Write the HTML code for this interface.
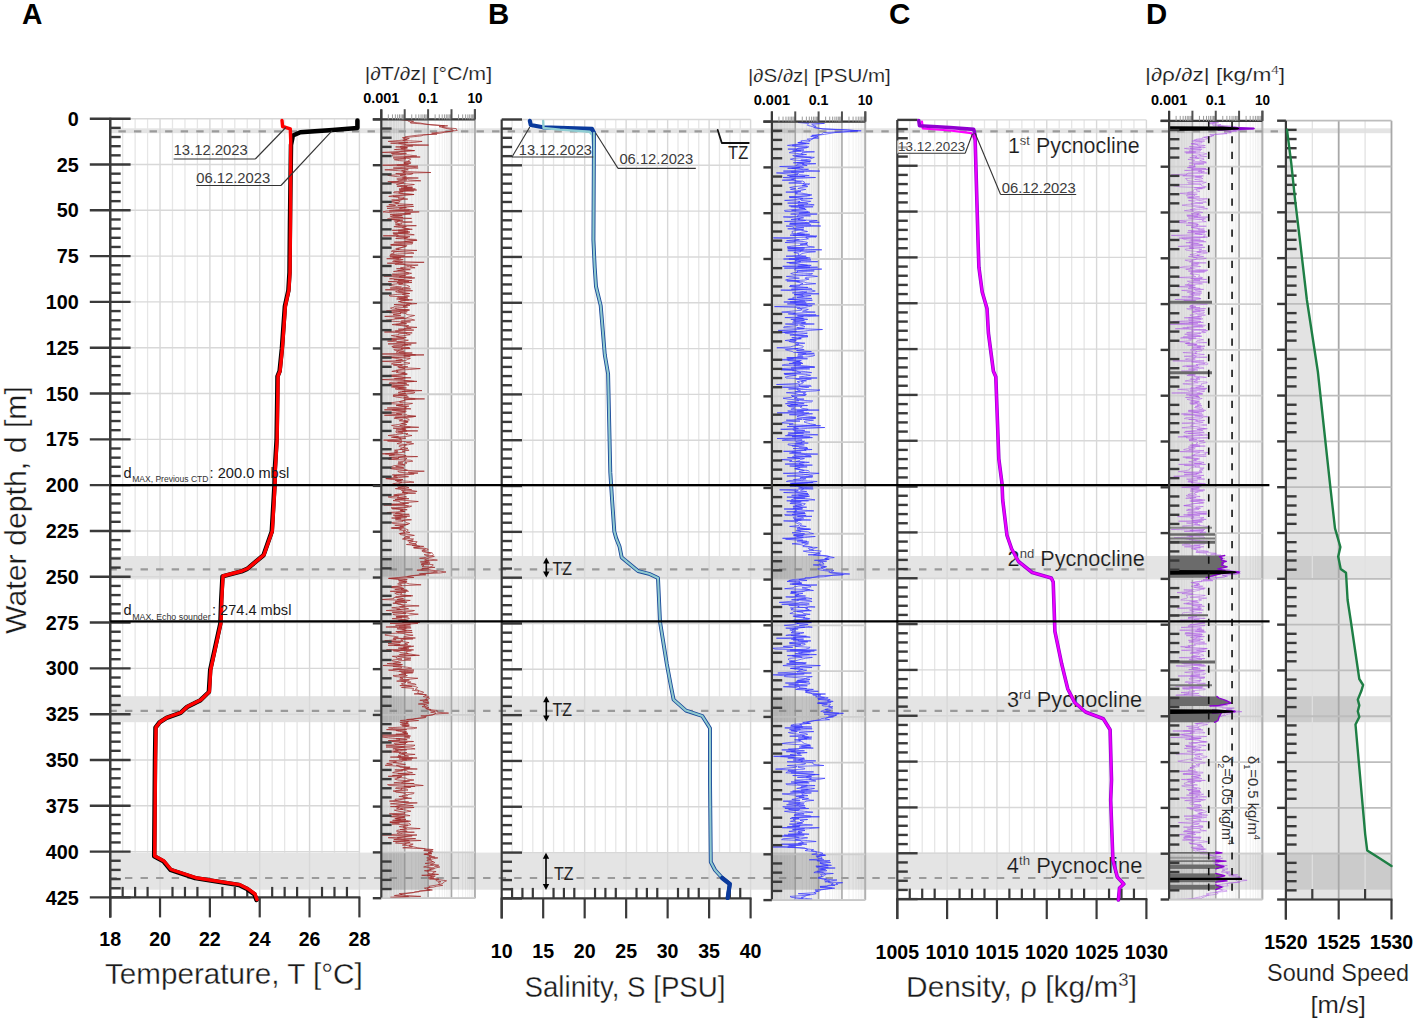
<!DOCTYPE html><html><head><meta charset="utf-8"><style>html,body{margin:0;padding:0;background:#fff;overflow:hidden;}svg{display:block;}</style></head><body><svg width="1417" height="1024" viewBox="0 0 1417 1024">
<style>.th{stroke:#fff;stroke-width:0.3px;}.th2{stroke:#fff;stroke-width:0.15px;}</style>
<rect x="0" y="0" width="1417" height="1024" fill="#ffffff" />
<rect x="381.3" y="119.4" width="23.4" height="778.8" fill="#d9d9d9" />
<rect x="404.7" y="119.4" width="23.4" height="778.8" fill="#efefef" />
<line x1="388.34" y1="119.4" x2="388.34" y2="898.2" stroke="#e4e4e4" stroke-width="1" />
<line x1="392.46" y1="119.4" x2="392.46" y2="898.2" stroke="#e4e4e4" stroke-width="1" />
<line x1="395.39" y1="119.4" x2="395.39" y2="898.2" stroke="#e4e4e4" stroke-width="1" />
<line x1="397.66" y1="119.4" x2="397.66" y2="898.2" stroke="#e4e4e4" stroke-width="1" />
<line x1="399.51" y1="119.4" x2="399.51" y2="898.2" stroke="#e4e4e4" stroke-width="1" />
<line x1="401.08" y1="119.4" x2="401.08" y2="898.2" stroke="#e4e4e4" stroke-width="1" />
<line x1="402.43" y1="119.4" x2="402.43" y2="898.2" stroke="#e4e4e4" stroke-width="1" />
<line x1="403.63" y1="119.4" x2="403.63" y2="898.2" stroke="#e4e4e4" stroke-width="1" />
<line x1="411.74" y1="119.4" x2="411.74" y2="898.2" stroke="#e4e4e4" stroke-width="1" />
<line x1="415.86" y1="119.4" x2="415.86" y2="898.2" stroke="#e4e4e4" stroke-width="1" />
<line x1="418.79" y1="119.4" x2="418.79" y2="898.2" stroke="#e4e4e4" stroke-width="1" />
<line x1="421.06" y1="119.4" x2="421.06" y2="898.2" stroke="#e4e4e4" stroke-width="1" />
<line x1="422.91" y1="119.4" x2="422.91" y2="898.2" stroke="#e4e4e4" stroke-width="1" />
<line x1="424.48" y1="119.4" x2="424.48" y2="898.2" stroke="#e4e4e4" stroke-width="1" />
<line x1="425.83" y1="119.4" x2="425.83" y2="898.2" stroke="#e4e4e4" stroke-width="1" />
<line x1="427.03" y1="119.4" x2="427.03" y2="898.2" stroke="#e4e4e4" stroke-width="1" />
<line x1="435.14" y1="119.4" x2="435.14" y2="898.2" stroke="#f0f0f0" stroke-width="1" />
<line x1="439.26" y1="119.4" x2="439.26" y2="898.2" stroke="#f0f0f0" stroke-width="1" />
<line x1="442.19" y1="119.4" x2="442.19" y2="898.2" stroke="#f0f0f0" stroke-width="1" />
<line x1="444.46" y1="119.4" x2="444.46" y2="898.2" stroke="#f0f0f0" stroke-width="1" />
<line x1="446.31" y1="119.4" x2="446.31" y2="898.2" stroke="#f0f0f0" stroke-width="1" />
<line x1="447.88" y1="119.4" x2="447.88" y2="898.2" stroke="#f0f0f0" stroke-width="1" />
<line x1="449.23" y1="119.4" x2="449.23" y2="898.2" stroke="#f0f0f0" stroke-width="1" />
<line x1="450.43" y1="119.4" x2="450.43" y2="898.2" stroke="#f0f0f0" stroke-width="1" />
<line x1="458.54" y1="119.4" x2="458.54" y2="898.2" stroke="#f0f0f0" stroke-width="1" />
<line x1="462.66" y1="119.4" x2="462.66" y2="898.2" stroke="#f0f0f0" stroke-width="1" />
<line x1="465.59" y1="119.4" x2="465.59" y2="898.2" stroke="#f0f0f0" stroke-width="1" />
<line x1="467.86" y1="119.4" x2="467.86" y2="898.2" stroke="#f0f0f0" stroke-width="1" />
<line x1="469.71" y1="119.4" x2="469.71" y2="898.2" stroke="#f0f0f0" stroke-width="1" />
<line x1="471.28" y1="119.4" x2="471.28" y2="898.2" stroke="#f0f0f0" stroke-width="1" />
<line x1="472.63" y1="119.4" x2="472.63" y2="898.2" stroke="#f0f0f0" stroke-width="1" />
<line x1="473.83" y1="119.4" x2="473.83" y2="898.2" stroke="#f0f0f0" stroke-width="1" />
<rect x="771.9" y="121.6" width="23.35" height="778.5" fill="#d9d9d9" />
<rect x="795.25" y="121.6" width="23.35" height="778.5" fill="#efefef" />
<line x1="778.93" y1="121.6" x2="778.93" y2="900.1" stroke="#e4e4e4" stroke-width="1" />
<line x1="783.04" y1="121.6" x2="783.04" y2="900.1" stroke="#e4e4e4" stroke-width="1" />
<line x1="785.96" y1="121.6" x2="785.96" y2="900.1" stroke="#e4e4e4" stroke-width="1" />
<line x1="788.22" y1="121.6" x2="788.22" y2="900.1" stroke="#e4e4e4" stroke-width="1" />
<line x1="790.07" y1="121.6" x2="790.07" y2="900.1" stroke="#e4e4e4" stroke-width="1" />
<line x1="791.63" y1="121.6" x2="791.63" y2="900.1" stroke="#e4e4e4" stroke-width="1" />
<line x1="792.99" y1="121.6" x2="792.99" y2="900.1" stroke="#e4e4e4" stroke-width="1" />
<line x1="794.18" y1="121.6" x2="794.18" y2="900.1" stroke="#e4e4e4" stroke-width="1" />
<line x1="802.28" y1="121.6" x2="802.28" y2="900.1" stroke="#e4e4e4" stroke-width="1" />
<line x1="806.39" y1="121.6" x2="806.39" y2="900.1" stroke="#e4e4e4" stroke-width="1" />
<line x1="809.31" y1="121.6" x2="809.31" y2="900.1" stroke="#e4e4e4" stroke-width="1" />
<line x1="811.57" y1="121.6" x2="811.57" y2="900.1" stroke="#e4e4e4" stroke-width="1" />
<line x1="813.42" y1="121.6" x2="813.42" y2="900.1" stroke="#e4e4e4" stroke-width="1" />
<line x1="814.98" y1="121.6" x2="814.98" y2="900.1" stroke="#e4e4e4" stroke-width="1" />
<line x1="816.34" y1="121.6" x2="816.34" y2="900.1" stroke="#e4e4e4" stroke-width="1" />
<line x1="817.53" y1="121.6" x2="817.53" y2="900.1" stroke="#e4e4e4" stroke-width="1" />
<line x1="825.63" y1="121.6" x2="825.63" y2="900.1" stroke="#f0f0f0" stroke-width="1" />
<line x1="829.74" y1="121.6" x2="829.74" y2="900.1" stroke="#f0f0f0" stroke-width="1" />
<line x1="832.66" y1="121.6" x2="832.66" y2="900.1" stroke="#f0f0f0" stroke-width="1" />
<line x1="834.92" y1="121.6" x2="834.92" y2="900.1" stroke="#f0f0f0" stroke-width="1" />
<line x1="836.77" y1="121.6" x2="836.77" y2="900.1" stroke="#f0f0f0" stroke-width="1" />
<line x1="838.33" y1="121.6" x2="838.33" y2="900.1" stroke="#f0f0f0" stroke-width="1" />
<line x1="839.69" y1="121.6" x2="839.69" y2="900.1" stroke="#f0f0f0" stroke-width="1" />
<line x1="840.88" y1="121.6" x2="840.88" y2="900.1" stroke="#f0f0f0" stroke-width="1" />
<line x1="848.98" y1="121.6" x2="848.98" y2="900.1" stroke="#f0f0f0" stroke-width="1" />
<line x1="853.09" y1="121.6" x2="853.09" y2="900.1" stroke="#f0f0f0" stroke-width="1" />
<line x1="856.01" y1="121.6" x2="856.01" y2="900.1" stroke="#f0f0f0" stroke-width="1" />
<line x1="858.27" y1="121.6" x2="858.27" y2="900.1" stroke="#f0f0f0" stroke-width="1" />
<line x1="860.12" y1="121.6" x2="860.12" y2="900.1" stroke="#f0f0f0" stroke-width="1" />
<line x1="861.68" y1="121.6" x2="861.68" y2="900.1" stroke="#f0f0f0" stroke-width="1" />
<line x1="863.04" y1="121.6" x2="863.04" y2="900.1" stroke="#f0f0f0" stroke-width="1" />
<line x1="864.23" y1="121.6" x2="864.23" y2="900.1" stroke="#f0f0f0" stroke-width="1" />
<rect x="1169.1" y="120.9" width="23.33" height="778.6" fill="#d9d9d9" />
<rect x="1192.42" y="120.9" width="23.33" height="778.6" fill="#efefef" />
<line x1="1176.12" y1="120.9" x2="1176.12" y2="899.5" stroke="#e4e4e4" stroke-width="1" />
<line x1="1180.23" y1="120.9" x2="1180.23" y2="899.5" stroke="#e4e4e4" stroke-width="1" />
<line x1="1183.14" y1="120.9" x2="1183.14" y2="899.5" stroke="#e4e4e4" stroke-width="1" />
<line x1="1185.4" y1="120.9" x2="1185.4" y2="899.5" stroke="#e4e4e4" stroke-width="1" />
<line x1="1187.25" y1="120.9" x2="1187.25" y2="899.5" stroke="#e4e4e4" stroke-width="1" />
<line x1="1188.81" y1="120.9" x2="1188.81" y2="899.5" stroke="#e4e4e4" stroke-width="1" />
<line x1="1190.16" y1="120.9" x2="1190.16" y2="899.5" stroke="#e4e4e4" stroke-width="1" />
<line x1="1191.36" y1="120.9" x2="1191.36" y2="899.5" stroke="#e4e4e4" stroke-width="1" />
<line x1="1199.45" y1="120.9" x2="1199.45" y2="899.5" stroke="#e4e4e4" stroke-width="1" />
<line x1="1203.55" y1="120.9" x2="1203.55" y2="899.5" stroke="#e4e4e4" stroke-width="1" />
<line x1="1206.47" y1="120.9" x2="1206.47" y2="899.5" stroke="#e4e4e4" stroke-width="1" />
<line x1="1208.73" y1="120.9" x2="1208.73" y2="899.5" stroke="#e4e4e4" stroke-width="1" />
<line x1="1210.58" y1="120.9" x2="1210.58" y2="899.5" stroke="#e4e4e4" stroke-width="1" />
<line x1="1212.14" y1="120.9" x2="1212.14" y2="899.5" stroke="#e4e4e4" stroke-width="1" />
<line x1="1213.49" y1="120.9" x2="1213.49" y2="899.5" stroke="#e4e4e4" stroke-width="1" />
<line x1="1214.68" y1="120.9" x2="1214.68" y2="899.5" stroke="#e4e4e4" stroke-width="1" />
<line x1="1222.77" y1="120.9" x2="1222.77" y2="899.5" stroke="#f0f0f0" stroke-width="1" />
<line x1="1226.88" y1="120.9" x2="1226.88" y2="899.5" stroke="#f0f0f0" stroke-width="1" />
<line x1="1229.79" y1="120.9" x2="1229.79" y2="899.5" stroke="#f0f0f0" stroke-width="1" />
<line x1="1232.05" y1="120.9" x2="1232.05" y2="899.5" stroke="#f0f0f0" stroke-width="1" />
<line x1="1233.9" y1="120.9" x2="1233.9" y2="899.5" stroke="#f0f0f0" stroke-width="1" />
<line x1="1235.46" y1="120.9" x2="1235.46" y2="899.5" stroke="#f0f0f0" stroke-width="1" />
<line x1="1236.81" y1="120.9" x2="1236.81" y2="899.5" stroke="#f0f0f0" stroke-width="1" />
<line x1="1238.01" y1="120.9" x2="1238.01" y2="899.5" stroke="#f0f0f0" stroke-width="1" />
<line x1="1246.1" y1="120.9" x2="1246.1" y2="899.5" stroke="#f0f0f0" stroke-width="1" />
<line x1="1250.2" y1="120.9" x2="1250.2" y2="899.5" stroke="#f0f0f0" stroke-width="1" />
<line x1="1253.12" y1="120.9" x2="1253.12" y2="899.5" stroke="#f0f0f0" stroke-width="1" />
<line x1="1255.38" y1="120.9" x2="1255.38" y2="899.5" stroke="#f0f0f0" stroke-width="1" />
<line x1="1257.23" y1="120.9" x2="1257.23" y2="899.5" stroke="#f0f0f0" stroke-width="1" />
<line x1="1258.79" y1="120.9" x2="1258.79" y2="899.5" stroke="#f0f0f0" stroke-width="1" />
<line x1="1260.14" y1="120.9" x2="1260.14" y2="899.5" stroke="#f0f0f0" stroke-width="1" />
<line x1="1261.33" y1="120.9" x2="1261.33" y2="899.5" stroke="#f0f0f0" stroke-width="1" />
<path d="M1285.9 129.8 L1287 129.8 L1291.2 162.7 L1295.1 200 L1299.9 240 L1306.9 300 L1317.9 372 L1330.4 487.7 L1335 528.3 L1340.4 547 L1338.2 556.5 L1340.7 569 L1346 572.8 L1347.6 600 L1350.7 620.3 L1359.3 679 L1363.1 685 L1361.4 690.8 L1357.8 699.6 L1359.3 705.4 L1357.8 711.3 L1359.3 717 L1355.5 724.5 L1365.2 834.3 L1367.2 850.4 L1374 854.8 L1380.7 859 L1391.5 866 L1391.5 899.5 L1285.9 899.5Z" fill="#e3e3e3"/>
<line x1="122.66" y1="118.7" x2="122.66" y2="897.4" stroke="#e6e6e6" stroke-width="1.3" />
<line x1="135.12" y1="118.7" x2="135.12" y2="897.4" stroke="#e6e6e6" stroke-width="1.3" />
<line x1="147.58" y1="118.7" x2="147.58" y2="897.4" stroke="#e6e6e6" stroke-width="1.3" />
<line x1="172.5" y1="118.7" x2="172.5" y2="897.4" stroke="#e6e6e6" stroke-width="1.3" />
<line x1="184.96" y1="118.7" x2="184.96" y2="897.4" stroke="#e6e6e6" stroke-width="1.3" />
<line x1="197.42" y1="118.7" x2="197.42" y2="897.4" stroke="#e6e6e6" stroke-width="1.3" />
<line x1="222.34" y1="118.7" x2="222.34" y2="897.4" stroke="#e6e6e6" stroke-width="1.3" />
<line x1="234.8" y1="118.7" x2="234.8" y2="897.4" stroke="#e6e6e6" stroke-width="1.3" />
<line x1="247.26" y1="118.7" x2="247.26" y2="897.4" stroke="#e6e6e6" stroke-width="1.3" />
<line x1="272.18" y1="118.7" x2="272.18" y2="897.4" stroke="#e6e6e6" stroke-width="1.3" />
<line x1="284.64" y1="118.7" x2="284.64" y2="897.4" stroke="#e6e6e6" stroke-width="1.3" />
<line x1="297.1" y1="118.7" x2="297.1" y2="897.4" stroke="#e6e6e6" stroke-width="1.3" />
<line x1="322.02" y1="118.7" x2="322.02" y2="897.4" stroke="#e6e6e6" stroke-width="1.3" />
<line x1="334.48" y1="118.7" x2="334.48" y2="897.4" stroke="#e6e6e6" stroke-width="1.3" />
<line x1="346.94" y1="118.7" x2="346.94" y2="897.4" stroke="#e6e6e6" stroke-width="1.3" />
<line x1="512.07" y1="119.5" x2="512.07" y2="898.4" stroke="#e6e6e6" stroke-width="1.3" />
<line x1="522.44" y1="119.5" x2="522.44" y2="898.4" stroke="#e6e6e6" stroke-width="1.3" />
<line x1="532.81" y1="119.5" x2="532.81" y2="898.4" stroke="#e6e6e6" stroke-width="1.3" />
<line x1="553.55" y1="119.5" x2="553.55" y2="898.4" stroke="#e6e6e6" stroke-width="1.3" />
<line x1="563.92" y1="119.5" x2="563.92" y2="898.4" stroke="#e6e6e6" stroke-width="1.3" />
<line x1="574.3" y1="119.5" x2="574.3" y2="898.4" stroke="#e6e6e6" stroke-width="1.3" />
<line x1="595.04" y1="119.5" x2="595.04" y2="898.4" stroke="#e6e6e6" stroke-width="1.3" />
<line x1="605.41" y1="119.5" x2="605.41" y2="898.4" stroke="#e6e6e6" stroke-width="1.3" />
<line x1="615.78" y1="119.5" x2="615.78" y2="898.4" stroke="#e6e6e6" stroke-width="1.3" />
<line x1="636.52" y1="119.5" x2="636.52" y2="898.4" stroke="#e6e6e6" stroke-width="1.3" />
<line x1="646.89" y1="119.5" x2="646.89" y2="898.4" stroke="#e6e6e6" stroke-width="1.3" />
<line x1="657.26" y1="119.5" x2="657.26" y2="898.4" stroke="#e6e6e6" stroke-width="1.3" />
<line x1="678" y1="119.5" x2="678" y2="898.4" stroke="#e6e6e6" stroke-width="1.3" />
<line x1="688.38" y1="119.5" x2="688.38" y2="898.4" stroke="#e6e6e6" stroke-width="1.3" />
<line x1="698.75" y1="119.5" x2="698.75" y2="898.4" stroke="#e6e6e6" stroke-width="1.3" />
<line x1="719.49" y1="119.5" x2="719.49" y2="898.4" stroke="#e6e6e6" stroke-width="1.3" />
<line x1="729.86" y1="119.5" x2="729.86" y2="898.4" stroke="#e6e6e6" stroke-width="1.3" />
<line x1="740.23" y1="119.5" x2="740.23" y2="898.4" stroke="#e6e6e6" stroke-width="1.3" />
<line x1="909.75" y1="119.9" x2="909.75" y2="899.1" stroke="#e6e6e6" stroke-width="1.3" />
<line x1="922.21" y1="119.9" x2="922.21" y2="899.1" stroke="#e6e6e6" stroke-width="1.3" />
<line x1="934.66" y1="119.9" x2="934.66" y2="899.1" stroke="#e6e6e6" stroke-width="1.3" />
<line x1="959.58" y1="119.9" x2="959.58" y2="899.1" stroke="#e6e6e6" stroke-width="1.3" />
<line x1="972.03" y1="119.9" x2="972.03" y2="899.1" stroke="#e6e6e6" stroke-width="1.3" />
<line x1="984.49" y1="119.9" x2="984.49" y2="899.1" stroke="#e6e6e6" stroke-width="1.3" />
<line x1="1009.39" y1="119.9" x2="1009.39" y2="899.1" stroke="#e6e6e6" stroke-width="1.3" />
<line x1="1021.85" y1="119.9" x2="1021.85" y2="899.1" stroke="#e6e6e6" stroke-width="1.3" />
<line x1="1034.31" y1="119.9" x2="1034.31" y2="899.1" stroke="#e6e6e6" stroke-width="1.3" />
<line x1="1059.22" y1="119.9" x2="1059.22" y2="899.1" stroke="#e6e6e6" stroke-width="1.3" />
<line x1="1071.67" y1="119.9" x2="1071.67" y2="899.1" stroke="#e6e6e6" stroke-width="1.3" />
<line x1="1084.12" y1="119.9" x2="1084.12" y2="899.1" stroke="#e6e6e6" stroke-width="1.3" />
<line x1="1109.04" y1="119.9" x2="1109.04" y2="899.1" stroke="#e6e6e6" stroke-width="1.3" />
<line x1="1121.49" y1="119.9" x2="1121.49" y2="899.1" stroke="#e6e6e6" stroke-width="1.3" />
<line x1="1133.95" y1="119.9" x2="1133.95" y2="899.1" stroke="#e6e6e6" stroke-width="1.3" />
<rect x="110.2" y="128.3" width="271.1" height="4.9" fill="#e4e4e4" />
<rect x="474.9" y="128.3" width="297" height="4.9" fill="#e4e4e4" />
<rect x="865.3" y="128.3" width="303.8" height="4.9" fill="#e4e4e4" />
<rect x="1262.4" y="128.3" width="23.5" height="4.9" fill="#e4e4e4" />
<rect x="381.3" y="128.3" width="93.6" height="4.9" fill="rgba(0,0,0,0.105)" />
<rect x="771.9" y="128.3" width="93.4" height="4.9" fill="rgba(0,0,0,0.105)" />
<rect x="1169.1" y="128.3" width="93.3" height="4.9" fill="rgba(0,0,0,0.105)" />
<rect x="1285.9" y="128.3" width="105.6" height="4.9" fill="rgba(0,0,0,0.105)" />
<rect x="110.2" y="556" width="271.1" height="23.4" fill="#e4e4e4" />
<rect x="474.9" y="556" width="297" height="23.4" fill="#e4e4e4" />
<rect x="865.3" y="556" width="303.8" height="23.4" fill="#e4e4e4" />
<rect x="1262.4" y="556" width="23.5" height="23.4" fill="#e4e4e4" />
<rect x="381.3" y="556" width="93.6" height="23.4" fill="rgba(0,0,0,0.105)" />
<rect x="771.9" y="556" width="93.4" height="23.4" fill="rgba(0,0,0,0.105)" />
<rect x="1169.1" y="556" width="93.3" height="23.4" fill="rgba(0,0,0,0.105)" />
<rect x="1285.9" y="556" width="105.6" height="23.4" fill="rgba(0,0,0,0.105)" />
<rect x="110.2" y="696.2" width="271.1" height="26" fill="#e4e4e4" />
<rect x="474.9" y="696.2" width="297" height="26" fill="#e4e4e4" />
<rect x="865.3" y="696.2" width="303.8" height="26" fill="#e4e4e4" />
<rect x="1262.4" y="696.2" width="23.5" height="26" fill="#e4e4e4" />
<rect x="381.3" y="696.2" width="93.6" height="26" fill="rgba(0,0,0,0.105)" />
<rect x="771.9" y="696.2" width="93.4" height="26" fill="rgba(0,0,0,0.105)" />
<rect x="1169.1" y="696.2" width="93.3" height="26" fill="rgba(0,0,0,0.105)" />
<rect x="1285.9" y="696.2" width="105.6" height="26" fill="rgba(0,0,0,0.105)" />
<rect x="110.2" y="852.6" width="271.1" height="37.1" fill="#e4e4e4" />
<rect x="474.9" y="852.6" width="297" height="37.1" fill="#e4e4e4" />
<rect x="865.3" y="852.6" width="303.8" height="37.1" fill="#e4e4e4" />
<rect x="1262.4" y="852.6" width="23.5" height="37.1" fill="#e4e4e4" />
<rect x="381.3" y="852.6" width="93.6" height="37.1" fill="rgba(0,0,0,0.105)" />
<rect x="771.9" y="852.6" width="93.4" height="37.1" fill="rgba(0,0,0,0.105)" />
<rect x="1169.1" y="852.6" width="93.3" height="37.1" fill="rgba(0,0,0,0.105)" />
<rect x="1285.9" y="852.6" width="105.6" height="37.1" fill="rgba(0,0,0,0.105)" />
<line x1="160.04" y1="118.7" x2="160.04" y2="897.4" stroke="#d8d8d8" stroke-width="1.4" />
<line x1="209.88" y1="118.7" x2="209.88" y2="897.4" stroke="#d8d8d8" stroke-width="1.4" />
<line x1="259.72" y1="118.7" x2="259.72" y2="897.4" stroke="#d8d8d8" stroke-width="1.4" />
<line x1="309.56" y1="118.7" x2="309.56" y2="897.4" stroke="#d8d8d8" stroke-width="1.4" />
<line x1="359.4" y1="118.7" x2="359.4" y2="897.4" stroke="#d8d8d8" stroke-width="1.4" />
<line x1="543.18" y1="119.5" x2="543.18" y2="898.4" stroke="#d8d8d8" stroke-width="1.4" />
<line x1="584.67" y1="119.5" x2="584.67" y2="898.4" stroke="#d8d8d8" stroke-width="1.4" />
<line x1="626.15" y1="119.5" x2="626.15" y2="898.4" stroke="#d8d8d8" stroke-width="1.4" />
<line x1="667.63" y1="119.5" x2="667.63" y2="898.4" stroke="#d8d8d8" stroke-width="1.4" />
<line x1="709.12" y1="119.5" x2="709.12" y2="898.4" stroke="#d8d8d8" stroke-width="1.4" />
<line x1="750.6" y1="119.5" x2="750.6" y2="898.4" stroke="#d8d8d8" stroke-width="1.4" />
<line x1="947.12" y1="119.9" x2="947.12" y2="899.1" stroke="#d8d8d8" stroke-width="1.4" />
<line x1="996.94" y1="119.9" x2="996.94" y2="899.1" stroke="#d8d8d8" stroke-width="1.4" />
<line x1="1046.76" y1="119.9" x2="1046.76" y2="899.1" stroke="#d8d8d8" stroke-width="1.4" />
<line x1="1096.58" y1="119.9" x2="1096.58" y2="899.1" stroke="#d8d8d8" stroke-width="1.4" />
<line x1="1146.4" y1="119.9" x2="1146.4" y2="899.1" stroke="#d8d8d8" stroke-width="1.4" />
<line x1="110.2" y1="118.7" x2="359.4" y2="118.7" stroke="#d8d8d8" stroke-width="1.4" />
<line x1="110.2" y1="164.51" x2="359.4" y2="164.51" stroke="#d8d8d8" stroke-width="1.4" />
<line x1="110.2" y1="210.31" x2="359.4" y2="210.31" stroke="#d8d8d8" stroke-width="1.4" />
<line x1="110.2" y1="256.12" x2="359.4" y2="256.12" stroke="#d8d8d8" stroke-width="1.4" />
<line x1="110.2" y1="301.92" x2="359.4" y2="301.92" stroke="#d8d8d8" stroke-width="1.4" />
<line x1="110.2" y1="347.73" x2="359.4" y2="347.73" stroke="#d8d8d8" stroke-width="1.4" />
<line x1="110.2" y1="393.54" x2="359.4" y2="393.54" stroke="#d8d8d8" stroke-width="1.4" />
<line x1="110.2" y1="439.34" x2="359.4" y2="439.34" stroke="#d8d8d8" stroke-width="1.4" />
<line x1="110.2" y1="485.15" x2="359.4" y2="485.15" stroke="#d8d8d8" stroke-width="1.4" />
<line x1="110.2" y1="530.95" x2="359.4" y2="530.95" stroke="#d8d8d8" stroke-width="1.4" />
<line x1="110.2" y1="576.76" x2="359.4" y2="576.76" stroke="#d8d8d8" stroke-width="1.4" />
<line x1="110.2" y1="622.56" x2="359.4" y2="622.56" stroke="#d8d8d8" stroke-width="1.4" />
<line x1="110.2" y1="668.37" x2="359.4" y2="668.37" stroke="#d8d8d8" stroke-width="1.4" />
<line x1="110.2" y1="714.18" x2="359.4" y2="714.18" stroke="#d8d8d8" stroke-width="1.4" />
<line x1="110.2" y1="759.98" x2="359.4" y2="759.98" stroke="#d8d8d8" stroke-width="1.4" />
<line x1="110.2" y1="805.79" x2="359.4" y2="805.79" stroke="#d8d8d8" stroke-width="1.4" />
<line x1="110.2" y1="851.59" x2="359.4" y2="851.59" stroke="#d8d8d8" stroke-width="1.4" />
<line x1="110.2" y1="897.4" x2="359.4" y2="897.4" stroke="#d8d8d8" stroke-width="1.4" />
<line x1="501.7" y1="119.5" x2="750.6" y2="119.5" stroke="#d8d8d8" stroke-width="1.4" />
<line x1="501.7" y1="165.32" x2="750.6" y2="165.32" stroke="#d8d8d8" stroke-width="1.4" />
<line x1="501.7" y1="211.14" x2="750.6" y2="211.14" stroke="#d8d8d8" stroke-width="1.4" />
<line x1="501.7" y1="256.95" x2="750.6" y2="256.95" stroke="#d8d8d8" stroke-width="1.4" />
<line x1="501.7" y1="302.77" x2="750.6" y2="302.77" stroke="#d8d8d8" stroke-width="1.4" />
<line x1="501.7" y1="348.59" x2="750.6" y2="348.59" stroke="#d8d8d8" stroke-width="1.4" />
<line x1="501.7" y1="394.41" x2="750.6" y2="394.41" stroke="#d8d8d8" stroke-width="1.4" />
<line x1="501.7" y1="440.22" x2="750.6" y2="440.22" stroke="#d8d8d8" stroke-width="1.4" />
<line x1="501.7" y1="486.04" x2="750.6" y2="486.04" stroke="#d8d8d8" stroke-width="1.4" />
<line x1="501.7" y1="531.86" x2="750.6" y2="531.86" stroke="#d8d8d8" stroke-width="1.4" />
<line x1="501.7" y1="577.68" x2="750.6" y2="577.68" stroke="#d8d8d8" stroke-width="1.4" />
<line x1="501.7" y1="623.49" x2="750.6" y2="623.49" stroke="#d8d8d8" stroke-width="1.4" />
<line x1="501.7" y1="669.31" x2="750.6" y2="669.31" stroke="#d8d8d8" stroke-width="1.4" />
<line x1="501.7" y1="715.13" x2="750.6" y2="715.13" stroke="#d8d8d8" stroke-width="1.4" />
<line x1="501.7" y1="760.95" x2="750.6" y2="760.95" stroke="#d8d8d8" stroke-width="1.4" />
<line x1="501.7" y1="806.76" x2="750.6" y2="806.76" stroke="#d8d8d8" stroke-width="1.4" />
<line x1="501.7" y1="852.58" x2="750.6" y2="852.58" stroke="#d8d8d8" stroke-width="1.4" />
<line x1="501.7" y1="898.4" x2="750.6" y2="898.4" stroke="#d8d8d8" stroke-width="1.4" />
<line x1="897.3" y1="119.9" x2="1146.4" y2="119.9" stroke="#d8d8d8" stroke-width="1.4" />
<line x1="897.3" y1="165.74" x2="1146.4" y2="165.74" stroke="#d8d8d8" stroke-width="1.4" />
<line x1="897.3" y1="211.57" x2="1146.4" y2="211.57" stroke="#d8d8d8" stroke-width="1.4" />
<line x1="897.3" y1="257.41" x2="1146.4" y2="257.41" stroke="#d8d8d8" stroke-width="1.4" />
<line x1="897.3" y1="303.24" x2="1146.4" y2="303.24" stroke="#d8d8d8" stroke-width="1.4" />
<line x1="897.3" y1="349.08" x2="1146.4" y2="349.08" stroke="#d8d8d8" stroke-width="1.4" />
<line x1="897.3" y1="394.91" x2="1146.4" y2="394.91" stroke="#d8d8d8" stroke-width="1.4" />
<line x1="897.3" y1="440.75" x2="1146.4" y2="440.75" stroke="#d8d8d8" stroke-width="1.4" />
<line x1="897.3" y1="486.58" x2="1146.4" y2="486.58" stroke="#d8d8d8" stroke-width="1.4" />
<line x1="897.3" y1="532.42" x2="1146.4" y2="532.42" stroke="#d8d8d8" stroke-width="1.4" />
<line x1="897.3" y1="578.25" x2="1146.4" y2="578.25" stroke="#d8d8d8" stroke-width="1.4" />
<line x1="897.3" y1="624.09" x2="1146.4" y2="624.09" stroke="#d8d8d8" stroke-width="1.4" />
<line x1="897.3" y1="669.92" x2="1146.4" y2="669.92" stroke="#d8d8d8" stroke-width="1.4" />
<line x1="897.3" y1="715.76" x2="1146.4" y2="715.76" stroke="#d8d8d8" stroke-width="1.4" />
<line x1="897.3" y1="761.59" x2="1146.4" y2="761.59" stroke="#d8d8d8" stroke-width="1.4" />
<line x1="897.3" y1="807.43" x2="1146.4" y2="807.43" stroke="#d8d8d8" stroke-width="1.4" />
<line x1="897.3" y1="853.26" x2="1146.4" y2="853.26" stroke="#d8d8d8" stroke-width="1.4" />
<line x1="897.3" y1="899.1" x2="1146.4" y2="899.1" stroke="#d8d8d8" stroke-width="1.4" />
<line x1="404.7" y1="119.4" x2="404.7" y2="898.2" stroke="#a8a8a8" stroke-width="1.6" />
<line x1="428.1" y1="119.4" x2="428.1" y2="898.2" stroke="#a8a8a8" stroke-width="1.6" />
<line x1="451.5" y1="119.4" x2="451.5" y2="898.2" stroke="#a8a8a8" stroke-width="1.6" />
<line x1="474.9" y1="119.4" x2="474.9" y2="898.2" stroke="#a8a8a8" stroke-width="1.6" />
<line x1="474.9" y1="119.4" x2="474.9" y2="898.2" stroke="#b0b0b0" stroke-width="1.6" />
<line x1="381.3" y1="119.4" x2="474.9" y2="119.4" stroke="#cfcfcf" stroke-width="1.8" />
<line x1="381.3" y1="165.21" x2="474.9" y2="165.21" stroke="#cfcfcf" stroke-width="1.8" />
<line x1="381.3" y1="211.02" x2="474.9" y2="211.02" stroke="#cfcfcf" stroke-width="1.8" />
<line x1="381.3" y1="256.84" x2="474.9" y2="256.84" stroke="#cfcfcf" stroke-width="1.8" />
<line x1="381.3" y1="302.65" x2="474.9" y2="302.65" stroke="#cfcfcf" stroke-width="1.8" />
<line x1="381.3" y1="348.46" x2="474.9" y2="348.46" stroke="#cfcfcf" stroke-width="1.8" />
<line x1="381.3" y1="394.27" x2="474.9" y2="394.27" stroke="#cfcfcf" stroke-width="1.8" />
<line x1="381.3" y1="440.08" x2="474.9" y2="440.08" stroke="#cfcfcf" stroke-width="1.8" />
<line x1="381.3" y1="485.89" x2="474.9" y2="485.89" stroke="#cfcfcf" stroke-width="1.8" />
<line x1="381.3" y1="531.71" x2="474.9" y2="531.71" stroke="#cfcfcf" stroke-width="1.8" />
<line x1="381.3" y1="577.52" x2="474.9" y2="577.52" stroke="#cfcfcf" stroke-width="1.8" />
<line x1="381.3" y1="623.33" x2="474.9" y2="623.33" stroke="#cfcfcf" stroke-width="1.8" />
<line x1="381.3" y1="669.14" x2="474.9" y2="669.14" stroke="#cfcfcf" stroke-width="1.8" />
<line x1="381.3" y1="714.95" x2="474.9" y2="714.95" stroke="#cfcfcf" stroke-width="1.8" />
<line x1="381.3" y1="760.76" x2="474.9" y2="760.76" stroke="#cfcfcf" stroke-width="1.8" />
<line x1="381.3" y1="806.58" x2="474.9" y2="806.58" stroke="#cfcfcf" stroke-width="1.8" />
<line x1="381.3" y1="852.39" x2="474.9" y2="852.39" stroke="#cfcfcf" stroke-width="1.8" />
<line x1="381.3" y1="898.2" x2="474.9" y2="898.2" stroke="#cfcfcf" stroke-width="1.8" />
<line x1="795.25" y1="121.6" x2="795.25" y2="900.1" stroke="#a8a8a8" stroke-width="1.6" />
<line x1="818.6" y1="121.6" x2="818.6" y2="900.1" stroke="#a8a8a8" stroke-width="1.6" />
<line x1="841.95" y1="121.6" x2="841.95" y2="900.1" stroke="#a8a8a8" stroke-width="1.6" />
<line x1="865.3" y1="121.6" x2="865.3" y2="900.1" stroke="#a8a8a8" stroke-width="1.6" />
<line x1="865.3" y1="121.6" x2="865.3" y2="900.1" stroke="#b0b0b0" stroke-width="1.6" />
<line x1="771.9" y1="121.6" x2="865.3" y2="121.6" stroke="#cfcfcf" stroke-width="1.8" />
<line x1="771.9" y1="167.39" x2="865.3" y2="167.39" stroke="#cfcfcf" stroke-width="1.8" />
<line x1="771.9" y1="213.19" x2="865.3" y2="213.19" stroke="#cfcfcf" stroke-width="1.8" />
<line x1="771.9" y1="258.98" x2="865.3" y2="258.98" stroke="#cfcfcf" stroke-width="1.8" />
<line x1="771.9" y1="304.78" x2="865.3" y2="304.78" stroke="#cfcfcf" stroke-width="1.8" />
<line x1="771.9" y1="350.57" x2="865.3" y2="350.57" stroke="#cfcfcf" stroke-width="1.8" />
<line x1="771.9" y1="396.36" x2="865.3" y2="396.36" stroke="#cfcfcf" stroke-width="1.8" />
<line x1="771.9" y1="442.16" x2="865.3" y2="442.16" stroke="#cfcfcf" stroke-width="1.8" />
<line x1="771.9" y1="487.95" x2="865.3" y2="487.95" stroke="#cfcfcf" stroke-width="1.8" />
<line x1="771.9" y1="533.75" x2="865.3" y2="533.75" stroke="#cfcfcf" stroke-width="1.8" />
<line x1="771.9" y1="579.54" x2="865.3" y2="579.54" stroke="#cfcfcf" stroke-width="1.8" />
<line x1="771.9" y1="625.34" x2="865.3" y2="625.34" stroke="#cfcfcf" stroke-width="1.8" />
<line x1="771.9" y1="671.13" x2="865.3" y2="671.13" stroke="#cfcfcf" stroke-width="1.8" />
<line x1="771.9" y1="716.92" x2="865.3" y2="716.92" stroke="#cfcfcf" stroke-width="1.8" />
<line x1="771.9" y1="762.72" x2="865.3" y2="762.72" stroke="#cfcfcf" stroke-width="1.8" />
<line x1="771.9" y1="808.51" x2="865.3" y2="808.51" stroke="#cfcfcf" stroke-width="1.8" />
<line x1="771.9" y1="854.31" x2="865.3" y2="854.31" stroke="#cfcfcf" stroke-width="1.8" />
<line x1="771.9" y1="900.1" x2="865.3" y2="900.1" stroke="#cfcfcf" stroke-width="1.8" />
<line x1="1192.42" y1="120.9" x2="1192.42" y2="899.5" stroke="#a8a8a8" stroke-width="1.6" />
<line x1="1215.75" y1="120.9" x2="1215.75" y2="899.5" stroke="#a8a8a8" stroke-width="1.6" />
<line x1="1239.08" y1="120.9" x2="1239.08" y2="899.5" stroke="#a8a8a8" stroke-width="1.6" />
<line x1="1262.4" y1="120.9" x2="1262.4" y2="899.5" stroke="#a8a8a8" stroke-width="1.6" />
<line x1="1262.4" y1="120.9" x2="1262.4" y2="899.5" stroke="#b0b0b0" stroke-width="1.6" />
<line x1="1169.1" y1="120.9" x2="1262.4" y2="120.9" stroke="#cfcfcf" stroke-width="1.8" />
<line x1="1169.1" y1="166.7" x2="1262.4" y2="166.7" stroke="#cfcfcf" stroke-width="1.8" />
<line x1="1169.1" y1="212.5" x2="1262.4" y2="212.5" stroke="#cfcfcf" stroke-width="1.8" />
<line x1="1169.1" y1="258.3" x2="1262.4" y2="258.3" stroke="#cfcfcf" stroke-width="1.8" />
<line x1="1169.1" y1="304.1" x2="1262.4" y2="304.1" stroke="#cfcfcf" stroke-width="1.8" />
<line x1="1169.1" y1="349.9" x2="1262.4" y2="349.9" stroke="#cfcfcf" stroke-width="1.8" />
<line x1="1169.1" y1="395.7" x2="1262.4" y2="395.7" stroke="#cfcfcf" stroke-width="1.8" />
<line x1="1169.1" y1="441.5" x2="1262.4" y2="441.5" stroke="#cfcfcf" stroke-width="1.8" />
<line x1="1169.1" y1="487.3" x2="1262.4" y2="487.3" stroke="#cfcfcf" stroke-width="1.8" />
<line x1="1169.1" y1="533.1" x2="1262.4" y2="533.1" stroke="#cfcfcf" stroke-width="1.8" />
<line x1="1169.1" y1="578.9" x2="1262.4" y2="578.9" stroke="#cfcfcf" stroke-width="1.8" />
<line x1="1169.1" y1="624.7" x2="1262.4" y2="624.7" stroke="#cfcfcf" stroke-width="1.8" />
<line x1="1169.1" y1="670.5" x2="1262.4" y2="670.5" stroke="#cfcfcf" stroke-width="1.8" />
<line x1="1169.1" y1="716.3" x2="1262.4" y2="716.3" stroke="#cfcfcf" stroke-width="1.8" />
<line x1="1169.1" y1="762.1" x2="1262.4" y2="762.1" stroke="#cfcfcf" stroke-width="1.8" />
<line x1="1169.1" y1="807.9" x2="1262.4" y2="807.9" stroke="#cfcfcf" stroke-width="1.8" />
<line x1="1169.1" y1="853.7" x2="1262.4" y2="853.7" stroke="#cfcfcf" stroke-width="1.8" />
<line x1="1169.1" y1="899.5" x2="1262.4" y2="899.5" stroke="#cfcfcf" stroke-width="1.8" />
<line x1="1312.3" y1="120.7" x2="1312.3" y2="899.5" stroke="#e0e0e0" stroke-width="1.2" />
<line x1="1338.7" y1="120.7" x2="1338.7" y2="899.5" stroke="#a8a8a8" stroke-width="1.8" />
<line x1="1365.1" y1="120.7" x2="1365.1" y2="899.5" stroke="#e0e0e0" stroke-width="1.2" />
<line x1="1391.5" y1="120.7" x2="1391.5" y2="899.5" stroke="#a8a8a8" stroke-width="1.8" />
<line x1="1285.9" y1="120.7" x2="1391.5" y2="120.7" stroke="#bdbdbd" stroke-width="1.8" />
<line x1="1285.9" y1="166.51" x2="1391.5" y2="166.51" stroke="#bdbdbd" stroke-width="1.8" />
<line x1="1285.9" y1="212.32" x2="1391.5" y2="212.32" stroke="#bdbdbd" stroke-width="1.8" />
<line x1="1285.9" y1="258.14" x2="1391.5" y2="258.14" stroke="#bdbdbd" stroke-width="1.8" />
<line x1="1285.9" y1="303.95" x2="1391.5" y2="303.95" stroke="#bdbdbd" stroke-width="1.8" />
<line x1="1285.9" y1="349.76" x2="1391.5" y2="349.76" stroke="#bdbdbd" stroke-width="1.8" />
<line x1="1285.9" y1="395.57" x2="1391.5" y2="395.57" stroke="#bdbdbd" stroke-width="1.8" />
<line x1="1285.9" y1="441.38" x2="1391.5" y2="441.38" stroke="#bdbdbd" stroke-width="1.8" />
<line x1="1285.9" y1="487.19" x2="1391.5" y2="487.19" stroke="#bdbdbd" stroke-width="1.8" />
<line x1="1285.9" y1="533.01" x2="1391.5" y2="533.01" stroke="#bdbdbd" stroke-width="1.8" />
<line x1="1285.9" y1="578.82" x2="1391.5" y2="578.82" stroke="#bdbdbd" stroke-width="1.8" />
<line x1="1285.9" y1="624.63" x2="1391.5" y2="624.63" stroke="#bdbdbd" stroke-width="1.8" />
<line x1="1285.9" y1="670.44" x2="1391.5" y2="670.44" stroke="#bdbdbd" stroke-width="1.8" />
<line x1="1285.9" y1="716.25" x2="1391.5" y2="716.25" stroke="#bdbdbd" stroke-width="1.8" />
<line x1="1285.9" y1="762.06" x2="1391.5" y2="762.06" stroke="#bdbdbd" stroke-width="1.8" />
<line x1="1285.9" y1="807.88" x2="1391.5" y2="807.88" stroke="#bdbdbd" stroke-width="1.8" />
<line x1="1285.9" y1="853.69" x2="1391.5" y2="853.69" stroke="#bdbdbd" stroke-width="1.8" />
<line x1="1285.9" y1="899.5" x2="1391.5" y2="899.5" stroke="#bdbdbd" stroke-width="1.8" />
<line x1="118.4" y1="131.4" x2="1285.9" y2="131.4" stroke="#9a9a9a" stroke-width="2.2" stroke-dasharray="7.4 8.17"/>
<line x1="109.4" y1="569.4" x2="1146.4" y2="569.4" stroke="#9a9a9a" stroke-width="2.2" stroke-dasharray="7.4 8.17"/>
<line x1="109.4" y1="710.9" x2="1146.4" y2="710.9" stroke="#9a9a9a" stroke-width="2.2" stroke-dasharray="7.4 8.17"/>
<line x1="109.4" y1="878" x2="1146.4" y2="878" stroke="#9a9a9a" stroke-width="2.2" stroke-dasharray="7.4 8.17"/>
<line x1="110.2" y1="118.7" x2="110.2" y2="917.4" stroke="#3a3a3a" stroke-width="2.2" />
<line x1="89.8" y1="118.7" x2="130.6" y2="118.7" stroke="#3a3a3a" stroke-width="2.4" />
<line x1="110.2" y1="127.86" x2="120.7" y2="127.86" stroke="#3a3a3a" stroke-width="2.4" />
<line x1="110.2" y1="137.02" x2="120.7" y2="137.02" stroke="#3a3a3a" stroke-width="2.4" />
<line x1="110.2" y1="146.18" x2="120.7" y2="146.18" stroke="#3a3a3a" stroke-width="2.4" />
<line x1="110.2" y1="155.34" x2="120.7" y2="155.34" stroke="#3a3a3a" stroke-width="2.4" />
<line x1="89.8" y1="164.51" x2="130.6" y2="164.51" stroke="#3a3a3a" stroke-width="2.4" />
<line x1="110.2" y1="173.67" x2="120.7" y2="173.67" stroke="#3a3a3a" stroke-width="2.4" />
<line x1="110.2" y1="182.83" x2="120.7" y2="182.83" stroke="#3a3a3a" stroke-width="2.4" />
<line x1="110.2" y1="191.99" x2="120.7" y2="191.99" stroke="#3a3a3a" stroke-width="2.4" />
<line x1="110.2" y1="201.15" x2="120.7" y2="201.15" stroke="#3a3a3a" stroke-width="2.4" />
<line x1="89.8" y1="210.31" x2="130.6" y2="210.31" stroke="#3a3a3a" stroke-width="2.4" />
<line x1="110.2" y1="219.47" x2="120.7" y2="219.47" stroke="#3a3a3a" stroke-width="2.4" />
<line x1="110.2" y1="228.63" x2="120.7" y2="228.63" stroke="#3a3a3a" stroke-width="2.4" />
<line x1="110.2" y1="237.8" x2="120.7" y2="237.8" stroke="#3a3a3a" stroke-width="2.4" />
<line x1="110.2" y1="246.96" x2="120.7" y2="246.96" stroke="#3a3a3a" stroke-width="2.4" />
<line x1="89.8" y1="256.12" x2="130.6" y2="256.12" stroke="#3a3a3a" stroke-width="2.4" />
<line x1="110.2" y1="265.28" x2="120.7" y2="265.28" stroke="#3a3a3a" stroke-width="2.4" />
<line x1="110.2" y1="274.44" x2="120.7" y2="274.44" stroke="#3a3a3a" stroke-width="2.4" />
<line x1="110.2" y1="283.6" x2="120.7" y2="283.6" stroke="#3a3a3a" stroke-width="2.4" />
<line x1="110.2" y1="292.76" x2="120.7" y2="292.76" stroke="#3a3a3a" stroke-width="2.4" />
<line x1="89.8" y1="301.92" x2="130.6" y2="301.92" stroke="#3a3a3a" stroke-width="2.4" />
<line x1="110.2" y1="311.08" x2="120.7" y2="311.08" stroke="#3a3a3a" stroke-width="2.4" />
<line x1="110.2" y1="320.25" x2="120.7" y2="320.25" stroke="#3a3a3a" stroke-width="2.4" />
<line x1="110.2" y1="329.41" x2="120.7" y2="329.41" stroke="#3a3a3a" stroke-width="2.4" />
<line x1="110.2" y1="338.57" x2="120.7" y2="338.57" stroke="#3a3a3a" stroke-width="2.4" />
<line x1="89.8" y1="347.73" x2="130.6" y2="347.73" stroke="#3a3a3a" stroke-width="2.4" />
<line x1="110.2" y1="356.89" x2="120.7" y2="356.89" stroke="#3a3a3a" stroke-width="2.4" />
<line x1="110.2" y1="366.05" x2="120.7" y2="366.05" stroke="#3a3a3a" stroke-width="2.4" />
<line x1="110.2" y1="375.21" x2="120.7" y2="375.21" stroke="#3a3a3a" stroke-width="2.4" />
<line x1="110.2" y1="384.37" x2="120.7" y2="384.37" stroke="#3a3a3a" stroke-width="2.4" />
<line x1="89.8" y1="393.54" x2="130.6" y2="393.54" stroke="#3a3a3a" stroke-width="2.4" />
<line x1="110.2" y1="402.7" x2="120.7" y2="402.7" stroke="#3a3a3a" stroke-width="2.4" />
<line x1="110.2" y1="411.86" x2="120.7" y2="411.86" stroke="#3a3a3a" stroke-width="2.4" />
<line x1="110.2" y1="421.02" x2="120.7" y2="421.02" stroke="#3a3a3a" stroke-width="2.4" />
<line x1="110.2" y1="430.18" x2="120.7" y2="430.18" stroke="#3a3a3a" stroke-width="2.4" />
<line x1="89.8" y1="439.34" x2="130.6" y2="439.34" stroke="#3a3a3a" stroke-width="2.4" />
<line x1="110.2" y1="448.5" x2="120.7" y2="448.5" stroke="#3a3a3a" stroke-width="2.4" />
<line x1="110.2" y1="457.66" x2="120.7" y2="457.66" stroke="#3a3a3a" stroke-width="2.4" />
<line x1="110.2" y1="466.82" x2="120.7" y2="466.82" stroke="#3a3a3a" stroke-width="2.4" />
<line x1="110.2" y1="475.99" x2="120.7" y2="475.99" stroke="#3a3a3a" stroke-width="2.4" />
<line x1="89.8" y1="485.15" x2="130.6" y2="485.15" stroke="#3a3a3a" stroke-width="2.4" />
<line x1="110.2" y1="494.31" x2="120.7" y2="494.31" stroke="#3a3a3a" stroke-width="2.4" />
<line x1="110.2" y1="503.47" x2="120.7" y2="503.47" stroke="#3a3a3a" stroke-width="2.4" />
<line x1="110.2" y1="512.63" x2="120.7" y2="512.63" stroke="#3a3a3a" stroke-width="2.4" />
<line x1="110.2" y1="521.79" x2="120.7" y2="521.79" stroke="#3a3a3a" stroke-width="2.4" />
<line x1="89.8" y1="530.95" x2="130.6" y2="530.95" stroke="#3a3a3a" stroke-width="2.4" />
<line x1="110.2" y1="540.11" x2="120.7" y2="540.11" stroke="#3a3a3a" stroke-width="2.4" />
<line x1="110.2" y1="549.28" x2="120.7" y2="549.28" stroke="#3a3a3a" stroke-width="2.4" />
<line x1="110.2" y1="558.44" x2="120.7" y2="558.44" stroke="#3a3a3a" stroke-width="2.4" />
<line x1="110.2" y1="567.6" x2="120.7" y2="567.6" stroke="#3a3a3a" stroke-width="2.4" />
<line x1="89.8" y1="576.76" x2="130.6" y2="576.76" stroke="#3a3a3a" stroke-width="2.4" />
<line x1="110.2" y1="585.92" x2="120.7" y2="585.92" stroke="#3a3a3a" stroke-width="2.4" />
<line x1="110.2" y1="595.08" x2="120.7" y2="595.08" stroke="#3a3a3a" stroke-width="2.4" />
<line x1="110.2" y1="604.24" x2="120.7" y2="604.24" stroke="#3a3a3a" stroke-width="2.4" />
<line x1="110.2" y1="613.4" x2="120.7" y2="613.4" stroke="#3a3a3a" stroke-width="2.4" />
<line x1="89.8" y1="622.56" x2="130.6" y2="622.56" stroke="#3a3a3a" stroke-width="2.4" />
<line x1="110.2" y1="631.73" x2="120.7" y2="631.73" stroke="#3a3a3a" stroke-width="2.4" />
<line x1="110.2" y1="640.89" x2="120.7" y2="640.89" stroke="#3a3a3a" stroke-width="2.4" />
<line x1="110.2" y1="650.05" x2="120.7" y2="650.05" stroke="#3a3a3a" stroke-width="2.4" />
<line x1="110.2" y1="659.21" x2="120.7" y2="659.21" stroke="#3a3a3a" stroke-width="2.4" />
<line x1="89.8" y1="668.37" x2="130.6" y2="668.37" stroke="#3a3a3a" stroke-width="2.4" />
<line x1="110.2" y1="677.53" x2="120.7" y2="677.53" stroke="#3a3a3a" stroke-width="2.4" />
<line x1="110.2" y1="686.69" x2="120.7" y2="686.69" stroke="#3a3a3a" stroke-width="2.4" />
<line x1="110.2" y1="695.85" x2="120.7" y2="695.85" stroke="#3a3a3a" stroke-width="2.4" />
<line x1="110.2" y1="705.02" x2="120.7" y2="705.02" stroke="#3a3a3a" stroke-width="2.4" />
<line x1="89.8" y1="714.18" x2="130.6" y2="714.18" stroke="#3a3a3a" stroke-width="2.4" />
<line x1="110.2" y1="723.34" x2="120.7" y2="723.34" stroke="#3a3a3a" stroke-width="2.4" />
<line x1="110.2" y1="732.5" x2="120.7" y2="732.5" stroke="#3a3a3a" stroke-width="2.4" />
<line x1="110.2" y1="741.66" x2="120.7" y2="741.66" stroke="#3a3a3a" stroke-width="2.4" />
<line x1="110.2" y1="750.82" x2="120.7" y2="750.82" stroke="#3a3a3a" stroke-width="2.4" />
<line x1="89.8" y1="759.98" x2="130.6" y2="759.98" stroke="#3a3a3a" stroke-width="2.4" />
<line x1="110.2" y1="769.14" x2="120.7" y2="769.14" stroke="#3a3a3a" stroke-width="2.4" />
<line x1="110.2" y1="778.3" x2="120.7" y2="778.3" stroke="#3a3a3a" stroke-width="2.4" />
<line x1="110.2" y1="787.47" x2="120.7" y2="787.47" stroke="#3a3a3a" stroke-width="2.4" />
<line x1="110.2" y1="796.63" x2="120.7" y2="796.63" stroke="#3a3a3a" stroke-width="2.4" />
<line x1="89.8" y1="805.79" x2="130.6" y2="805.79" stroke="#3a3a3a" stroke-width="2.4" />
<line x1="110.2" y1="814.95" x2="120.7" y2="814.95" stroke="#3a3a3a" stroke-width="2.4" />
<line x1="110.2" y1="824.11" x2="120.7" y2="824.11" stroke="#3a3a3a" stroke-width="2.4" />
<line x1="110.2" y1="833.27" x2="120.7" y2="833.27" stroke="#3a3a3a" stroke-width="2.4" />
<line x1="110.2" y1="842.43" x2="120.7" y2="842.43" stroke="#3a3a3a" stroke-width="2.4" />
<line x1="89.8" y1="851.59" x2="130.6" y2="851.59" stroke="#3a3a3a" stroke-width="2.4" />
<line x1="110.2" y1="860.76" x2="120.7" y2="860.76" stroke="#3a3a3a" stroke-width="2.4" />
<line x1="110.2" y1="869.92" x2="120.7" y2="869.92" stroke="#3a3a3a" stroke-width="2.4" />
<line x1="110.2" y1="879.08" x2="120.7" y2="879.08" stroke="#3a3a3a" stroke-width="2.4" />
<line x1="110.2" y1="888.24" x2="120.7" y2="888.24" stroke="#3a3a3a" stroke-width="2.4" />
<line x1="89.8" y1="897.4" x2="130.6" y2="897.4" stroke="#3a3a3a" stroke-width="2.4" />
<line x1="110.2" y1="117.7" x2="110.2" y2="917.4" stroke="#3a3a3a" stroke-width="2.2" />
<line x1="109.2" y1="897.4" x2="360.4" y2="897.4" stroke="#3a3a3a" stroke-width="2.2" />
<line x1="110.2" y1="897.4" x2="110.2" y2="917.4" stroke="#3a3a3a" stroke-width="2.2" />
<line x1="122.66" y1="886.9" x2="122.66" y2="897.4" stroke="#3a3a3a" stroke-width="2.2" />
<line x1="135.12" y1="886.9" x2="135.12" y2="897.4" stroke="#3a3a3a" stroke-width="2.2" />
<line x1="147.58" y1="886.9" x2="147.58" y2="897.4" stroke="#3a3a3a" stroke-width="2.2" />
<line x1="160.04" y1="897.4" x2="160.04" y2="917.4" stroke="#3a3a3a" stroke-width="2.2" />
<line x1="172.5" y1="886.9" x2="172.5" y2="897.4" stroke="#3a3a3a" stroke-width="2.2" />
<line x1="184.96" y1="886.9" x2="184.96" y2="897.4" stroke="#3a3a3a" stroke-width="2.2" />
<line x1="197.42" y1="886.9" x2="197.42" y2="897.4" stroke="#3a3a3a" stroke-width="2.2" />
<line x1="209.88" y1="897.4" x2="209.88" y2="917.4" stroke="#3a3a3a" stroke-width="2.2" />
<line x1="222.34" y1="886.9" x2="222.34" y2="897.4" stroke="#3a3a3a" stroke-width="2.2" />
<line x1="234.8" y1="886.9" x2="234.8" y2="897.4" stroke="#3a3a3a" stroke-width="2.2" />
<line x1="247.26" y1="886.9" x2="247.26" y2="897.4" stroke="#3a3a3a" stroke-width="2.2" />
<line x1="259.72" y1="897.4" x2="259.72" y2="917.4" stroke="#3a3a3a" stroke-width="2.2" />
<line x1="272.18" y1="886.9" x2="272.18" y2="897.4" stroke="#3a3a3a" stroke-width="2.2" />
<line x1="284.64" y1="886.9" x2="284.64" y2="897.4" stroke="#3a3a3a" stroke-width="2.2" />
<line x1="297.1" y1="886.9" x2="297.1" y2="897.4" stroke="#3a3a3a" stroke-width="2.2" />
<line x1="309.56" y1="897.4" x2="309.56" y2="917.4" stroke="#3a3a3a" stroke-width="2.2" />
<line x1="322.02" y1="886.9" x2="322.02" y2="897.4" stroke="#3a3a3a" stroke-width="2.2" />
<line x1="334.48" y1="886.9" x2="334.48" y2="897.4" stroke="#3a3a3a" stroke-width="2.2" />
<line x1="346.94" y1="886.9" x2="346.94" y2="897.4" stroke="#3a3a3a" stroke-width="2.2" />
<line x1="359.4" y1="897.4" x2="359.4" y2="917.4" stroke="#3a3a3a" stroke-width="2.2" />
<line x1="501.7" y1="119.5" x2="501.7" y2="918.4" stroke="#3a3a3a" stroke-width="2.2" />
<line x1="501.7" y1="119.5" x2="522" y2="119.5" stroke="#3a3a3a" stroke-width="2.4" />
<line x1="501.7" y1="128.66" x2="512" y2="128.66" stroke="#3a3a3a" stroke-width="2.4" />
<line x1="501.7" y1="137.83" x2="512" y2="137.83" stroke="#3a3a3a" stroke-width="2.4" />
<line x1="501.7" y1="146.99" x2="512" y2="146.99" stroke="#3a3a3a" stroke-width="2.4" />
<line x1="501.7" y1="156.15" x2="512" y2="156.15" stroke="#3a3a3a" stroke-width="2.4" />
<line x1="501.7" y1="165.32" x2="522" y2="165.32" stroke="#3a3a3a" stroke-width="2.4" />
<line x1="501.7" y1="174.48" x2="512" y2="174.48" stroke="#3a3a3a" stroke-width="2.4" />
<line x1="501.7" y1="183.64" x2="512" y2="183.64" stroke="#3a3a3a" stroke-width="2.4" />
<line x1="501.7" y1="192.81" x2="512" y2="192.81" stroke="#3a3a3a" stroke-width="2.4" />
<line x1="501.7" y1="201.97" x2="512" y2="201.97" stroke="#3a3a3a" stroke-width="2.4" />
<line x1="501.7" y1="211.14" x2="522" y2="211.14" stroke="#3a3a3a" stroke-width="2.4" />
<line x1="501.7" y1="220.3" x2="512" y2="220.3" stroke="#3a3a3a" stroke-width="2.4" />
<line x1="501.7" y1="229.46" x2="512" y2="229.46" stroke="#3a3a3a" stroke-width="2.4" />
<line x1="501.7" y1="238.63" x2="512" y2="238.63" stroke="#3a3a3a" stroke-width="2.4" />
<line x1="501.7" y1="247.79" x2="512" y2="247.79" stroke="#3a3a3a" stroke-width="2.4" />
<line x1="501.7" y1="256.95" x2="522" y2="256.95" stroke="#3a3a3a" stroke-width="2.4" />
<line x1="501.7" y1="266.12" x2="512" y2="266.12" stroke="#3a3a3a" stroke-width="2.4" />
<line x1="501.7" y1="275.28" x2="512" y2="275.28" stroke="#3a3a3a" stroke-width="2.4" />
<line x1="501.7" y1="284.44" x2="512" y2="284.44" stroke="#3a3a3a" stroke-width="2.4" />
<line x1="501.7" y1="293.61" x2="512" y2="293.61" stroke="#3a3a3a" stroke-width="2.4" />
<line x1="501.7" y1="302.77" x2="522" y2="302.77" stroke="#3a3a3a" stroke-width="2.4" />
<line x1="501.7" y1="311.93" x2="512" y2="311.93" stroke="#3a3a3a" stroke-width="2.4" />
<line x1="501.7" y1="321.1" x2="512" y2="321.1" stroke="#3a3a3a" stroke-width="2.4" />
<line x1="501.7" y1="330.26" x2="512" y2="330.26" stroke="#3a3a3a" stroke-width="2.4" />
<line x1="501.7" y1="339.42" x2="512" y2="339.42" stroke="#3a3a3a" stroke-width="2.4" />
<line x1="501.7" y1="348.59" x2="522" y2="348.59" stroke="#3a3a3a" stroke-width="2.4" />
<line x1="501.7" y1="357.75" x2="512" y2="357.75" stroke="#3a3a3a" stroke-width="2.4" />
<line x1="501.7" y1="366.92" x2="512" y2="366.92" stroke="#3a3a3a" stroke-width="2.4" />
<line x1="501.7" y1="376.08" x2="512" y2="376.08" stroke="#3a3a3a" stroke-width="2.4" />
<line x1="501.7" y1="385.24" x2="512" y2="385.24" stroke="#3a3a3a" stroke-width="2.4" />
<line x1="501.7" y1="394.41" x2="522" y2="394.41" stroke="#3a3a3a" stroke-width="2.4" />
<line x1="501.7" y1="403.57" x2="512" y2="403.57" stroke="#3a3a3a" stroke-width="2.4" />
<line x1="501.7" y1="412.73" x2="512" y2="412.73" stroke="#3a3a3a" stroke-width="2.4" />
<line x1="501.7" y1="421.9" x2="512" y2="421.9" stroke="#3a3a3a" stroke-width="2.4" />
<line x1="501.7" y1="431.06" x2="512" y2="431.06" stroke="#3a3a3a" stroke-width="2.4" />
<line x1="501.7" y1="440.22" x2="522" y2="440.22" stroke="#3a3a3a" stroke-width="2.4" />
<line x1="501.7" y1="449.39" x2="512" y2="449.39" stroke="#3a3a3a" stroke-width="2.4" />
<line x1="501.7" y1="458.55" x2="512" y2="458.55" stroke="#3a3a3a" stroke-width="2.4" />
<line x1="501.7" y1="467.71" x2="512" y2="467.71" stroke="#3a3a3a" stroke-width="2.4" />
<line x1="501.7" y1="476.88" x2="512" y2="476.88" stroke="#3a3a3a" stroke-width="2.4" />
<line x1="501.7" y1="486.04" x2="522" y2="486.04" stroke="#3a3a3a" stroke-width="2.4" />
<line x1="501.7" y1="495.2" x2="512" y2="495.2" stroke="#3a3a3a" stroke-width="2.4" />
<line x1="501.7" y1="504.37" x2="512" y2="504.37" stroke="#3a3a3a" stroke-width="2.4" />
<line x1="501.7" y1="513.53" x2="512" y2="513.53" stroke="#3a3a3a" stroke-width="2.4" />
<line x1="501.7" y1="522.7" x2="512" y2="522.7" stroke="#3a3a3a" stroke-width="2.4" />
<line x1="501.7" y1="531.86" x2="522" y2="531.86" stroke="#3a3a3a" stroke-width="2.4" />
<line x1="501.7" y1="541.02" x2="512" y2="541.02" stroke="#3a3a3a" stroke-width="2.4" />
<line x1="501.7" y1="550.19" x2="512" y2="550.19" stroke="#3a3a3a" stroke-width="2.4" />
<line x1="501.7" y1="559.35" x2="512" y2="559.35" stroke="#3a3a3a" stroke-width="2.4" />
<line x1="501.7" y1="568.51" x2="512" y2="568.51" stroke="#3a3a3a" stroke-width="2.4" />
<line x1="501.7" y1="577.68" x2="522" y2="577.68" stroke="#3a3a3a" stroke-width="2.4" />
<line x1="501.7" y1="586.84" x2="512" y2="586.84" stroke="#3a3a3a" stroke-width="2.4" />
<line x1="501.7" y1="596" x2="512" y2="596" stroke="#3a3a3a" stroke-width="2.4" />
<line x1="501.7" y1="605.17" x2="512" y2="605.17" stroke="#3a3a3a" stroke-width="2.4" />
<line x1="501.7" y1="614.33" x2="512" y2="614.33" stroke="#3a3a3a" stroke-width="2.4" />
<line x1="501.7" y1="623.49" x2="522" y2="623.49" stroke="#3a3a3a" stroke-width="2.4" />
<line x1="501.7" y1="632.66" x2="512" y2="632.66" stroke="#3a3a3a" stroke-width="2.4" />
<line x1="501.7" y1="641.82" x2="512" y2="641.82" stroke="#3a3a3a" stroke-width="2.4" />
<line x1="501.7" y1="650.98" x2="512" y2="650.98" stroke="#3a3a3a" stroke-width="2.4" />
<line x1="501.7" y1="660.15" x2="512" y2="660.15" stroke="#3a3a3a" stroke-width="2.4" />
<line x1="501.7" y1="669.31" x2="522" y2="669.31" stroke="#3a3a3a" stroke-width="2.4" />
<line x1="501.7" y1="678.48" x2="512" y2="678.48" stroke="#3a3a3a" stroke-width="2.4" />
<line x1="501.7" y1="687.64" x2="512" y2="687.64" stroke="#3a3a3a" stroke-width="2.4" />
<line x1="501.7" y1="696.8" x2="512" y2="696.8" stroke="#3a3a3a" stroke-width="2.4" />
<line x1="501.7" y1="705.97" x2="512" y2="705.97" stroke="#3a3a3a" stroke-width="2.4" />
<line x1="501.7" y1="715.13" x2="522" y2="715.13" stroke="#3a3a3a" stroke-width="2.4" />
<line x1="501.7" y1="724.29" x2="512" y2="724.29" stroke="#3a3a3a" stroke-width="2.4" />
<line x1="501.7" y1="733.46" x2="512" y2="733.46" stroke="#3a3a3a" stroke-width="2.4" />
<line x1="501.7" y1="742.62" x2="512" y2="742.62" stroke="#3a3a3a" stroke-width="2.4" />
<line x1="501.7" y1="751.78" x2="512" y2="751.78" stroke="#3a3a3a" stroke-width="2.4" />
<line x1="501.7" y1="760.95" x2="522" y2="760.95" stroke="#3a3a3a" stroke-width="2.4" />
<line x1="501.7" y1="770.11" x2="512" y2="770.11" stroke="#3a3a3a" stroke-width="2.4" />
<line x1="501.7" y1="779.27" x2="512" y2="779.27" stroke="#3a3a3a" stroke-width="2.4" />
<line x1="501.7" y1="788.44" x2="512" y2="788.44" stroke="#3a3a3a" stroke-width="2.4" />
<line x1="501.7" y1="797.6" x2="512" y2="797.6" stroke="#3a3a3a" stroke-width="2.4" />
<line x1="501.7" y1="806.76" x2="522" y2="806.76" stroke="#3a3a3a" stroke-width="2.4" />
<line x1="501.7" y1="815.93" x2="512" y2="815.93" stroke="#3a3a3a" stroke-width="2.4" />
<line x1="501.7" y1="825.09" x2="512" y2="825.09" stroke="#3a3a3a" stroke-width="2.4" />
<line x1="501.7" y1="834.26" x2="512" y2="834.26" stroke="#3a3a3a" stroke-width="2.4" />
<line x1="501.7" y1="843.42" x2="512" y2="843.42" stroke="#3a3a3a" stroke-width="2.4" />
<line x1="501.7" y1="852.58" x2="522" y2="852.58" stroke="#3a3a3a" stroke-width="2.4" />
<line x1="501.7" y1="861.75" x2="512" y2="861.75" stroke="#3a3a3a" stroke-width="2.4" />
<line x1="501.7" y1="870.91" x2="512" y2="870.91" stroke="#3a3a3a" stroke-width="2.4" />
<line x1="501.7" y1="880.07" x2="512" y2="880.07" stroke="#3a3a3a" stroke-width="2.4" />
<line x1="501.7" y1="889.24" x2="512" y2="889.24" stroke="#3a3a3a" stroke-width="2.4" />
<line x1="501.7" y1="898.4" x2="522" y2="898.4" stroke="#3a3a3a" stroke-width="2.4" />
<line x1="500.7" y1="898.4" x2="751.6" y2="898.4" stroke="#3a3a3a" stroke-width="2.2" />
<line x1="501.7" y1="898.4" x2="501.7" y2="918.4" stroke="#3a3a3a" stroke-width="2.2" />
<line x1="512.07" y1="887.9" x2="512.07" y2="898.4" stroke="#3a3a3a" stroke-width="2.2" />
<line x1="522.44" y1="887.9" x2="522.44" y2="898.4" stroke="#3a3a3a" stroke-width="2.2" />
<line x1="532.81" y1="887.9" x2="532.81" y2="898.4" stroke="#3a3a3a" stroke-width="2.2" />
<line x1="543.18" y1="898.4" x2="543.18" y2="918.4" stroke="#3a3a3a" stroke-width="2.2" />
<line x1="553.55" y1="887.9" x2="553.55" y2="898.4" stroke="#3a3a3a" stroke-width="2.2" />
<line x1="563.92" y1="887.9" x2="563.92" y2="898.4" stroke="#3a3a3a" stroke-width="2.2" />
<line x1="574.3" y1="887.9" x2="574.3" y2="898.4" stroke="#3a3a3a" stroke-width="2.2" />
<line x1="584.67" y1="898.4" x2="584.67" y2="918.4" stroke="#3a3a3a" stroke-width="2.2" />
<line x1="595.04" y1="887.9" x2="595.04" y2="898.4" stroke="#3a3a3a" stroke-width="2.2" />
<line x1="605.41" y1="887.9" x2="605.41" y2="898.4" stroke="#3a3a3a" stroke-width="2.2" />
<line x1="615.78" y1="887.9" x2="615.78" y2="898.4" stroke="#3a3a3a" stroke-width="2.2" />
<line x1="626.15" y1="898.4" x2="626.15" y2="918.4" stroke="#3a3a3a" stroke-width="2.2" />
<line x1="636.52" y1="887.9" x2="636.52" y2="898.4" stroke="#3a3a3a" stroke-width="2.2" />
<line x1="646.89" y1="887.9" x2="646.89" y2="898.4" stroke="#3a3a3a" stroke-width="2.2" />
<line x1="657.26" y1="887.9" x2="657.26" y2="898.4" stroke="#3a3a3a" stroke-width="2.2" />
<line x1="667.63" y1="898.4" x2="667.63" y2="918.4" stroke="#3a3a3a" stroke-width="2.2" />
<line x1="678" y1="887.9" x2="678" y2="898.4" stroke="#3a3a3a" stroke-width="2.2" />
<line x1="688.38" y1="887.9" x2="688.38" y2="898.4" stroke="#3a3a3a" stroke-width="2.2" />
<line x1="698.75" y1="887.9" x2="698.75" y2="898.4" stroke="#3a3a3a" stroke-width="2.2" />
<line x1="709.12" y1="898.4" x2="709.12" y2="918.4" stroke="#3a3a3a" stroke-width="2.2" />
<line x1="719.49" y1="887.9" x2="719.49" y2="898.4" stroke="#3a3a3a" stroke-width="2.2" />
<line x1="729.86" y1="887.9" x2="729.86" y2="898.4" stroke="#3a3a3a" stroke-width="2.2" />
<line x1="740.23" y1="887.9" x2="740.23" y2="898.4" stroke="#3a3a3a" stroke-width="2.2" />
<line x1="750.6" y1="898.4" x2="750.6" y2="918.4" stroke="#3a3a3a" stroke-width="2.2" />
<line x1="897.3" y1="119.9" x2="897.3" y2="919.1" stroke="#3a3a3a" stroke-width="2.2" />
<line x1="897.3" y1="119.9" x2="917.6" y2="119.9" stroke="#3a3a3a" stroke-width="2.4" />
<line x1="897.3" y1="129.07" x2="907.8" y2="129.07" stroke="#3a3a3a" stroke-width="2.4" />
<line x1="897.3" y1="138.23" x2="907.8" y2="138.23" stroke="#3a3a3a" stroke-width="2.4" />
<line x1="897.3" y1="147.4" x2="907.8" y2="147.4" stroke="#3a3a3a" stroke-width="2.4" />
<line x1="897.3" y1="156.57" x2="907.8" y2="156.57" stroke="#3a3a3a" stroke-width="2.4" />
<line x1="897.3" y1="165.74" x2="917.6" y2="165.74" stroke="#3a3a3a" stroke-width="2.4" />
<line x1="897.3" y1="174.9" x2="907.8" y2="174.9" stroke="#3a3a3a" stroke-width="2.4" />
<line x1="897.3" y1="184.07" x2="907.8" y2="184.07" stroke="#3a3a3a" stroke-width="2.4" />
<line x1="897.3" y1="193.24" x2="907.8" y2="193.24" stroke="#3a3a3a" stroke-width="2.4" />
<line x1="897.3" y1="202.4" x2="907.8" y2="202.4" stroke="#3a3a3a" stroke-width="2.4" />
<line x1="897.3" y1="211.57" x2="917.6" y2="211.57" stroke="#3a3a3a" stroke-width="2.4" />
<line x1="897.3" y1="220.74" x2="907.8" y2="220.74" stroke="#3a3a3a" stroke-width="2.4" />
<line x1="897.3" y1="229.9" x2="907.8" y2="229.9" stroke="#3a3a3a" stroke-width="2.4" />
<line x1="897.3" y1="239.07" x2="907.8" y2="239.07" stroke="#3a3a3a" stroke-width="2.4" />
<line x1="897.3" y1="248.24" x2="907.8" y2="248.24" stroke="#3a3a3a" stroke-width="2.4" />
<line x1="897.3" y1="257.41" x2="917.6" y2="257.41" stroke="#3a3a3a" stroke-width="2.4" />
<line x1="897.3" y1="266.57" x2="907.8" y2="266.57" stroke="#3a3a3a" stroke-width="2.4" />
<line x1="897.3" y1="275.74" x2="907.8" y2="275.74" stroke="#3a3a3a" stroke-width="2.4" />
<line x1="897.3" y1="284.91" x2="907.8" y2="284.91" stroke="#3a3a3a" stroke-width="2.4" />
<line x1="897.3" y1="294.07" x2="907.8" y2="294.07" stroke="#3a3a3a" stroke-width="2.4" />
<line x1="897.3" y1="303.24" x2="917.6" y2="303.24" stroke="#3a3a3a" stroke-width="2.4" />
<line x1="897.3" y1="312.41" x2="907.8" y2="312.41" stroke="#3a3a3a" stroke-width="2.4" />
<line x1="897.3" y1="321.58" x2="907.8" y2="321.58" stroke="#3a3a3a" stroke-width="2.4" />
<line x1="897.3" y1="330.74" x2="907.8" y2="330.74" stroke="#3a3a3a" stroke-width="2.4" />
<line x1="897.3" y1="339.91" x2="907.8" y2="339.91" stroke="#3a3a3a" stroke-width="2.4" />
<line x1="897.3" y1="349.08" x2="917.6" y2="349.08" stroke="#3a3a3a" stroke-width="2.4" />
<line x1="897.3" y1="358.24" x2="907.8" y2="358.24" stroke="#3a3a3a" stroke-width="2.4" />
<line x1="897.3" y1="367.41" x2="907.8" y2="367.41" stroke="#3a3a3a" stroke-width="2.4" />
<line x1="897.3" y1="376.58" x2="907.8" y2="376.58" stroke="#3a3a3a" stroke-width="2.4" />
<line x1="897.3" y1="385.74" x2="907.8" y2="385.74" stroke="#3a3a3a" stroke-width="2.4" />
<line x1="897.3" y1="394.91" x2="917.6" y2="394.91" stroke="#3a3a3a" stroke-width="2.4" />
<line x1="897.3" y1="404.08" x2="907.8" y2="404.08" stroke="#3a3a3a" stroke-width="2.4" />
<line x1="897.3" y1="413.25" x2="907.8" y2="413.25" stroke="#3a3a3a" stroke-width="2.4" />
<line x1="897.3" y1="422.41" x2="907.8" y2="422.41" stroke="#3a3a3a" stroke-width="2.4" />
<line x1="897.3" y1="431.58" x2="907.8" y2="431.58" stroke="#3a3a3a" stroke-width="2.4" />
<line x1="897.3" y1="440.75" x2="917.6" y2="440.75" stroke="#3a3a3a" stroke-width="2.4" />
<line x1="897.3" y1="449.91" x2="907.8" y2="449.91" stroke="#3a3a3a" stroke-width="2.4" />
<line x1="897.3" y1="459.08" x2="907.8" y2="459.08" stroke="#3a3a3a" stroke-width="2.4" />
<line x1="897.3" y1="468.25" x2="907.8" y2="468.25" stroke="#3a3a3a" stroke-width="2.4" />
<line x1="897.3" y1="477.42" x2="907.8" y2="477.42" stroke="#3a3a3a" stroke-width="2.4" />
<line x1="897.3" y1="486.58" x2="917.6" y2="486.58" stroke="#3a3a3a" stroke-width="2.4" />
<line x1="897.3" y1="495.75" x2="907.8" y2="495.75" stroke="#3a3a3a" stroke-width="2.4" />
<line x1="897.3" y1="504.92" x2="907.8" y2="504.92" stroke="#3a3a3a" stroke-width="2.4" />
<line x1="897.3" y1="514.08" x2="907.8" y2="514.08" stroke="#3a3a3a" stroke-width="2.4" />
<line x1="897.3" y1="523.25" x2="907.8" y2="523.25" stroke="#3a3a3a" stroke-width="2.4" />
<line x1="897.3" y1="532.42" x2="917.6" y2="532.42" stroke="#3a3a3a" stroke-width="2.4" />
<line x1="897.3" y1="541.58" x2="907.8" y2="541.58" stroke="#3a3a3a" stroke-width="2.4" />
<line x1="897.3" y1="550.75" x2="907.8" y2="550.75" stroke="#3a3a3a" stroke-width="2.4" />
<line x1="897.3" y1="559.92" x2="907.8" y2="559.92" stroke="#3a3a3a" stroke-width="2.4" />
<line x1="897.3" y1="569.09" x2="907.8" y2="569.09" stroke="#3a3a3a" stroke-width="2.4" />
<line x1="897.3" y1="578.25" x2="917.6" y2="578.25" stroke="#3a3a3a" stroke-width="2.4" />
<line x1="897.3" y1="587.42" x2="907.8" y2="587.42" stroke="#3a3a3a" stroke-width="2.4" />
<line x1="897.3" y1="596.59" x2="907.8" y2="596.59" stroke="#3a3a3a" stroke-width="2.4" />
<line x1="897.3" y1="605.75" x2="907.8" y2="605.75" stroke="#3a3a3a" stroke-width="2.4" />
<line x1="897.3" y1="614.92" x2="907.8" y2="614.92" stroke="#3a3a3a" stroke-width="2.4" />
<line x1="897.3" y1="624.09" x2="917.6" y2="624.09" stroke="#3a3a3a" stroke-width="2.4" />
<line x1="897.3" y1="633.26" x2="907.8" y2="633.26" stroke="#3a3a3a" stroke-width="2.4" />
<line x1="897.3" y1="642.42" x2="907.8" y2="642.42" stroke="#3a3a3a" stroke-width="2.4" />
<line x1="897.3" y1="651.59" x2="907.8" y2="651.59" stroke="#3a3a3a" stroke-width="2.4" />
<line x1="897.3" y1="660.76" x2="907.8" y2="660.76" stroke="#3a3a3a" stroke-width="2.4" />
<line x1="897.3" y1="669.92" x2="917.6" y2="669.92" stroke="#3a3a3a" stroke-width="2.4" />
<line x1="897.3" y1="679.09" x2="907.8" y2="679.09" stroke="#3a3a3a" stroke-width="2.4" />
<line x1="897.3" y1="688.26" x2="907.8" y2="688.26" stroke="#3a3a3a" stroke-width="2.4" />
<line x1="897.3" y1="697.42" x2="907.8" y2="697.42" stroke="#3a3a3a" stroke-width="2.4" />
<line x1="897.3" y1="706.59" x2="907.8" y2="706.59" stroke="#3a3a3a" stroke-width="2.4" />
<line x1="897.3" y1="715.76" x2="917.6" y2="715.76" stroke="#3a3a3a" stroke-width="2.4" />
<line x1="897.3" y1="724.93" x2="907.8" y2="724.93" stroke="#3a3a3a" stroke-width="2.4" />
<line x1="897.3" y1="734.09" x2="907.8" y2="734.09" stroke="#3a3a3a" stroke-width="2.4" />
<line x1="897.3" y1="743.26" x2="907.8" y2="743.26" stroke="#3a3a3a" stroke-width="2.4" />
<line x1="897.3" y1="752.43" x2="907.8" y2="752.43" stroke="#3a3a3a" stroke-width="2.4" />
<line x1="897.3" y1="761.59" x2="917.6" y2="761.59" stroke="#3a3a3a" stroke-width="2.4" />
<line x1="897.3" y1="770.76" x2="907.8" y2="770.76" stroke="#3a3a3a" stroke-width="2.4" />
<line x1="897.3" y1="779.93" x2="907.8" y2="779.93" stroke="#3a3a3a" stroke-width="2.4" />
<line x1="897.3" y1="789.1" x2="907.8" y2="789.1" stroke="#3a3a3a" stroke-width="2.4" />
<line x1="897.3" y1="798.26" x2="907.8" y2="798.26" stroke="#3a3a3a" stroke-width="2.4" />
<line x1="897.3" y1="807.43" x2="917.6" y2="807.43" stroke="#3a3a3a" stroke-width="2.4" />
<line x1="897.3" y1="816.6" x2="907.8" y2="816.6" stroke="#3a3a3a" stroke-width="2.4" />
<line x1="897.3" y1="825.76" x2="907.8" y2="825.76" stroke="#3a3a3a" stroke-width="2.4" />
<line x1="897.3" y1="834.93" x2="907.8" y2="834.93" stroke="#3a3a3a" stroke-width="2.4" />
<line x1="897.3" y1="844.1" x2="907.8" y2="844.1" stroke="#3a3a3a" stroke-width="2.4" />
<line x1="897.3" y1="853.26" x2="917.6" y2="853.26" stroke="#3a3a3a" stroke-width="2.4" />
<line x1="897.3" y1="862.43" x2="907.8" y2="862.43" stroke="#3a3a3a" stroke-width="2.4" />
<line x1="897.3" y1="871.6" x2="907.8" y2="871.6" stroke="#3a3a3a" stroke-width="2.4" />
<line x1="897.3" y1="880.77" x2="907.8" y2="880.77" stroke="#3a3a3a" stroke-width="2.4" />
<line x1="897.3" y1="889.93" x2="907.8" y2="889.93" stroke="#3a3a3a" stroke-width="2.4" />
<line x1="897.3" y1="899.1" x2="917.6" y2="899.1" stroke="#3a3a3a" stroke-width="2.4" />
<line x1="896.3" y1="899.1" x2="1147.4" y2="899.1" stroke="#3a3a3a" stroke-width="2.2" />
<line x1="897.3" y1="899.1" x2="897.3" y2="919.1" stroke="#3a3a3a" stroke-width="2.2" />
<line x1="909.75" y1="888.6" x2="909.75" y2="899.1" stroke="#3a3a3a" stroke-width="2.2" />
<line x1="922.21" y1="888.6" x2="922.21" y2="899.1" stroke="#3a3a3a" stroke-width="2.2" />
<line x1="934.66" y1="888.6" x2="934.66" y2="899.1" stroke="#3a3a3a" stroke-width="2.2" />
<line x1="947.12" y1="899.1" x2="947.12" y2="919.1" stroke="#3a3a3a" stroke-width="2.2" />
<line x1="959.58" y1="888.6" x2="959.58" y2="899.1" stroke="#3a3a3a" stroke-width="2.2" />
<line x1="972.03" y1="888.6" x2="972.03" y2="899.1" stroke="#3a3a3a" stroke-width="2.2" />
<line x1="984.49" y1="888.6" x2="984.49" y2="899.1" stroke="#3a3a3a" stroke-width="2.2" />
<line x1="996.94" y1="899.1" x2="996.94" y2="919.1" stroke="#3a3a3a" stroke-width="2.2" />
<line x1="1009.39" y1="888.6" x2="1009.39" y2="899.1" stroke="#3a3a3a" stroke-width="2.2" />
<line x1="1021.85" y1="888.6" x2="1021.85" y2="899.1" stroke="#3a3a3a" stroke-width="2.2" />
<line x1="1034.31" y1="888.6" x2="1034.31" y2="899.1" stroke="#3a3a3a" stroke-width="2.2" />
<line x1="1046.76" y1="899.1" x2="1046.76" y2="919.1" stroke="#3a3a3a" stroke-width="2.2" />
<line x1="1059.22" y1="888.6" x2="1059.22" y2="899.1" stroke="#3a3a3a" stroke-width="2.2" />
<line x1="1071.67" y1="888.6" x2="1071.67" y2="899.1" stroke="#3a3a3a" stroke-width="2.2" />
<line x1="1084.12" y1="888.6" x2="1084.12" y2="899.1" stroke="#3a3a3a" stroke-width="2.2" />
<line x1="1096.58" y1="899.1" x2="1096.58" y2="919.1" stroke="#3a3a3a" stroke-width="2.2" />
<line x1="1109.04" y1="888.6" x2="1109.04" y2="899.1" stroke="#3a3a3a" stroke-width="2.2" />
<line x1="1121.49" y1="888.6" x2="1121.49" y2="899.1" stroke="#3a3a3a" stroke-width="2.2" />
<line x1="1133.95" y1="888.6" x2="1133.95" y2="899.1" stroke="#3a3a3a" stroke-width="2.2" />
<line x1="1146.4" y1="899.1" x2="1146.4" y2="919.1" stroke="#3a3a3a" stroke-width="2.2" />
<line x1="1285.9" y1="120.7" x2="1285.9" y2="919.5" stroke="#3a3a3a" stroke-width="2.2" />
<line x1="1277.1" y1="120.7" x2="1285.9" y2="120.7" stroke="#3a3a3a" stroke-width="2.4" />
<line x1="1285.9" y1="129.86" x2="1296.6" y2="129.86" stroke="#3a3a3a" stroke-width="2.4" />
<line x1="1285.9" y1="139.02" x2="1296.6" y2="139.02" stroke="#3a3a3a" stroke-width="2.4" />
<line x1="1285.9" y1="148.19" x2="1296.6" y2="148.19" stroke="#3a3a3a" stroke-width="2.4" />
<line x1="1285.9" y1="157.35" x2="1296.6" y2="157.35" stroke="#3a3a3a" stroke-width="2.4" />
<line x1="1277.1" y1="166.51" x2="1285.9" y2="166.51" stroke="#3a3a3a" stroke-width="2.4" />
<line x1="1285.9" y1="175.67" x2="1296.6" y2="175.67" stroke="#3a3a3a" stroke-width="2.4" />
<line x1="1285.9" y1="184.84" x2="1296.6" y2="184.84" stroke="#3a3a3a" stroke-width="2.4" />
<line x1="1285.9" y1="194" x2="1296.6" y2="194" stroke="#3a3a3a" stroke-width="2.4" />
<line x1="1285.9" y1="203.16" x2="1296.6" y2="203.16" stroke="#3a3a3a" stroke-width="2.4" />
<line x1="1277.1" y1="212.32" x2="1285.9" y2="212.32" stroke="#3a3a3a" stroke-width="2.4" />
<line x1="1285.9" y1="221.49" x2="1296.6" y2="221.49" stroke="#3a3a3a" stroke-width="2.4" />
<line x1="1285.9" y1="230.65" x2="1296.6" y2="230.65" stroke="#3a3a3a" stroke-width="2.4" />
<line x1="1285.9" y1="239.81" x2="1296.6" y2="239.81" stroke="#3a3a3a" stroke-width="2.4" />
<line x1="1285.9" y1="248.97" x2="1296.6" y2="248.97" stroke="#3a3a3a" stroke-width="2.4" />
<line x1="1277.1" y1="258.14" x2="1285.9" y2="258.14" stroke="#3a3a3a" stroke-width="2.4" />
<line x1="1285.9" y1="267.3" x2="1296.6" y2="267.3" stroke="#3a3a3a" stroke-width="2.4" />
<line x1="1285.9" y1="276.46" x2="1296.6" y2="276.46" stroke="#3a3a3a" stroke-width="2.4" />
<line x1="1285.9" y1="285.62" x2="1296.6" y2="285.62" stroke="#3a3a3a" stroke-width="2.4" />
<line x1="1285.9" y1="294.78" x2="1296.6" y2="294.78" stroke="#3a3a3a" stroke-width="2.4" />
<line x1="1277.1" y1="303.95" x2="1285.9" y2="303.95" stroke="#3a3a3a" stroke-width="2.4" />
<line x1="1285.9" y1="313.11" x2="1296.6" y2="313.11" stroke="#3a3a3a" stroke-width="2.4" />
<line x1="1285.9" y1="322.27" x2="1296.6" y2="322.27" stroke="#3a3a3a" stroke-width="2.4" />
<line x1="1285.9" y1="331.43" x2="1296.6" y2="331.43" stroke="#3a3a3a" stroke-width="2.4" />
<line x1="1285.9" y1="340.6" x2="1296.6" y2="340.6" stroke="#3a3a3a" stroke-width="2.4" />
<line x1="1277.1" y1="349.76" x2="1285.9" y2="349.76" stroke="#3a3a3a" stroke-width="2.4" />
<line x1="1285.9" y1="358.92" x2="1296.6" y2="358.92" stroke="#3a3a3a" stroke-width="2.4" />
<line x1="1285.9" y1="368.08" x2="1296.6" y2="368.08" stroke="#3a3a3a" stroke-width="2.4" />
<line x1="1285.9" y1="377.25" x2="1296.6" y2="377.25" stroke="#3a3a3a" stroke-width="2.4" />
<line x1="1285.9" y1="386.41" x2="1296.6" y2="386.41" stroke="#3a3a3a" stroke-width="2.4" />
<line x1="1277.1" y1="395.57" x2="1285.9" y2="395.57" stroke="#3a3a3a" stroke-width="2.4" />
<line x1="1285.9" y1="404.73" x2="1296.6" y2="404.73" stroke="#3a3a3a" stroke-width="2.4" />
<line x1="1285.9" y1="413.9" x2="1296.6" y2="413.9" stroke="#3a3a3a" stroke-width="2.4" />
<line x1="1285.9" y1="423.06" x2="1296.6" y2="423.06" stroke="#3a3a3a" stroke-width="2.4" />
<line x1="1285.9" y1="432.22" x2="1296.6" y2="432.22" stroke="#3a3a3a" stroke-width="2.4" />
<line x1="1277.1" y1="441.38" x2="1285.9" y2="441.38" stroke="#3a3a3a" stroke-width="2.4" />
<line x1="1285.9" y1="450.54" x2="1296.6" y2="450.54" stroke="#3a3a3a" stroke-width="2.4" />
<line x1="1285.9" y1="459.71" x2="1296.6" y2="459.71" stroke="#3a3a3a" stroke-width="2.4" />
<line x1="1285.9" y1="468.87" x2="1296.6" y2="468.87" stroke="#3a3a3a" stroke-width="2.4" />
<line x1="1285.9" y1="478.03" x2="1296.6" y2="478.03" stroke="#3a3a3a" stroke-width="2.4" />
<line x1="1277.1" y1="487.19" x2="1285.9" y2="487.19" stroke="#3a3a3a" stroke-width="2.4" />
<line x1="1285.9" y1="496.36" x2="1296.6" y2="496.36" stroke="#3a3a3a" stroke-width="2.4" />
<line x1="1285.9" y1="505.52" x2="1296.6" y2="505.52" stroke="#3a3a3a" stroke-width="2.4" />
<line x1="1285.9" y1="514.68" x2="1296.6" y2="514.68" stroke="#3a3a3a" stroke-width="2.4" />
<line x1="1285.9" y1="523.84" x2="1296.6" y2="523.84" stroke="#3a3a3a" stroke-width="2.4" />
<line x1="1277.1" y1="533.01" x2="1285.9" y2="533.01" stroke="#3a3a3a" stroke-width="2.4" />
<line x1="1285.9" y1="542.17" x2="1296.6" y2="542.17" stroke="#3a3a3a" stroke-width="2.4" />
<line x1="1285.9" y1="551.33" x2="1296.6" y2="551.33" stroke="#3a3a3a" stroke-width="2.4" />
<line x1="1285.9" y1="560.49" x2="1296.6" y2="560.49" stroke="#3a3a3a" stroke-width="2.4" />
<line x1="1285.9" y1="569.66" x2="1296.6" y2="569.66" stroke="#3a3a3a" stroke-width="2.4" />
<line x1="1277.1" y1="578.82" x2="1285.9" y2="578.82" stroke="#3a3a3a" stroke-width="2.4" />
<line x1="1285.9" y1="587.98" x2="1296.6" y2="587.98" stroke="#3a3a3a" stroke-width="2.4" />
<line x1="1285.9" y1="597.14" x2="1296.6" y2="597.14" stroke="#3a3a3a" stroke-width="2.4" />
<line x1="1285.9" y1="606.3" x2="1296.6" y2="606.3" stroke="#3a3a3a" stroke-width="2.4" />
<line x1="1285.9" y1="615.47" x2="1296.6" y2="615.47" stroke="#3a3a3a" stroke-width="2.4" />
<line x1="1277.1" y1="624.63" x2="1285.9" y2="624.63" stroke="#3a3a3a" stroke-width="2.4" />
<line x1="1285.9" y1="633.79" x2="1296.6" y2="633.79" stroke="#3a3a3a" stroke-width="2.4" />
<line x1="1285.9" y1="642.95" x2="1296.6" y2="642.95" stroke="#3a3a3a" stroke-width="2.4" />
<line x1="1285.9" y1="652.12" x2="1296.6" y2="652.12" stroke="#3a3a3a" stroke-width="2.4" />
<line x1="1285.9" y1="661.28" x2="1296.6" y2="661.28" stroke="#3a3a3a" stroke-width="2.4" />
<line x1="1277.1" y1="670.44" x2="1285.9" y2="670.44" stroke="#3a3a3a" stroke-width="2.4" />
<line x1="1285.9" y1="679.6" x2="1296.6" y2="679.6" stroke="#3a3a3a" stroke-width="2.4" />
<line x1="1285.9" y1="688.77" x2="1296.6" y2="688.77" stroke="#3a3a3a" stroke-width="2.4" />
<line x1="1285.9" y1="697.93" x2="1296.6" y2="697.93" stroke="#3a3a3a" stroke-width="2.4" />
<line x1="1285.9" y1="707.09" x2="1296.6" y2="707.09" stroke="#3a3a3a" stroke-width="2.4" />
<line x1="1277.1" y1="716.25" x2="1285.9" y2="716.25" stroke="#3a3a3a" stroke-width="2.4" />
<line x1="1285.9" y1="725.42" x2="1296.6" y2="725.42" stroke="#3a3a3a" stroke-width="2.4" />
<line x1="1285.9" y1="734.58" x2="1296.6" y2="734.58" stroke="#3a3a3a" stroke-width="2.4" />
<line x1="1285.9" y1="743.74" x2="1296.6" y2="743.74" stroke="#3a3a3a" stroke-width="2.4" />
<line x1="1285.9" y1="752.9" x2="1296.6" y2="752.9" stroke="#3a3a3a" stroke-width="2.4" />
<line x1="1277.1" y1="762.06" x2="1285.9" y2="762.06" stroke="#3a3a3a" stroke-width="2.4" />
<line x1="1285.9" y1="771.23" x2="1296.6" y2="771.23" stroke="#3a3a3a" stroke-width="2.4" />
<line x1="1285.9" y1="780.39" x2="1296.6" y2="780.39" stroke="#3a3a3a" stroke-width="2.4" />
<line x1="1285.9" y1="789.55" x2="1296.6" y2="789.55" stroke="#3a3a3a" stroke-width="2.4" />
<line x1="1285.9" y1="798.71" x2="1296.6" y2="798.71" stroke="#3a3a3a" stroke-width="2.4" />
<line x1="1277.1" y1="807.88" x2="1285.9" y2="807.88" stroke="#3a3a3a" stroke-width="2.4" />
<line x1="1285.9" y1="817.04" x2="1296.6" y2="817.04" stroke="#3a3a3a" stroke-width="2.4" />
<line x1="1285.9" y1="826.2" x2="1296.6" y2="826.2" stroke="#3a3a3a" stroke-width="2.4" />
<line x1="1285.9" y1="835.36" x2="1296.6" y2="835.36" stroke="#3a3a3a" stroke-width="2.4" />
<line x1="1285.9" y1="844.53" x2="1296.6" y2="844.53" stroke="#3a3a3a" stroke-width="2.4" />
<line x1="1277.1" y1="853.69" x2="1285.9" y2="853.69" stroke="#3a3a3a" stroke-width="2.4" />
<line x1="1285.9" y1="862.85" x2="1296.6" y2="862.85" stroke="#3a3a3a" stroke-width="2.4" />
<line x1="1285.9" y1="872.01" x2="1296.6" y2="872.01" stroke="#3a3a3a" stroke-width="2.4" />
<line x1="1285.9" y1="881.18" x2="1296.6" y2="881.18" stroke="#3a3a3a" stroke-width="2.4" />
<line x1="1285.9" y1="890.34" x2="1296.6" y2="890.34" stroke="#3a3a3a" stroke-width="2.4" />
<line x1="1277.1" y1="899.5" x2="1285.9" y2="899.5" stroke="#3a3a3a" stroke-width="2.4" />
<line x1="1284.9" y1="899.5" x2="1392.5" y2="899.5" stroke="#3a3a3a" stroke-width="2.2" />
<line x1="1285.9" y1="899.5" x2="1285.9" y2="919.5" stroke="#3a3a3a" stroke-width="2.2" />
<line x1="1312.3" y1="889" x2="1312.3" y2="899.5" stroke="#3a3a3a" stroke-width="2.2" />
<line x1="1338.7" y1="899.5" x2="1338.7" y2="919.5" stroke="#3a3a3a" stroke-width="2.2" />
<line x1="1365.1" y1="889" x2="1365.1" y2="899.5" stroke="#3a3a3a" stroke-width="2.2" />
<line x1="1391.5" y1="899.5" x2="1391.5" y2="919.5" stroke="#3a3a3a" stroke-width="2.2" />


<text x="1007.9" y="152.6" font-family="Liberation Sans" font-size="21.5" fill="#1a1a1a" class="th2" textLength="131.8" lengthAdjust="spacingAndGlyphs">1<tspan font-size="13" dy="-8">st</tspan><tspan dy="8"> Pycnocline</tspan></text>
<text x="1007.6" y="565.6" font-family="Liberation Sans" font-size="21.5" fill="#1a1a1a" class="th2" textLength="137.3" lengthAdjust="spacingAndGlyphs">2<tspan font-size="13" dy="-8">nd</tspan><tspan dy="8"> Pycnocline</tspan></text>
<text x="1007" y="707" font-family="Liberation Sans" font-size="21.5" fill="#1a1a1a" class="th2" textLength="135.1" lengthAdjust="spacingAndGlyphs">3<tspan font-size="13" dy="-8">rd</tspan><tspan dy="8"> Pycnocline</tspan></text>
<text x="1006.8" y="873.3" font-family="Liberation Sans" font-size="21.5" fill="#1a1a1a" class="th2" textLength="135.6" lengthAdjust="spacingAndGlyphs">4<tspan font-size="13" dy="-8">th</tspan><tspan dy="8"> Pycnocline</tspan></text>
<path d="M357.4 120.4 L357.4 128 L332.6 130 L300.4 132.2 L292.9 135.5 L291 145 L290 220.4 L289.5 272.4 L288.4 290.4 L284.9 306.2 L281.9 348.4 L279.6 371.2 L277.5 376.4 L277.3 394.1 L276.6 439.8 L274.8 470.4 L274.5 485.4 L271.8 531.4 L263.5 555.2 L247.2 568.9 L241.5 571.4 L222.5 576.4 L221.2 600.4 L220.4 623.4 L210.2 670.1 L208.9 692 L200.5 700.2 L187 707 L180.5 712.9 L166.5 717.9 L159.5 722.4 L155.5 727.7 L155 760.4 L154.2 856.3 L163.5 861.4 L170.5 869.9 L195.2 878.1 L239 885 L247.2 889.1 L254.5 894.4 L256.5 900" stroke="#000" stroke-width="4.5" fill="none" stroke-linejoin="round" stroke-linecap="round" />
<path d="M282 120.4 L282.6 126.5 L290.3 128.8 L290.7 140 L290.5 220 L290 272 L288.9 290 L285.4 305.8 L282.4 348 L280.1 370.8 L278 376 L277.8 393.7 L277.1 439.4 L275.3 470 L275 485 L272.3 531 L264 554.8 L247.7 568.5 L242 571 L223 576 L221.7 600 L220.9 623 L210.7 669.7 L209.4 691.6 L201 699.8 L187.5 706.6 L181 712.5 L167 717.5 L160 722 L156 727.3 L155.5 760 L154.7 855.9 L164 861 L171 869.5 L195.7 877.7 L239.5 884.6 L247.7 888.7 L255 894 L257 899.6" stroke="#ff0000" stroke-width="3.4" fill="none" stroke-linejoin="round" stroke-linecap="round" />
<path d="M529.8 120.8 L530.8 125 L543 127.3 L592 128.8 L594 133" stroke="#0b3a9c" stroke-width="4.2" fill="none" stroke-linejoin="round" stroke-linecap="round" />
<path d="M543.2 121 L543.5 128 L560 129.6 L589.6 131.8 L592.3 135 L593 145" stroke="#90cdd2" stroke-width="2.4" fill="none" stroke-linejoin="round" stroke-linecap="round" />
<path d="M594 133 L593.4 240 L594.7 267.3 L596 286.5 L600.7 305.6 L604.8 354.8 L608.1 374 L610.3 472.4 L612.1 500 L614.3 531.4 L616.2 538.3 L619.5 546.5 L621.7 557.4 L638.1 571.1 L649 573.8 L658 578 L660 621.7 L666.8 664 L670.9 686 L673.6 699.6 L686 710.6 L702.3 716 L710 728.3 L710 780 L710.8 862 L715 870 L721.4 877 L729.8 884 L727.7 898" stroke="#1a4a9a" stroke-width="3.9" fill="none" stroke-linejoin="round" stroke-linecap="round" />
<path d="M594 133 L593.4 240 L594.7 267.3 L596 286.5 L600.7 305.6 L604.8 354.8 L608.1 374 L610.3 472.4 L612.1 500 L614.3 531.4 L616.2 538.3 L619.5 546.5 L621.7 557.4 L638.1 571.1 L649 573.8 L658 578 L660 621.7 L666.8 664 L670.9 686 L673.6 699.6 L686 710.6 L702.3 716 L710 728.3 L710 780 L710.8 862 L715 870 L721.4 877 L729.8 884 L727.7 898" stroke="#90c9cf" stroke-width="2.1" fill="none" stroke-linejoin="round" stroke-linecap="round" />
<path d="M722 878 L729.8 884 L727.7 898" stroke="#0b3a9c" stroke-width="4.2" fill="none" stroke-linejoin="round" stroke-linecap="round" />
<path d="M922 121.5 L922.8 128.5 L950 130.5 L971.3 133.2 L975 140" stroke="#ff00ff" stroke-width="2.2" fill="none" stroke-linejoin="round" stroke-linecap="round" />
<path d="M918.8 120.5 L919.5 125.7 L950 127.5 L973.7 129.4 L975 135 L978 240 L978.9 267.3 L982.2 292 L987 308.4 L988.4 333 L993.4 371.3 L995.8 376.7 L998.8 458.8 L1002 483.4 L1002.7 500 L1007 535.5 L1011.7 549 L1018.5 561.5 L1032.2 572.5 L1051.3 578 L1053.2 582 L1054.9 631.3 L1061.7 664 L1067.7 688.7 L1074.6 702.4 L1085.5 712 L1103.3 718.8 L1110.1 729.7 L1111.5 780 L1110.7 800 L1112.9 860 L1117.3 877 L1123.8 884 L1119.5 888 L1118.4 900" stroke="#9000d0" stroke-width="3.6" fill="none" stroke-linejoin="round" stroke-linecap="round" />
<path d="M975 135 L978 240 L978.9 267.3 L982.2 292 L987 308.4 L988.4 333 L993.4 371.3 L995.8 376.7 L998.8 458.8 L1002 483.4 L1002.7 500 L1007 535.5 L1011.7 549 L1018.5 561.5 L1032.2 572.5 L1051.3 578 L1053.2 582 L1054.9 631.3 L1061.7 664 L1067.7 688.7 L1074.6 702.4 L1085.5 712 L1103.3 718.8 L1110.1 729.7 L1111.5 780 L1110.7 800 L1112.9 860 L1117.3 877 L1123.8 884 L1119.5 888 L1118.4 900" stroke="#ee00ff" stroke-width="2.2" fill="none" stroke-linejoin="round" stroke-linecap="round" />
<defs><clipPath id="bandclip"><rect x="0" y="128.3" width="1417" height="4.899999999999977"/><rect x="0" y="556.0" width="1417" height="23.399999999999977"/><rect x="0" y="696.2" width="1417" height="26.0"/><rect x="0" y="852.6" width="1417" height="37.10000000000002"/></clipPath></defs>
<g clip-path="url(#bandclip)">
<path d="M381.3 529.87 L402.36 529.87 L414.06 544.53 L428.1 552.78 L426.93 566.52 L423.42 570.19 L439.8 572.02 L421.08 574.77 L402.36 577.52 L381.3 577.52Z" fill="rgba(0,0,0,0.08)" />
<path d="M381.3 681.97 L402.36 681.97 L416.4 691.13 L428.1 698.46 L423.42 707.62 L438.63 711.29 L425.76 716.79 L402.36 722.28 L381.3 722.28Z" fill="rgba(0,0,0,0.08)" />
<path d="M381.3 845.06 L402.36 845.06 L428.1 850.56 L430.44 863.38 L430.44 878.04 L445.65 880.79 L430.44 887.21 L418.74 890.87 L402.36 894.54 L381.3 894.54Z" fill="rgba(0,0,0,0.08)" />
<path d="M771.9 542.91 L797.58 542.91 L811.59 550.23 L823.27 557.56 L824.44 570.38 L841.95 574.05 L818.6 576.79 L797.58 579.54 L771.9 579.54Z" fill="rgba(0,0,0,0.08)" />
<path d="M771.9 685.78 L797.58 685.78 L813.93 693.11 L827.94 700.44 L827.94 711.43 L838.21 715.09 L820.93 718.76 L797.58 726.08 L771.9 726.08Z" fill="rgba(0,0,0,0.08)" />
<path d="M771.9 846.98 L797.58 846.98 L818.6 852.47 L823.27 863.46 L823.27 879.95 L836.11 882.7 L823.27 889.11 L811.59 893.69 L797.58 896.44 L771.9 896.44Z" fill="rgba(0,0,0,0.08)" />
</g>
<path d="M399.3 119.4 L408.7 120.3 L413.7 121.2 L410.6 122.1 L410.6 123.1 L423.9 124.0 L434.1 124.9 L444.6 125.8 L439.0 126.7 L443.1 127.6 L456.3 128.6 L456.5 129.5 L457.3 130.4 L451.1 131.3 L439.4 132.2 L431.6 133.1 L437.0 134.1 L419.2 135.0 L411.8 135.9 L405.0 136.8 L405.1 137.7 L403.5 138.6 L407.2 139.6 L398.8 140.5 L388.1 141.4 L407.9 142.3 L390.6 143.2 L402.4 144.1 L428.6 145.1 L402.0 146.0 L400.1 146.9 L407.6 147.8 L403.2 148.7 L394.4 149.6 L414.8 150.6 L398.3 151.5 L382.0 152.4 L406.5 153.3 L392.9 154.2 L392.3 155.1 L392.2 156.0 L420.2 157.0 L393.1 157.9 L406.0 158.8 L394.3 159.7 L399.2 160.6 L410.1 161.5 L410.7 162.5 L403.8 163.4 L408.5 164.3 L396.8 165.2 L418.0 166.1 L409.3 167.0 L393.3 168.0 L403.8 168.9 L408.3 169.8 L401.5 170.7 L405.3 171.6 L402.8 172.5 L413.1 173.5 L411.2 174.4 L400.0 175.3 L404.2 176.2 L406.6 177.1 L402.4 178.0 L407.5 179.0 L408.8 179.9 L420.8 180.8 L387.8 181.7 L404.1 182.6 L400.6 183.5 L396.5 184.5 L401.0 185.4 L407.1 186.3 L403.7 187.2 L412.5 188.1 L399.0 189.0 L416.7 190.0 L399.7 190.9 L403.3 191.8 L398.6 192.7 L400.5 193.6 L413.9 194.5 L400.9 195.4 L393.1 196.4 L404.0 197.3 L404.0 198.2 L402.0 199.1 L401.5 200.0 L395.4 200.9 L389.9 201.9 L398.6 202.8 L398.3 203.7 L388.8 204.6 L395.6 205.5 L386.7 206.4 L406.4 207.4 L387.0 208.3 L394.6 209.2 L409.4 210.1 L386.2 211.0 L383.0 211.9 L392.5 212.9 L410.7 213.8 L404.1 214.7 L392.5 215.6 L396.6 216.5 L403.0 217.4 L388.9 218.4 L387.0 219.3 L400.0 220.2 L397.5 221.1 L397.8 222.0 L395.1 222.9 L399.7 223.9 L397.8 224.8 L416.4 225.7 L393.9 226.6 L400.6 227.5 L406.3 228.4 L409.6 229.3 L392.2 230.3 L406.6 231.2 L410.0 232.1 L392.8 233.0 L408.1 233.9 L414.3 234.8 L383.2 235.8 L409.9 236.7 L405.5 237.6 L395.7 238.5 L415.5 239.4 L417.1 240.3 L404.7 241.3 L413.1 242.2 L405.6 243.1 L394.2 244.0 L390.4 244.9 L405.2 245.8 L405.4 246.8 L401.2 247.7 L397.5 248.6 L399.2 249.5 L393.2 250.4 L391.3 251.3 L411.1 252.3 L414.0 253.2 L397.1 254.1 L390.1 255.0 L390.0 255.9 L412.7 256.8 L392.6 257.8 L399.2 258.7 L398.0 259.6 L394.4 260.5 L392.5 261.4 L424.1 262.3 L399.7 263.2 L394.9 264.2 L418.1 265.1 L409.8 266.0 L406.6 266.9 L400.5 267.8 L402.5 268.7 L403.9 269.7 L397.7 270.6 L405.2 271.5 L405.8 272.4 L408.9 273.3 L392.1 274.2 L405.6 275.2 L401.3 276.1 L399.2 277.0 L414.8 277.9 L408.0 278.8 L393.9 279.7 L412.0 280.7 L388.2 281.6 L411.9 282.5 L400.4 283.4 L393.2 284.3 L388.9 285.2 L394.4 286.2 L401.6 287.1 L390.2 288.0 L403.0 288.9 L385.3 289.8 L412.6 290.7 L398.3 291.7 L403.1 292.6 L409.7 293.5 L397.1 294.4 L389.0 295.3 L390.1 296.2 L407.5 297.1 L403.1 298.1 L399.1 299.0 L409.1 299.9 L401.9 300.8 L398.3 301.7 L405.5 302.6 L411.6 303.6 L394.0 304.5 L407.4 305.4 L394.7 306.3 L394.0 307.2 L390.4 308.1 L392.2 309.1 L408.7 310.0 L386.4 310.9 L407.3 311.8 L399.8 312.7 L406.3 313.6 L406.7 314.6 L414.7 315.5 L411.0 316.4 L408.0 317.3 L405.8 318.2 L395.1 319.1 L386.4 320.1 L389.0 321.0 L401.9 321.9 L403.5 322.8 L398.7 323.7 L392.1 324.6 L401.4 325.6 L406.7 326.5 L417.0 327.4 L404.7 328.3 L404.0 329.2 L403.0 330.1 L395.3 331.1 L384.4 332.0 L406.9 332.9 L406.0 333.8 L410.3 334.7 L404.0 335.6 L396.4 336.5 L406.3 337.5 L390.6 338.4 L393.5 339.3 L408.4 340.2 L404.4 341.1 L396.6 342.0 L404.9 343.0 L388.0 343.9 L411.3 344.8 L394.0 345.7 L391.8 346.6 L409.5 347.5 L401.2 348.5 L402.6 349.4 L398.2 350.3 L398.3 351.2 L396.2 352.1 L412.3 353.0 L382.0 354.0 L424.0 354.9 L396.8 355.8 L382.0 356.7 L399.7 357.6 L410.4 358.5 L407.3 359.5 L405.9 360.4 L382.0 361.3 L401.3 362.2 L393.0 363.1 L391.3 364.0 L402.5 365.0 L399.9 365.9 L397.6 366.8 L403.2 367.7 L420.3 368.6 L409.3 369.5 L396.2 370.4 L398.0 371.4 L396.3 372.3 L399.9 373.2 L406.5 374.1 L402.9 375.0 L389.3 375.9 L401.6 376.9 L405.3 377.8 L401.3 378.7 L382.0 379.6 L405.4 380.5 L414.1 381.4 L397.5 382.4 L406.8 383.3 L392.5 384.2 L391.0 385.1 L403.8 386.0 L391.3 386.9 L406.5 387.9 L395.1 388.8 L398.3 389.7 L422.0 390.6 L402.1 391.5 L415.0 392.4 L413.4 393.4 L398.3 394.3 L407.3 395.2 L392.9 396.1 L396.2 397.0 L402.5 397.9 L424.6 398.9 L405.1 399.8 L403.1 400.7 L399.7 401.6 L399.8 402.5 L412.6 403.4 L408.5 404.3 L396.0 405.3 L408.9 406.2 L401.9 407.1 L387.2 408.0 L406.4 408.9 L392.0 409.8 L396.9 410.8 L405.2 411.7 L388.7 412.6 L382.7 413.5 L401.9 414.4 L384.4 415.3 L415.7 416.3 L411.7 417.2 L393.9 418.1 L398.8 419.0 L402.9 419.9 L399.2 420.8 L408.3 421.8 L405.7 422.7 L401.5 423.6 L406.7 424.5 L399.7 425.4 L405.3 426.3 L418.8 427.3 L393.1 428.2 L404.6 429.1 L395.9 430.0 L417.8 430.9 L395.6 431.8 L397.3 432.8 L408.0 433.7 L405.8 434.6 L412.0 435.5 L407.6 436.4 L393.6 437.3 L401.1 438.2 L398.0 439.2 L383.5 440.1 L393.8 441.0 L411.6 441.9 L406.3 442.8 L413.7 443.7 L408.7 444.7 L399.4 445.6 L399.0 446.5 L402.5 447.4 L408.0 448.3 L403.1 449.2 L394.4 450.2 L398.0 451.1 L394.2 452.0 L397.8 452.9 L385.3 453.8 L394.6 454.7 L388.9 455.7 L417.7 456.6 L389.5 457.5 L398.8 458.4 L388.5 459.3 L410.3 460.2 L412.8 461.2 L405.0 462.1 L407.0 463.0 L405.1 463.9 L401.8 464.8 L394.1 465.7 L391.3 466.7 L392.2 467.6 L403.8 468.5 L404.6 469.4 L407.5 470.3 L397.7 471.2 L399.2 472.2 L408.6 473.1 L414.2 474.0 L406.1 474.9 L394.1 475.8 L408.6 476.7 L398.6 477.6 L385.7 478.6 L403.0 479.5 L395.1 480.4 L408.8 481.3 L414.0 482.2 L396.1 483.1 L392.5 484.1 L412.6 485.0 L404.9 485.9 L406.2 486.8 L408.9 487.7 L395.3 488.6 L401.3 489.6 L412.1 490.5 L417.1 491.4 L402.5 492.3 L407.8 493.2 L405.5 494.1 L393.5 495.1 L403.5 496.0 L406.6 496.9 L397.1 497.8 L405.4 498.7 L400.6 499.6 L393.0 500.6 L399.7 501.5 L399.8 502.4 L408.7 503.3 L390.0 504.2 L404.9 505.1 L408.6 506.1 L407.3 507.0 L403.5 507.9 L392.2 508.8 L403.2 509.7 L401.0 510.6 L404.0 511.5 L397.2 512.5 L395.3 513.4 L409.3 514.3 L393.2 515.2 L409.8 516.1 L401.5 517.0 L395.3 518.0 L401.2 518.9 L395.3 519.8 L404.6 520.7 L405.1 521.6 L405.8 522.5 L409.7 523.5 L407.2 524.4 L405.4 525.3 L399.8 526.2 L404.1 527.1 L390.9 528.0 L401.5 529.0 L399.4 529.9 L405.7 530.8 L403.2 531.7 L405.0 532.6 L399.8 533.5 L410.0 534.5 L414.4 535.4 L406.6 536.3 L405.0 537.2 L403.9 538.1 L413.6 539.0 L410.9 540.0 L407.7 540.9 L417.2 541.8 L415.9 542.7 L416.0 543.6 L406.4 544.5 L415.2 545.4 L419.9 546.4 L413.4 547.3 L424.4 548.2 L428.1 549.1 L427.9 550.0 L421.8 550.9 L423.4 551.9 L432.2 552.8 L432.4 553.7 L433.3 554.6 L433.1 555.5 L427.4 556.4 L425.9 557.4 L419.5 558.3 L431.0 559.2 L437.4 560.1 L425.4 561.0 L425.2 561.9 L430.1 562.9 L428.8 563.8 L421.1 564.7 L423.9 565.6 L422.1 566.5 L434.9 567.4 L422.0 568.4 L428.0 569.3 L431.8 570.2 L439.9 571.1 L446.0 572.0 L440.7 572.9 L421.9 573.9 L419.6 574.8 L411.7 575.7 L407.3 576.6 L413.8 577.5 L389.0 578.4 L399.1 579.4 L399.9 580.3 L407.1 581.2 L398.8 582.1 L406.3 583.0 L409.5 583.9 L421.1 584.8 L400.8 585.8 L396.2 586.7 L390.9 587.6 L402.8 588.5 L401.0 589.4 L407.3 590.3 L408.5 591.3 L396.2 592.2 L401.6 593.1 L401.0 594.0 L400.6 594.9 L412.8 595.8 L399.6 596.8 L393.7 597.7 L393.8 598.6 L382.0 599.5 L404.7 600.4 L395.2 601.3 L407.0 602.3 L392.8 603.2 L400.8 604.1 L401.2 605.0 L404.8 605.9 L401.1 606.8 L391.7 607.8 L399.8 608.7 L400.7 609.6 L386.2 610.5 L402.2 611.4 L402.8 612.3 L409.1 613.3 L418.3 614.2 L409.7 615.1 L407.9 616.0 L396.2 616.9 L402.1 617.8 L392.1 618.7 L403.4 619.7 L398.4 620.6 L408.3 621.5 L402.4 622.4 L418.0 623.3 L408.8 624.2 L395.4 625.2 L410.6 626.1 L399.0 627.0 L411.1 627.9 L397.0 628.8 L403.3 629.7 L406.5 630.7 L399.2 631.6 L397.5 632.5 L403.2 633.4 L405.7 634.3 L413.1 635.2 L405.9 636.2 L403.5 637.1 L415.4 638.0 L392.9 638.9 L396.1 639.8 L384.7 640.7 L403.5 641.7 L409.1 642.6 L404.8 643.5 L407.7 644.4 L394.2 645.3 L410.8 646.2 L403.2 647.2 L409.0 648.1 L400.5 649.0 L413.6 649.9 L393.3 650.8 L398.9 651.7 L401.1 652.6 L408.3 653.6 L399.4 654.5 L415.4 655.4 L397.5 656.3 L400.8 657.2 L411.0 658.1 L404.2 659.1 L410.8 660.0 L398.3 660.9 L397.8 661.8 L396.4 662.7 L393.0 663.6 L401.4 664.6 L382.9 665.5 L399.8 666.4 L407.9 667.3 L411.7 668.2 L404.4 669.1 L388.5 670.1 L396.7 671.0 L402.7 671.9 L412.8 672.8 L404.7 673.7 L405.9 674.6 L393.0 675.6 L394.5 676.5 L405.8 677.4 L417.9 678.3 L410.0 679.2 L403.9 680.1 L396.7 681.1 L406.0 682.0 L404.8 682.9 L401.3 683.8 L402.9 684.7 L407.4 685.6 L415.2 686.5 L417.7 687.5 L416.5 688.4 L415.2 689.3 L418.0 690.2 L420.0 691.1 L423.5 692.0 L423.1 693.0 L414.1 693.9 L426.4 694.8 L425.4 695.7 L423.2 696.6 L428.9 697.5 L429.4 698.5 L427.4 699.4 L419.8 700.3 L427.2 701.2 L428.7 702.1 L425.5 703.0 L418.3 704.0 L426.8 704.9 L427.5 705.8 L424.7 706.7 L425.3 707.6 L425.7 708.5 L428.1 709.5 L437.1 710.4 L437.1 711.3 L437.3 712.2 L448.6 713.1 L435.3 714.0 L430.6 715.0 L420.8 715.9 L426.2 716.8 L425.2 717.7 L414.9 718.6 L413.0 719.5 L400.3 720.5 L408.7 721.4 L399.8 722.3 L407.8 723.2 L400.6 724.1 L400.9 725.0 L409.2 725.9 L405.0 726.9 L388.4 727.8 L393.4 728.7 L406.7 729.6 L395.9 730.5 L399.4 731.4 L406.5 732.4 L403.9 733.3 L407.7 734.2 L382.0 735.1 L410.6 736.0 L404.6 736.9 L409.9 737.9 L396.1 738.8 L407.2 739.7 L388.2 740.6 L413.6 741.5 L399.4 742.4 L405.9 743.4 L403.6 744.3 L385.9 745.2 L399.9 746.1 L404.6 747.0 L399.0 747.9 L392.8 748.9 L406.8 749.8 L399.9 750.7 L393.5 751.6 L406.9 752.5 L401.5 753.4 L415.1 754.4 L404.2 755.3 L408.6 756.2 L390.3 757.1 L412.8 758.0 L399.0 758.9 L406.9 759.8 L389.1 760.8 L396.5 761.7 L393.8 762.6 L386.7 763.5 L392.4 764.4 L385.2 765.3 L400.0 766.3 L399.8 767.2 L409.6 768.1 L405.2 769.0 L401.5 769.9 L407.0 770.8 L408.2 771.8 L412.6 772.7 L397.8 773.6 L409.3 774.5 L399.3 775.4 L388.1 776.3 L400.5 777.3 L398.7 778.2 L394.7 779.1 L397.8 780.0 L409.6 780.9 L403.4 781.8 L401.5 782.8 L414.1 783.7 L387.5 784.6 L389.2 785.5 L415.1 786.4 L397.5 787.3 L395.4 788.3 L406.7 789.2 L408.0 790.1 L395.4 791.0 L395.5 791.9 L402.1 792.8 L405.4 793.7 L406.6 794.7 L402.4 795.6 L402.7 796.5 L403.0 797.4 L411.6 798.3 L395.1 799.2 L395.2 800.2 L398.7 801.1 L408.7 802.0 L399.8 802.9 L390.4 803.8 L404.5 804.7 L398.2 805.7 L395.3 806.6 L399.4 807.5 L396.6 808.4 L401.1 809.3 L406.5 810.2 L410.9 811.2 L405.7 812.1 L403.9 813.0 L389.3 813.9 L406.5 814.8 L410.1 815.7 L390.4 816.7 L404.6 817.6 L394.8 818.5 L400.8 819.4 L395.4 820.3 L410.6 821.2 L389.9 822.2 L399.4 823.1 L391.7 824.0 L407.8 824.9 L407.8 825.8 L402.9 826.7 L403.6 827.6 L406.6 828.6 L401.6 829.5 L396.9 830.4 L396.5 831.3 L414.4 832.2 L402.8 833.1 L399.4 834.1 L382.0 835.0 L412.2 835.9 L404.0 836.8 L397.2 837.7 L415.7 838.6 L393.8 839.6 L409.3 840.5 L393.0 841.4 L410.2 842.3 L405.3 843.2 L406.3 844.1 L402.3 845.1 L411.7 846.0 L413.8 846.9 L417.9 847.8 L425.1 848.7 L424.5 849.6 L431.9 850.6 L433.1 851.5 L428.0 852.4 L431.7 853.3 L424.6 854.2 L429.4 855.1 L429.0 856.1 L430.7 857.0 L437.9 857.9 L433.2 858.8 L429.1 859.7 L431.6 860.6 L432.2 861.6 L434.9 862.5 L433.4 863.4 L430.4 864.3 L433.8 865.2 L426.7 866.1 L423.6 867.0 L434.5 868.0 L429.2 868.9 L431.4 869.8 L424.4 870.7 L428.4 871.6 L427.9 872.5 L428.0 873.5 L438.6 874.4 L427.2 875.3 L435.2 876.2 L430.3 877.1 L434.0 878.0 L429.4 879.0 L441.0 879.9 L446.6 880.8 L444.6 881.7 L443.2 882.6 L442.8 883.5 L438.8 884.5 L434.9 885.4 L428.8 886.3 L429.8 887.2 L427.5 888.1 L427.3 889.0 L432.4 890.0 L424.1 890.9 L415.0 891.8 L413.4 892.7 L399.2 893.6 L402.0 894.5 L394.4 895.5 L408.7 896.4 L390.4 897.3 L410.0 898.2" stroke="#a02828" stroke-width="1.0" fill="none" stroke-opacity="0.7" stroke-linejoin="bevel"/>
<path d="M398.4 119.4 L408.1 120.3 L408.2 121.2 L410.8 122.1 L420.6 123.1 L424.5 124.0 L430.8 124.9 L447.7 125.8 L442.1 126.7 L443.2 127.6 L447.2 128.6 L452.1 129.5 L453.5 130.4 L450.5 131.3 L444.8 132.2 L440.9 133.1 L433.3 134.1 L423.4 135.0 L421.2 135.9 L413.0 136.8 L402.4 137.7 L409.3 138.6 L405.2 139.6 L402.7 140.5 L422.1 141.4 L415.1 142.3 L398.6 143.2 L404.3 144.1 L406.7 145.1 L412.9 146.0 L395.6 146.9 L407.2 147.8 L400.9 148.7 L403.7 149.6 L414.0 150.6 L400.6 151.5 L398.0 152.4 L391.3 153.3 L396.1 154.2 L409.6 155.1 L416.9 156.0 L405.0 157.0 L403.8 157.9 L410.6 158.8 L410.4 159.7 L408.4 160.6 L408.6 161.5 L403.8 162.5 L410.7 163.4 L405.2 164.3 L382.5 165.2 L405.3 166.1 L411.3 167.0 L418.1 168.0 L399.1 168.9 L384.8 169.8 L398.7 170.7 L407.3 171.6 L430.9 172.5 L395.7 173.5 L405.9 174.4 L387.7 175.3 L393.4 176.2 L400.8 177.1 L418.3 178.0 L396.8 179.0 L406.9 179.9 L397.8 180.8 L398.2 181.7 L390.6 182.6 L402.0 183.5 L414.4 184.5 L408.6 185.4 L396.9 186.3 L412.5 187.2 L401.0 188.1 L415.4 189.0 L399.2 190.0 L413.8 190.9 L394.2 191.8 L393.6 192.7 L403.6 193.6 L414.1 194.5 L394.3 195.4 L388.7 196.4 L399.3 197.3 L398.2 198.2 L407.8 199.1 L391.6 200.0 L399.5 200.9 L399.9 201.9 L394.8 202.8 L397.0 203.7 L413.2 204.6 L397.7 205.5 L413.7 206.4 L403.6 207.4 L399.3 208.3 L407.4 209.2 L413.0 210.1 L389.2 211.0 L419.2 211.9 L404.9 212.9 L410.4 213.8 L390.0 214.7 L402.3 215.6 L390.4 216.5 L392.9 217.4 L411.6 218.4 L390.5 219.3 L402.9 220.2 L394.4 221.1 L412.3 222.0 L400.6 222.9 L401.6 223.9 L395.4 224.8 L400.8 225.7 L406.4 226.6 L402.3 227.5 L404.8 228.4 L412.3 229.3 L398.2 230.3 L408.0 231.2 L398.1 232.1 L408.4 233.0 L393.3 233.9 L397.8 234.8 L398.2 235.8 L396.3 236.7 L407.7 237.6 L404.1 238.5 L408.2 239.4 L416.6 240.3 L407.3 241.3 L394.2 242.2 L412.4 243.1 L412.3 244.0 L391.1 244.9 L407.1 245.8 L403.4 246.8 L400.9 247.7 L395.8 248.6 L396.3 249.5 L417.0 250.4 L398.4 251.3 L393.3 252.3 L394.1 253.2 L390.7 254.1 L391.3 255.0 L404.7 255.9 L389.8 256.8 L401.0 257.8 L386.7 258.7 L403.2 259.6 L398.9 260.5 L394.7 261.4 L402.7 262.3 L387.2 263.2 L404.9 264.2 L404.5 265.1 L411.5 266.0 L410.3 266.9 L415.1 267.8 L396.5 268.7 L410.4 269.7 L398.3 270.6 L393.5 271.5 L407.0 272.4 L411.6 273.3 L408.0 274.2 L404.1 275.2 L383.9 276.1 L411.9 277.0 L394.7 277.9 L389.5 278.8 L403.8 279.7 L398.2 280.7 L409.0 281.6 L397.1 282.5 L402.9 283.4 L398.6 284.3 L406.8 285.2 L409.3 286.2 L409.5 287.1 L402.2 288.0 L410.6 288.9 L399.0 289.8 L398.7 290.7 L395.5 291.7 L398.7 292.6 L409.5 293.5 L402.3 294.4 L406.1 295.3 L409.5 296.2 L397.4 297.1 L407.8 298.1 L396.6 299.0 L412.5 299.9 L400.5 300.8 L399.9 301.7 L402.3 302.6 L416.9 303.6 L406.4 304.5 L409.9 305.4 L402.9 306.3 L407.6 307.2 L394.7 308.1 L397.5 309.1 L409.7 310.0 L399.3 310.9 L399.5 311.8 L389.4 312.7 L401.0 313.6 L393.1 314.6 L400.7 315.5 L384.7 316.4 L404.3 317.3 L394.7 318.2 L411.1 319.1 L414.7 320.1 L401.3 321.0 L410.6 321.9 L400.7 322.8 L406.7 323.7 L395.6 324.6 L408.7 325.6 L405.8 326.5 L406.9 327.4 L411.2 328.3 L398.3 329.2 L413.8 330.1 L395.1 331.1 L401.7 332.0 L412.2 332.9 L398.6 333.8 L398.9 334.7 L391.3 335.6 L395.7 336.5 L399.8 337.5 L404.2 338.4 L388.2 339.3 L396.6 340.2 L387.5 341.1 L398.2 342.0 L416.4 343.0 L404.5 343.9 L408.0 344.8 L402.0 345.7 L402.2 346.6 L392.7 347.5 L410.2 348.5 L393.9 349.4 L394.5 350.3 L404.4 351.2 L399.0 352.1 L399.8 353.0 L409.0 354.0 L415.7 354.9 L403.7 355.8 L410.3 356.7 L391.1 357.6 L397.1 358.5 L402.4 359.5 L395.8 360.4 L403.1 361.3 L403.8 362.2 L410.0 363.1 L407.5 364.0 L393.3 365.0 L398.4 365.9 L407.9 366.8 L398.6 367.7 L404.9 368.6 L401.3 369.5 L395.8 370.4 L391.8 371.4 L405.2 372.3 L401.6 373.2 L407.4 374.1 L391.5 375.0 L386.2 375.9 L397.9 376.9 L410.9 377.8 L394.4 378.7 L402.9 379.6 L405.3 380.5 L417.0 381.4 L391.2 382.4 L388.9 383.3 L405.1 384.2 L409.1 385.1 L392.5 386.0 L393.8 386.9 L403.9 387.9 L398.2 388.8 L405.0 389.7 L414.4 390.6 L401.4 391.5 L398.2 392.4 L405.7 393.4 L395.6 394.3 L393.0 395.2 L405.9 396.1 L408.5 397.0 L403.7 397.9 L415.2 398.9 L404.2 399.8 L405.2 400.7 L398.8 401.6 L392.9 402.5 L384.9 403.4 L402.9 404.3 L396.6 405.3 L400.5 406.2 L406.5 407.1 L404.6 408.0 L410.9 408.9 L384.4 409.8 L406.1 410.8 L406.1 411.7 L403.5 412.6 L396.4 413.5 L406.6 414.4 L407.5 415.3 L415.8 416.3 L395.1 417.2 L405.4 418.1 L408.3 419.0 L409.4 419.9 L403.5 420.8 L407.8 421.8 L405.4 422.7 L401.6 423.6 L398.4 424.5 L391.5 425.4 L395.0 426.3 L410.4 427.3 L401.6 428.2 L406.1 429.1 L402.3 430.0 L407.0 430.9 L398.3 431.8 L403.0 432.8 L402.4 433.7 L395.6 434.6 L388.0 435.5 L398.5 436.4 L391.4 437.3 L405.9 438.2 L399.4 439.2 L401.9 440.1 L387.5 441.0 L402.0 441.9 L399.9 442.8 L397.0 443.7 L406.7 444.7 L404.3 445.6 L404.6 446.5 L403.2 447.4 L402.3 448.3 L399.7 449.2 L409.1 450.2 L402.1 451.1 L405.1 452.0 L397.9 452.9 L382.0 453.8 L402.9 454.7 L406.1 455.7 L401.6 456.6 L398.0 457.5 L407.0 458.4 L405.2 459.3 L405.1 460.2 L404.1 461.2 L398.1 462.1 L403.0 463.0 L397.8 463.9 L404.6 464.8 L404.5 465.7 L395.6 466.7 L403.7 467.6 L390.0 468.5 L395.1 469.4 L406.2 470.3 L424.3 471.2 L408.1 472.2 L418.0 473.1 L408.6 474.0 L392.3 474.9 L396.8 475.8 L393.5 476.7 L397.6 477.6 L386.2 478.6 L392.6 479.5 L401.3 480.4 L396.7 481.3 L401.9 482.2 L399.3 483.1 L398.8 484.1 L399.0 485.0 L397.3 485.9 L404.8 486.8 L397.8 487.7 L404.3 488.6 L411.6 489.6 L401.5 490.5 L404.0 491.4 L402.2 492.3 L415.7 493.2 L397.9 494.1 L394.3 495.1 L399.0 496.0 L388.1 496.9 L392.1 497.8 L409.0 498.7 L395.0 499.6 L408.0 500.6 L418.3 501.5 L407.9 502.4 L402.6 503.3 L404.7 504.2 L383.8 505.1 L411.7 506.1 L409.6 507.0 L391.0 507.9 L398.1 508.8 L407.2 509.7 L399.9 510.6 L405.1 511.5 L386.9 512.5 L399.0 513.4 L401.5 514.3 L402.6 515.2 L394.6 516.1 L406.9 517.0 L391.6 518.0 L401.4 518.9 L411.5 519.8 L402.2 520.7 L402.7 521.6 L391.5 522.5 L392.6 523.5 L408.2 524.4 L394.8 525.3 L403.0 526.2 L403.3 527.1 L392.2 528.0 L405.9 529.0 L408.3 529.9 L407.4 530.8 L406.5 531.7 L409.8 532.6 L399.2 533.5 L400.1 534.5 L404.7 535.4 L405.7 536.3 L409.9 537.2 L405.1 538.1 L402.4 539.0 L407.4 540.0 L413.2 540.9 L411.6 541.8 L408.9 542.7 L414.4 543.6 L416.6 544.5 L412.0 545.4 L423.8 546.4 L414.6 547.3 L413.8 548.2 L425.5 549.1 L422.5 550.0 L423.0 550.9 L425.9 551.9 L430.4 552.8 L430.2 553.7 L424.1 554.6 L425.7 555.5 L434.4 556.4 L430.1 557.4 L427.4 558.3 L426.4 559.2 L424.5 560.1 L429.3 561.0 L420.3 561.9 L427.9 562.9 L421.4 563.8 L433.2 564.7 L433.0 565.6 L431.4 566.5 L429.7 567.4 L428.5 568.4 L423.4 569.3 L416.9 570.2 L432.4 571.1 L437.5 572.0 L430.5 572.9 L419.3 573.9 L425.8 574.8 L414.3 575.7 L406.0 576.6 L398.7 577.5 L388.3 578.4 L407.3 579.4 L398.5 580.3 L402.2 581.2 L406.5 582.1 L404.7 583.0 L397.6 583.9 L401.5 584.8 L401.6 585.8 L391.2 586.7 L402.0 587.6 L404.0 588.5 L394.8 589.4 L407.0 590.3 L390.2 591.3 L405.8 592.2 L394.7 593.1 L396.1 594.0 L399.1 594.9 L411.0 595.8 L395.6 596.8 L397.6 597.7 L403.5 598.6 L397.1 599.5 L410.3 600.4 L403.9 601.3 L394.9 602.3 L397.3 603.2 L397.6 604.1 L405.6 605.0 L419.1 605.9 L399.5 606.8 L404.2 607.8 L408.6 608.7 L396.7 609.6 L414.5 610.5 L411.6 611.4 L392.1 612.3 L406.1 613.3 L392.8 614.2 L395.7 615.1 L407.8 616.0 L395.9 616.9 L408.6 617.8 L409.3 618.7 L403.3 619.7 L408.2 620.6 L396.7 621.5 L419.7 622.4 L390.0 623.3 L410.6 624.2 L406.2 625.2 L401.2 626.1 L385.9 627.0 L406.4 627.9 L405.8 628.8 L402.5 629.7 L412.1 630.7 L395.8 631.6 L412.3 632.5 L391.9 633.4 L385.3 634.3 L385.0 635.2 L393.7 636.2 L398.3 637.1 L393.6 638.0 L413.1 638.9 L400.8 639.8 L402.8 640.7 L389.6 641.7 L400.6 642.6 L388.0 643.5 L400.1 644.4 L388.1 645.3 L413.8 646.2 L408.7 647.2 L398.2 648.1 L407.2 649.0 L386.4 649.9 L411.4 650.8 L405.8 651.7 L406.2 652.6 L408.3 653.6 L413.0 654.5 L419.4 655.4 L392.3 656.3 L396.7 657.2 L396.3 658.1 L402.0 659.1 L392.5 660.0 L392.0 660.9 L397.8 661.8 L400.7 662.7 L387.1 663.6 L402.5 664.6 L399.8 665.5 L392.9 666.4 L401.5 667.3 L401.6 668.2 L392.9 669.1 L414.0 670.1 L399.3 671.0 L413.7 671.9 L401.4 672.8 L405.6 673.7 L398.9 674.6 L407.4 675.6 L404.5 676.5 L399.9 677.4 L403.1 678.3 L399.6 679.2 L409.3 680.1 L401.5 681.1 L410.9 682.0 L407.4 682.9 L414.8 683.8 L416.2 684.7 L399.8 685.6 L411.9 686.5 L401.5 687.5 L413.6 688.4 L413.5 689.3 L412.3 690.2 L419.0 691.1 L418.3 692.0 L417.7 693.0 L419.5 693.9 L426.1 694.8 L425.6 695.7 L428.7 696.6 L427.9 697.5 L426.0 698.5 L425.3 699.4 L428.0 700.3 L423.4 701.2 L423.3 702.1 L429.1 703.0 L426.1 704.0 L423.7 704.9 L425.1 705.8 L422.1 706.7 L428.9 707.6 L426.2 708.5 L431.0 709.5 L429.6 710.4 L435.4 711.3 L430.6 712.2 L436.1 713.1 L434.5 714.0 L432.6 715.0 L426.2 715.9 L425.8 716.8 L423.3 717.7 L416.2 718.6 L406.6 719.5 L418.6 720.5 L408.3 721.4 L406.2 722.3 L408.5 723.2 L402.2 724.1 L409.4 725.0 L402.2 725.9 L408.1 726.9 L417.0 727.8 L413.5 728.7 L386.5 729.6 L399.4 730.5 L406.5 731.4 L402.5 732.4 L408.0 733.3 L395.8 734.2 L408.2 735.1 L409.4 736.0 L382.0 736.9 L388.4 737.9 L400.0 738.8 L399.3 739.7 L399.4 740.6 L391.6 741.5 L407.3 742.4 L394.2 743.4 L395.0 744.3 L415.0 745.2 L413.2 746.1 L386.0 747.0 L410.3 747.9 L415.1 748.9 L395.1 749.8 L398.4 750.7 L382.5 751.6 L400.9 752.5 L399.1 753.4 L405.0 754.4 L398.2 755.3 L401.0 756.2 L397.5 757.1 L417.1 758.0 L401.8 758.9 L411.8 759.8 L402.2 760.8 L402.0 761.7 L393.2 762.6 L399.6 763.5 L405.5 764.4 L396.3 765.3 L399.1 766.3 L410.2 767.2 L403.7 768.1 L417.3 769.0 L394.8 769.9 L402.7 770.8 L394.9 771.8 L392.5 772.7 L401.9 773.6 L415.3 774.5 L392.3 775.4 L401.9 776.3 L397.1 777.3 L406.5 778.2 L407.3 779.1 L413.9 780.0 L408.7 780.9 L402.3 781.8 L393.9 782.8 L413.3 783.7 L415.4 784.6 L423.3 785.5 L403.9 786.4 L410.8 787.3 L401.1 788.3 L402.1 789.2 L399.7 790.1 L393.1 791.0 L396.4 791.9 L414.2 792.8 L413.5 793.7 L407.4 794.7 L407.6 795.6 L398.9 796.5 L407.4 797.4 L406.6 798.3 L402.3 799.2 L397.8 800.2 L389.5 801.1 L400.4 802.0 L417.3 802.9 L405.5 803.8 L404.7 804.7 L413.3 805.7 L390.4 806.6 L414.1 807.5 L400.4 808.4 L402.9 809.3 L394.3 810.2 L398.1 811.2 L404.4 812.1 L404.5 813.0 L404.4 813.9 L392.3 814.8 L399.3 815.7 L404.8 816.7 L398.9 817.6 L396.1 818.5 L406.0 819.4 L392.5 820.3 L408.3 821.2 L389.8 822.2 L408.7 823.1 L410.4 824.0 L410.6 824.9 L402.7 825.8 L399.2 826.7 L406.7 827.6 L420.2 828.6 L400.0 829.5 L404.6 830.4 L407.2 831.3 L400.8 832.2 L397.1 833.1 L398.9 834.1 L417.0 835.0 L408.1 835.9 L403.9 836.8 L388.1 837.7 L399.7 838.6 L402.7 839.6 L421.1 840.5 L401.3 841.4 L396.1 842.3 L395.4 843.2 L413.2 844.1 L409.8 845.1 L409.0 846.0 L412.4 846.9 L402.7 847.8 L423.4 848.7 L433.2 849.6 L423.7 850.6 L431.6 851.5 L429.4 852.4 L431.8 853.3 L423.8 854.2 L431.6 855.1 L428.9 856.1 L434.8 857.0 L426.7 857.9 L431.0 858.8 L427.5 859.7 L426.9 860.6 L433.3 861.6 L431.0 862.5 L425.1 863.4 L433.3 864.3 L438.8 865.2 L434.3 866.1 L439.8 867.0 L435.5 868.0 L434.1 868.9 L431.1 869.8 L427.1 870.7 L436.1 871.6 L433.0 872.5 L432.0 873.5 L434.8 874.4 L421.7 875.3 L432.3 876.2 L431.1 877.1 L428.2 878.0 L439.0 879.0 L436.0 879.9 L436.3 880.8 L440.9 881.7 L438.4 882.6 L439.4 883.5 L438.5 884.5 L442.7 885.4 L436.2 886.3 L433.2 887.2 L424.4 888.1 L426.2 889.0 L430.2 890.0 L419.3 890.9 L419.1 891.8 L411.3 892.7 L405.8 893.6 L400.6 894.5 L406.6 895.5 L420.8 896.4 L394.4 897.3 L393.0 898.2" stroke="#a02828" stroke-width="1.0" fill="none" stroke-opacity="0.7" stroke-linejoin="bevel"/>
<path d="M802.5 121.6 L802.7 122.5 L824.5 123.4 L811.9 124.3 L812.6 125.3 L816.2 126.2 L813.7 127.1 L814.9 128.0 L823.7 128.9 L840.1 129.8 L861.2 130.8 L843.7 131.7 L823.5 132.6 L822.4 133.5 L821.2 134.4 L811.9 135.3 L818.2 136.3 L814.8 137.2 L818.7 138.1 L807.2 139.0 L808.1 139.9 L810.3 140.8 L809.2 141.7 L798.2 142.7 L809.3 143.6 L794.1 144.5 L787.4 145.4 L794.4 146.3 L807.3 147.2 L797.9 148.2 L797.1 149.1 L795.9 150.0 L801.0 150.9 L791.7 151.8 L789.2 152.7 L799.5 153.7 L806.5 154.6 L796.1 155.5 L796.4 156.4 L811.3 157.3 L794.9 158.2 L790.3 159.2 L794.1 160.1 L807.3 161.0 L810.1 161.9 L796.8 162.8 L804.2 163.7 L796.6 164.6 L796.0 165.6 L801.0 166.5 L803.6 167.4 L787.6 168.3 L808.6 169.2 L802.9 170.1 L783.3 171.1 L804.1 172.0 L776.4 172.9 L786.1 173.8 L798.1 174.7 L787.3 175.6 L805.1 176.6 L783.1 177.5 L794.5 178.4 L793.9 179.3 L782.2 180.2 L802.7 181.1 L804.5 182.0 L804.1 183.0 L802.9 183.9 L806.4 184.8 L802.1 185.7 L807.8 186.6 L801.2 187.5 L797.8 188.5 L805.8 189.4 L801.2 190.3 L799.9 191.2 L785.8 192.1 L800.8 193.0 L806.9 194.0 L810.1 194.9 L809.7 195.8 L797.8 196.7 L789.4 197.6 L812.5 198.5 L800.2 199.4 L801.1 200.4 L810.8 201.3 L806.2 202.2 L787.6 203.1 L807.1 204.0 L814.2 204.9 L788.8 205.9 L813.1 206.8 L799.0 207.7 L805.1 208.6 L794.5 209.5 L784.5 210.4 L784.9 211.4 L810.0 212.3 L796.7 213.2 L790.6 214.1 L800.9 215.0 L810.6 215.9 L783.3 216.9 L793.6 217.8 L800.1 218.7 L798.1 219.6 L805.7 220.5 L784.4 221.4 L804.5 222.3 L809.4 223.3 L789.4 224.2 L806.4 225.1 L820.7 226.0 L796.0 226.9 L804.0 227.8 L787.7 228.8 L800.1 229.7 L803.0 230.6 L807.6 231.5 L801.1 232.4 L797.2 233.3 L804.7 234.3 L790.0 235.2 L812.8 236.1 L816.1 237.0 L773.3 237.9 L793.7 238.8 L799.4 239.7 L786.5 240.7 L804.4 241.6 L807.6 242.5 L806.6 243.4 L807.3 244.3 L803.3 245.2 L791.4 246.2 L787.0 247.1 L804.6 248.0 L787.6 248.9 L803.6 249.8 L800.2 250.7 L801.0 251.7 L793.8 252.6 L798.7 253.5 L798.6 254.4 L797.8 255.3 L806.1 256.2 L795.3 257.2 L807.5 258.1 L783.5 259.0 L811.0 259.9 L798.6 260.8 L817.8 261.7 L786.7 262.6 L797.4 263.6 L800.6 264.5 L811.2 265.4 L782.7 266.3 L817.7 267.2 L795.9 268.1 L795.2 269.1 L794.4 270.0 L814.3 270.9 L798.5 271.8 L793.6 272.7 L790.7 273.6 L794.4 274.6 L811.5 275.5 L817.6 276.4 L806.8 277.3 L804.9 278.2 L809.0 279.1 L805.2 280.0 L786.9 281.0 L804.1 281.9 L806.0 282.8 L815.8 283.7 L805.0 284.6 L790.1 285.5 L795.1 286.5 L808.0 287.4 L798.9 288.3 L791.3 289.2 L811.6 290.1 L815.3 291.0 L811.1 292.0 L792.3 292.9 L819.0 293.8 L794.1 294.7 L811.0 295.6 L805.4 296.5 L797.0 297.4 L811.8 298.4 L787.8 299.3 L812.4 300.2 L804.7 301.1 L790.1 302.0 L799.0 302.9 L814.8 303.9 L795.3 304.8 L812.2 305.7 L808.6 306.6 L804.8 307.5 L797.2 308.4 L802.1 309.4 L801.1 310.3 L791.3 311.2 L781.7 312.1 L795.2 313.0 L793.4 313.9 L816.2 314.9 L797.4 315.8 L803.4 316.7 L795.6 317.6 L802.5 318.5 L807.8 319.4 L793.4 320.3 L796.1 321.3 L805.6 322.2 L801.3 323.1 L814.3 324.0 L799.4 324.9 L803.3 325.8 L804.9 326.8 L796.8 327.7 L799.5 328.6 L822.5 329.5 L809.7 330.4 L803.1 331.3 L778.3 332.3 L807.4 333.2 L802.2 334.1 L789.9 335.0 L806.9 335.9 L808.0 336.8 L798.6 337.7 L801.4 338.7 L790.1 339.6 L796.3 340.5 L788.9 341.4 L792.4 342.3 L798.2 343.2 L799.0 344.2 L796.9 345.1 L802.8 346.0 L803.4 346.9 L802.4 347.8 L794.7 348.7 L804.2 349.7 L796.5 350.6 L811.4 351.5 L796.7 352.4 L806.1 353.3 L797.8 354.2 L814.9 355.1 L813.0 356.1 L806.3 357.0 L787.4 357.9 L807.6 358.8 L772.6 359.7 L801.4 360.6 L796.4 361.6 L801.5 362.5 L789.1 363.4 L800.9 364.3 L793.7 365.2 L808.0 366.1 L814.6 367.1 L793.8 368.0 L774.7 368.9 L793.7 369.8 L792.6 370.7 L805.5 371.6 L811.7 372.6 L791.8 373.5 L784.5 374.4 L796.3 375.3 L789.4 376.2 L785.2 377.1 L786.3 378.0 L811.4 379.0 L805.3 379.9 L801.7 380.8 L797.2 381.7 L799.5 382.6 L797.5 383.5 L776.5 384.5 L810.5 385.4 L811.3 386.3 L782.3 387.2 L798.6 388.1 L788.5 389.0 L820.0 390.0 L816.2 390.9 L798.3 391.8 L786.3 392.7 L796.0 393.6 L798.7 394.5 L805.5 395.4 L792.1 396.4 L797.2 397.3 L794.2 398.2 L804.1 399.1 L796.3 400.0 L812.7 400.9 L811.6 401.9 L793.9 402.8 L785.4 403.7 L797.7 404.6 L787.1 405.5 L801.9 406.4 L800.4 407.4 L802.2 408.3 L808.2 409.2 L806.8 410.1 L796.8 411.0 L803.8 411.9 L777.1 412.9 L812.6 413.8 L789.3 414.7 L804.1 415.6 L810.5 416.5 L815.7 417.4 L796.6 418.3 L802.3 419.3 L786.2 420.2 L800.0 421.1 L784.5 422.0 L781.8 422.9 L793.3 423.8 L789.0 424.8 L820.6 425.7 L787.2 426.6 L824.8 427.5 L807.2 428.4 L792.9 429.3 L793.6 430.3 L801.6 431.2 L810.1 432.1 L788.1 433.0 L804.1 433.9 L817.9 434.8 L785.3 435.7 L810.0 436.7 L809.2 437.6 L777.0 438.5 L801.6 439.4 L802.0 440.3 L796.3 441.2 L795.5 442.2 L808.3 443.1 L788.0 444.0 L788.1 444.9 L793.0 445.8 L802.3 446.7 L807.4 447.7 L793.1 448.6 L812.1 449.5 L798.7 450.4 L793.5 451.3 L791.6 452.2 L798.6 453.1 L817.8 454.1 L793.8 455.0 L796.0 455.9 L811.5 456.8 L787.4 457.7 L800.2 458.6 L781.0 459.6 L791.9 460.5 L789.5 461.4 L804.5 462.3 L799.7 463.2 L799.2 464.1 L803.9 465.1 L789.7 466.0 L798.1 466.9 L800.2 467.8 L794.6 468.7 L799.2 469.6 L808.5 470.6 L809.2 471.5 L808.3 472.4 L783.2 473.3 L803.3 474.2 L808.8 475.1 L813.0 476.0 L804.0 477.0 L799.9 477.9 L806.0 478.8 L802.6 479.7 L788.8 480.6 L786.3 481.5 L813.1 482.5 L791.6 483.4 L816.5 484.3 L792.2 485.2 L798.8 486.1 L799.7 487.0 L802.8 488.0 L803.7 488.9 L801.6 489.8 L800.5 490.7 L806.7 491.6 L783.6 492.5 L802.9 493.4 L808.8 494.4 L798.5 495.3 L809.6 496.2 L804.6 497.1 L793.8 498.0 L808.8 498.9 L815.0 499.9 L786.7 500.8 L801.3 501.7 L799.2 502.6 L789.9 503.5 L801.6 504.4 L795.4 505.4 L797.3 506.3 L800.9 507.2 L802.6 508.1 L784.1 509.0 L799.2 509.9 L813.8 510.9 L786.6 511.8 L804.9 512.7 L800.7 513.6 L792.1 514.5 L806.1 515.4 L797.4 516.3 L802.4 517.3 L803.7 518.2 L794.1 519.1 L810.8 520.0 L783.6 520.9 L796.3 521.8 L795.6 522.8 L798.3 523.7 L799.6 524.6 L798.8 525.5 L789.6 526.4 L799.5 527.3 L796.9 528.3 L809.6 529.2 L796.4 530.1 L796.1 531.0 L808.3 531.9 L810.1 532.8 L813.6 533.7 L801.3 534.7 L793.5 535.6 L815.3 536.5 L807.1 537.4 L796.3 538.3 L785.5 539.2 L798.0 540.2 L806.9 541.1 L806.0 542.0 L801.7 542.9 L808.5 543.8 L805.0 544.7 L803.5 545.7 L809.2 546.6 L812.5 547.5 L808.2 548.4 L809.0 549.3 L813.7 550.2 L803.2 551.1 L808.1 552.1 L817.5 553.0 L820.4 553.9 L808.1 554.8 L821.5 555.7 L829.4 556.6 L827.4 557.6 L825.6 558.5 L829.2 559.4 L819.9 560.3 L818.4 561.2 L822.6 562.1 L822.6 563.1 L824.2 564.0 L813.2 564.9 L819.7 565.8 L825.1 566.7 L825.1 567.6 L817.8 568.6 L817.9 569.5 L822.6 570.4 L829.7 571.3 L828.8 572.2 L831.9 573.1 L842.9 574.0 L843.1 575.0 L818.1 575.9 L816.3 576.8 L812.0 577.7 L809.2 578.6 L793.1 579.5 L788.7 580.5 L799.7 581.4 L798.7 582.3 L801.3 583.2 L792.3 584.1 L803.7 585.0 L809.9 586.0 L811.1 586.9 L802.1 587.8 L806.7 588.7 L808.8 589.6 L813.5 590.5 L790.9 591.4 L796.2 592.4 L790.4 593.3 L799.0 594.2 L795.1 595.1 L805.6 596.0 L785.7 596.9 L796.5 597.9 L806.2 598.8 L791.5 599.7 L809.8 600.6 L812.1 601.5 L800.2 602.4 L798.2 603.4 L781.7 604.3 L805.1 605.2 L807.9 606.1 L815.1 607.0 L790.4 607.9 L793.4 608.8 L790.9 609.8 L811.4 610.7 L796.7 611.6 L803.0 612.5 L803.3 613.4 L810.2 614.3 L801.1 615.3 L792.9 616.2 L805.0 617.1 L803.1 618.0 L808.7 618.9 L807.5 619.8 L792.8 620.8 L785.5 621.7 L811.5 622.6 L796.8 623.5 L808.2 624.4 L799.2 625.3 L807.4 626.3 L812.3 627.2 L785.7 628.1 L798.2 629.0 L789.8 629.9 L793.0 630.8 L792.2 631.7 L804.0 632.7 L800.9 633.6 L797.8 634.5 L790.9 635.4 L806.4 636.3 L793.2 637.2 L796.2 638.2 L791.3 639.1 L798.6 640.0 L798.3 640.9 L807.9 641.8 L800.8 642.7 L789.5 643.7 L800.9 644.6 L793.9 645.5 L783.2 646.4 L792.8 647.3 L772.6 648.2 L775.1 649.1 L816.5 650.1 L786.7 651.0 L810.6 651.9 L798.5 652.8 L800.3 653.7 L816.5 654.6 L791.9 655.6 L794.2 656.5 L812.4 657.4 L805.6 658.3 L801.4 659.2 L798.1 660.1 L794.4 661.1 L790.1 662.0 L806.4 662.9 L786.6 663.8 L796.8 664.7 L820.4 665.6 L800.0 666.5 L799.5 667.5 L790.1 668.4 L802.8 669.3 L800.0 670.2 L798.4 671.1 L797.0 672.0 L811.4 673.0 L800.8 673.9 L772.6 674.8 L783.3 675.7 L812.3 676.6 L807.7 677.5 L805.3 678.5 L810.0 679.4 L800.0 680.3 L796.4 681.2 L806.3 682.1 L785.3 683.0 L798.6 684.0 L788.6 684.9 L807.4 685.8 L783.3 686.7 L796.3 687.6 L798.4 688.5 L813.4 689.4 L805.2 690.4 L818.4 691.3 L805.3 692.2 L808.7 693.1 L825.5 694.0 L812.7 694.9 L817.0 695.9 L815.6 696.8 L824.6 697.7 L817.7 698.6 L830.2 699.5 L827.7 700.4 L833.2 701.4 L820.3 702.3 L817.5 703.2 L827.2 704.1 L821.8 705.0 L822.9 705.9 L833.0 706.8 L828.8 707.8 L827.5 708.7 L824.9 709.6 L830.5 710.5 L829.1 711.4 L823.4 712.3 L843.5 713.3 L835.8 714.2 L836.0 715.1 L835.3 716.0 L831.1 716.9 L826.3 717.8 L821.0 718.8 L820.0 719.7 L814.4 720.6 L809.6 721.5 L802.7 722.4 L809.3 723.3 L799.6 724.3 L802.0 725.2 L790.5 726.1 L802.8 727.0 L794.5 727.9 L812.2 728.8 L789.5 729.7 L794.9 730.7 L813.8 731.6 L799.0 732.5 L805.2 733.4 L807.7 734.3 L804.5 735.2 L789.7 736.2 L811.8 737.1 L804.1 738.0 L807.1 738.9 L798.5 739.8 L800.5 740.7 L802.3 741.7 L802.8 742.6 L804.6 743.5 L807.5 744.4 L810.3 745.3 L801.4 746.2 L811.1 747.1 L799.8 748.1 L799.0 749.0 L781.7 749.9 L794.9 750.8 L791.2 751.7 L800.5 752.6 L800.2 753.6 L790.1 754.5 L795.7 755.4 L780.6 756.3 L794.5 757.2 L787.8 758.1 L804.7 759.1 L793.1 760.0 L802.7 760.9 L800.7 761.8 L813.1 762.7 L812.8 763.6 L814.1 764.5 L823.9 765.5 L798.0 766.4 L798.0 767.3 L804.7 768.2 L804.7 769.1 L788.1 770.0 L788.7 771.0 L813.6 771.9 L790.9 772.8 L806.3 773.7 L815.2 774.6 L809.0 775.5 L806.8 776.5 L806.5 777.4 L811.4 778.3 L809.4 779.2 L811.4 780.1 L815.9 781.0 L791.0 782.0 L809.2 782.9 L785.8 783.8 L787.0 784.7 L807.5 785.6 L805.0 786.5 L800.7 787.4 L814.6 788.4 L810.5 789.3 L801.7 790.2 L792.6 791.1 L804.5 792.0 L802.5 792.9 L782.1 793.9 L790.8 794.8 L804.3 795.7 L799.3 796.6 L799.1 797.5 L808.6 798.4 L802.1 799.4 L813.9 800.3 L806.0 801.2 L804.4 802.1 L788.5 803.0 L804.1 803.9 L796.4 804.8 L805.1 805.8 L782.7 806.7 L786.2 807.6 L808.8 808.5 L788.6 809.4 L793.4 810.3 L804.5 811.3 L812.9 812.2 L800.9 813.1 L795.7 814.0 L794.4 814.9 L810.6 815.8 L811.1 816.8 L792.6 817.7 L790.0 818.6 L807.7 819.5 L800.0 820.4 L803.8 821.3 L802.6 822.2 L796.9 823.2 L800.2 824.1 L812.6 825.0 L792.4 825.9 L799.7 826.8 L782.1 827.7 L804.6 828.7 L797.3 829.6 L794.5 830.5 L788.9 831.4 L798.9 832.3 L800.4 833.2 L788.1 834.2 L804.3 835.1 L780.2 836.0 L793.3 836.9 L799.4 837.8 L783.2 838.7 L781.5 839.7 L800.9 840.6 L801.2 841.5 L803.1 842.4 L803.3 843.3 L781.4 844.2 L801.7 845.1 L790.3 846.1 L773.0 847.0 L804.6 847.9 L806.3 848.8 L813.6 849.7 L811.2 850.6 L816.4 851.6 L816.3 852.5 L816.9 853.4 L811.7 854.3 L824.9 855.2 L815.9 856.1 L821.9 857.1 L821.5 858.0 L822.0 858.9 L823.8 859.8 L816.9 860.7 L819.7 861.6 L830.6 862.5 L819.8 863.5 L822.7 864.4 L828.1 865.3 L822.1 866.2 L816.5 867.1 L835.2 868.0 L818.5 869.0 L826.0 869.9 L826.8 870.8 L817.1 871.7 L823.3 872.6 L824.8 873.5 L825.8 874.5 L824.3 875.4 L823.1 876.3 L818.5 877.2 L819.3 878.1 L822.5 879.0 L837.0 880.0 L831.2 880.9 L828.0 881.8 L829.7 882.7 L833.2 883.6 L831.3 884.5 L835.0 885.4 L819.9 886.4 L828.1 887.3 L834.7 888.2 L826.2 889.1 L820.3 890.0 L819.9 890.9 L815.5 891.9 L813.9 892.8 L798.2 893.7 L810.3 894.6 L806.4 895.5 L805.1 896.4 L801.3 897.4 L804.8 898.3 L812.2 899.2 L797.9 900.1" stroke="#3030ff" stroke-width="1.0" fill="none" stroke-opacity="0.65" stroke-linejoin="bevel"/>
<path d="M810.5 121.6 L798.0 122.5 L808.5 123.4 L808.0 124.3 L807.3 125.3 L811.1 126.2 L813.7 127.1 L818.1 128.0 L822.8 128.9 L847.3 129.8 L858.0 130.8 L850.1 131.7 L834.7 132.6 L829.4 133.5 L824.3 134.4 L817.2 135.3 L810.7 136.3 L815.6 137.2 L812.9 138.1 L812.9 139.0 L810.6 139.9 L800.9 140.8 L801.7 141.7 L797.7 142.7 L806.0 143.6 L798.4 144.5 L792.1 145.4 L808.4 146.3 L808.6 147.2 L805.1 148.2 L787.9 149.1 L804.0 150.0 L792.7 150.9 L814.5 151.8 L802.0 152.7 L801.4 153.7 L803.3 154.6 L792.7 155.5 L794.7 156.4 L814.4 157.3 L812.1 158.2 L809.6 159.2 L800.8 160.1 L811.0 161.0 L805.0 161.9 L793.3 162.8 L815.9 163.7 L802.3 164.6 L807.2 165.6 L779.6 166.5 L799.9 167.4 L791.7 168.3 L801.1 169.2 L803.2 170.1 L819.8 171.1 L791.1 172.0 L794.6 172.9 L798.9 173.8 L799.7 174.7 L809.2 175.6 L789.6 176.6 L815.6 177.5 L796.4 178.4 L791.5 179.3 L795.7 180.2 L794.9 181.1 L801.5 182.0 L788.7 183.0 L809.7 183.9 L807.8 184.8 L803.3 185.7 L794.2 186.6 L789.7 187.5 L795.7 188.5 L790.4 189.4 L797.3 190.3 L801.0 191.2 L795.1 192.1 L797.6 193.0 L795.0 194.0 L811.9 194.9 L806.7 195.8 L789.0 196.7 L797.2 197.6 L803.0 198.5 L797.7 199.4 L784.6 200.4 L800.1 201.3 L797.9 202.2 L807.4 203.1 L807.8 204.0 L797.9 204.9 L804.0 205.9 L790.7 206.8 L799.2 207.7 L803.7 208.6 L806.2 209.5 L791.5 210.4 L808.2 211.4 L807.8 212.3 L798.9 213.2 L817.2 214.1 L798.2 215.0 L798.0 215.9 L796.7 216.9 L803.7 217.8 L799.3 218.7 L791.0 219.6 L817.3 220.5 L809.2 221.4 L819.3 222.3 L789.9 223.3 L809.2 224.2 L811.0 225.1 L786.1 226.0 L793.5 226.9 L793.3 227.8 L795.6 228.8 L803.7 229.7 L795.2 230.6 L791.9 231.5 L792.4 232.4 L791.6 233.3 L809.7 234.3 L792.9 235.2 L817.0 236.1 L805.9 237.0 L806.2 237.9 L808.5 238.8 L802.1 239.7 L794.0 240.7 L794.9 241.6 L785.1 242.5 L807.2 243.4 L800.1 244.3 L807.6 245.2 L807.6 246.2 L814.5 247.1 L787.8 248.0 L797.1 248.9 L821.8 249.8 L787.7 250.7 L815.6 251.7 L806.4 252.6 L802.1 253.5 L800.7 254.4 L799.1 255.3 L786.0 256.2 L805.8 257.2 L810.4 258.1 L788.9 259.0 L798.9 259.9 L795.0 260.8 L800.8 261.7 L789.2 262.6 L789.8 263.6 L802.6 264.5 L807.7 265.4 L797.7 266.3 L810.0 267.2 L784.3 268.1 L821.8 269.1 L804.1 270.0 L796.9 270.9 L797.8 271.8 L796.2 272.7 L812.7 273.6 L810.6 274.6 L803.9 275.5 L786.3 276.4 L792.9 277.3 L799.4 278.2 L789.0 279.1 L785.5 280.0 L799.5 281.0 L796.5 281.9 L800.6 282.8 L803.0 283.7 L800.0 284.6 L799.9 285.5 L789.4 286.5 L795.0 287.4 L810.1 288.3 L812.1 289.2 L780.8 290.1 L798.4 291.0 L806.8 292.0 L803.8 292.9 L802.9 293.8 L794.7 294.7 L803.0 295.6 L803.7 296.5 L792.8 297.4 L793.8 298.4 L789.0 299.3 L798.4 300.2 L805.2 301.1 L783.8 302.0 L806.2 302.9 L787.3 303.9 L807.3 304.8 L807.5 305.7 L774.5 306.6 L799.8 307.5 L800.0 308.4 L808.4 309.4 L806.0 310.3 L802.5 311.2 L815.2 312.1 L799.0 313.0 L788.2 313.9 L795.1 314.9 L819.1 315.8 L806.6 316.7 L784.9 317.6 L803.4 318.5 L790.8 319.4 L804.4 320.3 L795.6 321.3 L792.5 322.2 L805.5 323.1 L785.3 324.0 L798.4 324.9 L796.0 325.8 L783.9 326.8 L783.6 327.7 L804.3 328.6 L797.7 329.5 L778.2 330.4 L796.8 331.3 L784.4 332.3 L785.1 333.2 L792.6 334.1 L794.6 335.0 L807.9 335.9 L800.5 336.8 L791.7 337.7 L800.7 338.7 L791.2 339.6 L785.1 340.5 L795.0 341.4 L795.9 342.3 L804.9 343.2 L795.5 344.2 L797.5 345.1 L793.5 346.0 L790.3 346.9 L776.8 347.8 L798.1 348.7 L785.3 349.7 L788.5 350.6 L792.4 351.5 L793.7 352.4 L814.3 353.3 L803.2 354.2 L802.8 355.1 L797.4 356.1 L803.2 357.0 L786.6 357.9 L793.6 358.8 L787.2 359.7 L788.1 360.6 L799.8 361.6 L792.7 362.5 L803.0 363.4 L785.9 364.3 L782.1 365.2 L796.7 366.1 L814.7 367.1 L791.0 368.0 L809.7 368.9 L781.1 369.8 L796.1 370.7 L797.9 371.6 L800.8 372.6 L783.9 373.5 L805.7 374.4 L810.7 375.3 L804.4 376.2 L799.2 377.1 L817.2 378.0 L795.8 379.0 L800.9 379.9 L806.4 380.8 L801.1 381.7 L803.5 382.6 L802.1 383.5 L798.6 384.5 L799.8 385.4 L799.2 386.3 L808.9 387.2 L801.4 388.1 L797.4 389.0 L797.3 390.0 L800.6 390.9 L795.2 391.8 L805.7 392.7 L803.3 393.6 L806.4 394.5 L791.2 395.4 L793.2 396.4 L791.5 397.3 L783.0 398.2 L787.7 399.1 L797.9 400.0 L798.8 400.9 L787.4 401.9 L796.0 402.8 L804.2 403.7 L790.6 404.6 L807.6 405.5 L788.5 406.4 L794.4 407.4 L794.6 408.3 L790.9 409.2 L819.1 410.1 L787.7 411.0 L794.0 411.9 L808.8 412.9 L805.8 413.8 L802.9 414.7 L799.3 415.6 L796.9 416.5 L802.5 417.4 L815.7 418.3 L803.1 419.3 L813.5 420.2 L805.4 421.1 L804.0 422.0 L806.9 422.9 L810.5 423.8 L815.8 424.8 L805.1 425.7 L796.8 426.6 L793.6 427.5 L798.5 428.4 L780.7 429.3 L804.9 430.3 L798.8 431.2 L794.3 432.1 L803.7 433.0 L791.0 433.9 L787.6 434.8 L803.2 435.7 L792.0 436.7 L812.5 437.6 L796.6 438.5 L786.1 439.4 L782.2 440.3 L804.7 441.2 L801.1 442.2 L802.0 443.1 L795.5 444.0 L804.4 444.9 L791.9 445.8 L798.6 446.7 L800.0 447.7 L807.9 448.6 L804.4 449.5 L806.1 450.4 L783.5 451.3 L801.2 452.2 L789.4 453.1 L804.7 454.1 L805.2 455.0 L811.0 455.9 L792.4 456.8 L794.8 457.7 L804.5 458.6 L800.3 459.6 L799.6 460.5 L796.1 461.4 L809.3 462.3 L801.2 463.2 L785.0 464.1 L812.4 465.1 L795.1 466.0 L807.2 466.9 L798.1 467.8 L795.2 468.7 L800.4 469.6 L804.3 470.6 L798.9 471.5 L801.3 472.4 L819.1 473.3 L810.2 474.2 L801.5 475.1 L786.9 476.0 L812.5 477.0 L801.6 477.9 L799.8 478.8 L793.4 479.7 L801.5 480.6 L817.2 481.5 L808.8 482.5 L790.2 483.4 L807.9 484.3 L804.3 485.2 L789.8 486.1 L813.1 487.0 L798.5 488.0 L813.2 488.9 L779.6 489.8 L798.3 490.7 L794.8 491.6 L797.1 492.5 L808.0 493.4 L799.8 494.4 L791.6 495.3 L808.4 496.2 L786.9 497.1 L805.1 498.0 L793.6 498.9 L791.3 499.9 L808.6 500.8 L790.3 501.7 L792.3 502.6 L805.3 503.5 L805.0 504.4 L802.6 505.4 L792.9 506.3 L806.7 507.2 L793.0 508.1 L802.3 509.0 L795.0 509.9 L796.8 510.9 L794.2 511.8 L793.7 512.7 L805.4 513.6 L784.7 514.5 L785.1 515.4 L812.0 516.3 L793.3 517.3 L793.6 518.2 L794.4 519.1 L801.3 520.0 L795.3 520.9 L798.1 521.8 L799.0 522.8 L801.3 523.7 L801.2 524.6 L800.1 525.5 L806.3 526.4 L798.8 527.3 L800.0 528.3 L810.9 529.2 L797.3 530.1 L800.7 531.0 L800.9 531.9 L792.0 532.8 L804.6 533.7 L793.6 534.7 L803.3 535.6 L796.4 536.5 L803.4 537.4 L782.5 538.3 L801.5 539.2 L802.8 540.2 L796.9 541.1 L808.8 542.0 L800.5 542.9 L792.0 543.8 L801.2 544.7 L803.8 545.7 L802.8 546.6 L817.4 547.5 L813.6 548.4 L811.7 549.3 L812.5 550.2 L821.3 551.1 L820.2 552.1 L817.4 553.0 L816.6 553.9 L813.5 554.8 L826.7 555.7 L829.8 556.6 L834.3 557.6 L824.7 558.5 L827.6 559.4 L814.3 560.3 L826.7 561.2 L820.2 562.1 L819.9 563.1 L819.9 564.0 L819.8 564.9 L821.6 565.8 L826.7 566.7 L820.9 567.6 L822.6 568.6 L823.7 569.5 L833.9 570.4 L832.5 571.3 L830.3 572.2 L841.3 573.1 L849.7 574.0 L833.5 575.0 L829.8 575.9 L823.7 576.8 L805.0 577.7 L805.3 578.6 L798.9 579.5 L807.0 580.5 L787.0 581.4 L795.6 582.3 L802.0 583.2 L789.9 584.1 L817.0 585.0 L798.9 586.0 L794.1 586.9 L793.2 587.8 L784.6 588.7 L809.5 589.6 L805.8 590.5 L804.0 591.4 L790.8 592.4 L802.9 593.3 L798.8 594.2 L797.3 595.1 L795.0 596.0 L799.0 596.9 L808.1 597.9 L812.0 598.8 L797.3 599.7 L798.5 600.6 L789.3 601.5 L779.1 602.4 L808.8 603.4 L809.2 604.3 L788.8 605.2 L799.3 606.1 L797.7 607.0 L808.0 607.9 L805.6 608.8 L809.3 609.8 L804.8 610.7 L793.4 611.6 L792.7 612.5 L789.9 613.4 L796.6 614.3 L805.9 615.3 L794.3 616.2 L796.0 617.1 L806.8 618.0 L810.2 618.9 L794.2 619.8 L792.6 620.8 L800.4 621.7 L794.9 622.6 L798.5 623.5 L794.8 624.4 L784.2 625.3 L795.3 626.3 L804.8 627.2 L797.3 628.1 L792.7 629.0 L792.8 629.9 L795.5 630.8 L794.5 631.7 L791.0 632.7 L800.1 633.6 L789.5 634.5 L785.8 635.4 L806.0 636.3 L810.3 637.2 L776.4 638.2 L803.7 639.1 L793.1 640.0 L811.0 640.9 L797.3 641.8 L789.3 642.7 L805.1 643.7 L805.2 644.6 L800.4 645.5 L794.9 646.4 L810.2 647.3 L809.1 648.2 L805.7 649.1 L790.1 650.1 L814.4 651.0 L801.6 651.9 L802.1 652.8 L794.9 653.7 L809.3 654.6 L787.2 655.6 L799.9 656.5 L802.2 657.4 L789.6 658.3 L788.0 659.2 L789.2 660.1 L795.0 661.1 L789.0 662.0 L801.8 662.9 L805.6 663.8 L788.9 664.7 L782.9 665.6 L799.2 666.5 L812.1 667.5 L791.0 668.4 L800.3 669.3 L806.8 670.2 L802.4 671.1 L793.0 672.0 L777.8 673.0 L804.3 673.9 L786.8 674.8 L784.4 675.7 L784.6 676.6 L795.6 677.5 L805.1 678.5 L803.8 679.4 L797.4 680.3 L809.2 681.2 L795.5 682.1 L809.9 683.0 L809.6 684.0 L795.8 684.9 L794.7 685.8 L799.8 686.7 L799.2 687.6 L806.7 688.5 L795.5 689.4 L809.1 690.4 L805.7 691.3 L808.2 692.2 L810.8 693.1 L812.4 694.0 L821.0 694.9 L817.6 695.9 L822.0 696.8 L828.2 697.7 L827.1 698.6 L818.2 699.5 L827.8 700.4 L827.7 701.4 L831.2 702.3 L817.7 703.2 L830.2 704.1 L830.2 705.0 L828.4 705.9 L830.5 706.8 L831.5 707.8 L832.5 708.7 L826.1 709.6 L822.8 710.5 L820.7 711.4 L828.6 712.3 L839.0 713.3 L824.0 714.2 L836.7 715.1 L828.4 716.0 L833.4 716.9 L826.7 717.8 L825.3 718.8 L829.6 719.7 L814.7 720.6 L809.6 721.5 L806.6 722.4 L810.7 723.3 L794.3 724.3 L791.0 725.2 L793.1 726.1 L811.8 727.0 L784.8 727.9 L799.8 728.8 L800.2 729.7 L791.1 730.7 L797.3 731.6 L788.3 732.5 L791.2 733.4 L799.4 734.3 L804.6 735.2 L802.0 736.2 L808.7 737.1 L798.2 738.0 L811.6 738.9 L794.5 739.8 L800.5 740.7 L800.2 741.7 L787.5 742.6 L781.8 743.5 L794.3 744.4 L810.4 745.3 L800.2 746.2 L799.2 747.1 L813.3 748.1 L788.4 749.0 L790.9 749.9 L804.5 750.8 L786.2 751.7 L807.2 752.6 L797.0 753.6 L798.8 754.5 L801.6 755.4 L773.5 756.3 L790.1 757.2 L804.2 758.1 L800.7 759.1 L798.7 760.0 L815.8 760.9 L787.0 761.8 L800.4 762.7 L805.7 763.6 L803.7 764.5 L787.2 765.5 L797.1 766.4 L795.7 767.3 L786.2 768.2 L775.5 769.1 L788.9 770.0 L796.2 771.0 L787.2 771.9 L785.8 772.8 L802.8 773.7 L819.2 774.6 L792.7 775.5 L811.5 776.5 L797.3 777.4 L825.0 778.3 L819.9 779.2 L794.5 780.1 L801.8 781.0 L807.8 782.0 L794.6 782.9 L796.7 783.8 L798.3 784.7 L815.1 785.6 L801.5 786.5 L801.3 787.4 L796.6 788.4 L808.3 789.3 L800.9 790.2 L818.1 791.1 L790.4 792.0 L811.4 792.9 L801.6 793.9 L803.1 794.8 L808.0 795.7 L795.8 796.6 L804.2 797.5 L798.1 798.4 L791.8 799.4 L800.1 800.3 L783.1 801.2 L799.6 802.1 L800.2 803.0 L797.6 803.9 L786.5 804.8 L798.4 805.8 L799.9 806.7 L805.5 807.6 L784.9 808.5 L799.5 809.4 L798.7 810.3 L784.4 811.3 L790.3 812.2 L801.7 813.1 L804.1 814.0 L794.6 814.9 L794.1 815.8 L819.3 816.8 L791.7 817.7 L799.1 818.6 L793.2 819.5 L794.9 820.4 L790.4 821.3 L798.8 822.2 L802.5 823.2 L789.4 824.1 L800.5 825.0 L798.6 825.9 L787.2 826.8 L819.2 827.7 L808.4 828.7 L792.5 829.6 L805.0 830.5 L798.1 831.4 L802.2 832.3 L797.8 833.2 L809.1 834.2 L784.1 835.1 L790.2 836.0 L799.7 836.9 L807.7 837.8 L800.9 838.7 L795.2 839.7 L807.7 840.6 L816.2 841.5 L801.7 842.4 L798.3 843.3 L806.9 844.2 L788.6 845.1 L795.5 846.1 L787.7 847.0 L799.7 847.9 L807.2 848.8 L807.8 849.7 L805.1 850.6 L814.7 851.6 L821.1 852.5 L823.0 853.4 L819.5 854.3 L825.9 855.2 L819.0 856.1 L816.9 857.1 L817.7 858.0 L822.1 858.9 L809.2 859.8 L830.1 860.7 L826.0 861.6 L819.9 862.5 L821.6 863.5 L825.9 864.4 L831.5 865.3 L815.8 866.2 L828.4 867.1 L824.8 868.0 L820.4 869.0 L825.4 869.9 L818.6 870.8 L815.4 871.7 L813.9 872.6 L833.4 873.5 L820.5 874.5 L821.0 875.4 L822.2 876.3 L820.9 877.2 L817.8 878.1 L826.6 879.0 L824.2 880.0 L829.7 880.9 L824.8 881.8 L842.7 882.7 L835.9 883.6 L837.7 884.5 L828.2 885.4 L826.8 886.4 L820.0 887.3 L832.1 888.2 L824.8 889.1 L814.9 890.0 L818.2 890.9 L815.9 891.9 L814.3 892.8 L816.2 893.7 L811.9 894.6 L804.1 895.5 L790.0 896.4 L791.3 897.4 L803.4 898.3 L794.3 899.2 L794.8 900.1" stroke="#3030ff" stroke-width="1.0" fill="none" stroke-opacity="0.65" stroke-linejoin="bevel"/>
<path d="M1203.2 120.9 L1208.4 121.8 L1214.9 122.7 L1212.5 123.6 L1212.8 124.6 L1212.9 125.5 L1232.1 126.4 L1237.6 127.3 L1244.9 128.2 L1246.2 129.1 L1232.7 130.1 L1236.6 131.0 L1225.1 131.9 L1224.6 132.8 L1227.0 133.7 L1214.8 134.6 L1211.5 135.6 L1211.9 136.5 L1202.7 137.4 L1203.0 138.3 L1196.2 139.2 L1196.1 140.1 L1191.9 141.1 L1202.0 142.0 L1202.1 142.9 L1191.5 143.8 L1197.9 144.7 L1197.7 145.6 L1199.8 146.5 L1205.4 147.5 L1190.1 148.4 L1202.2 149.3 L1191.9 150.2 L1188.9 151.1 L1195.8 152.0 L1185.8 153.0 L1197.8 153.9 L1200.6 154.8 L1200.0 155.7 L1206.7 156.6 L1189.7 157.5 L1203.6 158.5 L1204.1 159.4 L1199.8 160.3 L1201.9 161.2 L1206.3 162.1 L1189.3 163.0 L1204.0 164.0 L1194.3 164.9 L1194.6 165.8 L1194.8 166.7 L1187.2 167.6 L1194.8 168.5 L1207.9 169.4 L1184.5 170.4 L1204.5 171.3 L1200.9 172.2 L1207.4 173.1 L1186.4 174.0 L1186.5 174.9 L1182.7 175.9 L1201.7 176.8 L1196.0 177.7 L1185.4 178.6 L1187.0 179.5 L1187.0 180.4 L1194.6 181.4 L1206.3 182.3 L1203.2 183.2 L1201.8 184.1 L1172.6 185.0 L1173.3 185.9 L1180.8 186.9 L1205.1 187.8 L1197.5 188.7 L1196.3 189.6 L1196.5 190.5 L1199.8 191.4 L1195.0 192.3 L1180.0 193.3 L1186.6 194.2 L1194.7 195.1 L1194.0 196.0 L1199.6 196.9 L1187.3 197.8 L1196.2 198.8 L1197.1 199.7 L1199.9 200.6 L1205.7 201.5 L1206.3 202.4 L1191.3 203.3 L1191.5 204.3 L1192.0 205.2 L1200.6 206.1 L1204.6 207.0 L1196.4 207.9 L1193.2 208.8 L1190.3 209.8 L1193.7 210.7 L1199.2 211.6 L1202.8 212.5 L1191.2 213.4 L1198.6 214.3 L1186.7 215.2 L1198.2 216.2 L1193.7 217.1 L1201.1 218.0 L1205.7 218.9 L1193.8 219.8 L1178.8 220.7 L1186.4 221.7 L1179.0 222.6 L1193.0 223.5 L1198.1 224.4 L1196.3 225.3 L1197.9 226.2 L1191.1 227.2 L1196.6 228.1 L1199.4 229.0 L1198.4 229.9 L1204.9 230.8 L1190.8 231.7 L1204.9 232.7 L1195.1 233.6 L1202.3 234.5 L1171.3 235.4 L1192.3 236.3 L1205.1 237.2 L1178.9 238.1 L1200.5 239.1 L1190.6 240.0 L1200.5 240.9 L1206.1 241.8 L1185.8 242.7 L1198.6 243.6 L1190.6 244.6 L1202.7 245.5 L1189.2 246.4 L1189.8 247.3 L1194.0 248.2 L1185.2 249.1 L1185.7 250.1 L1192.0 251.0 L1201.2 251.9 L1197.5 252.8 L1194.8 253.7 L1189.9 254.6 L1199.3 255.6 L1188.5 256.5 L1195.4 257.4 L1197.2 258.3 L1196.4 259.2 L1193.0 260.1 L1190.5 261.0 L1189.4 262.0 L1198.9 262.9 L1195.0 263.8 L1191.8 264.7 L1191.2 265.6 L1200.7 266.5 L1190.1 267.5 L1192.3 268.4 L1185.7 269.3 L1193.6 270.2 L1206.4 271.1 L1190.9 272.0 L1191.3 273.0 L1191.3 273.9 L1199.4 274.8 L1199.3 275.7 L1198.5 276.6 L1202.6 277.5 L1190.7 278.5 L1206.6 279.4 L1194.2 280.3 L1193.1 281.2 L1207.5 282.1 L1188.9 283.0 L1188.1 283.9 L1187.6 284.9 L1195.4 285.8 L1177.3 286.7 L1195.5 287.6 L1188.2 288.5 L1203.7 289.4 L1181.6 290.4 L1192.6 291.3 L1187.2 292.2 L1201.8 293.1 L1191.3 294.0 L1200.5 294.9 L1193.0 295.9 L1181.7 296.8 L1191.1 297.7 L1201.1 298.6 L1197.5 299.5 L1183.8 300.4 L1196.4 301.4 L1195.4 302.3 L1195.9 303.2 L1193.0 304.1 L1191.6 305.0 L1191.2 305.9 L1189.3 306.8 L1200.1 307.8 L1186.7 308.7 L1188.8 309.6 L1199.4 310.5 L1200.2 311.4 L1192.2 312.3 L1196.8 313.3 L1197.4 314.2 L1205.6 315.1 L1197.5 316.0 L1201.7 316.9 L1188.5 317.8 L1202.9 318.8 L1199.8 319.7 L1192.0 320.6 L1172.7 321.5 L1203.4 322.4 L1179.5 323.3 L1191.8 324.3 L1202.4 325.2 L1193.2 326.1 L1203.1 327.0 L1182.7 327.9 L1190.3 328.8 L1197.9 329.7 L1207.8 330.7 L1201.7 331.6 L1205.7 332.5 L1188.8 333.4 L1184.7 334.3 L1196.7 335.2 L1200.6 336.2 L1184.0 337.1 L1180.4 338.0 L1199.2 338.9 L1203.6 339.8 L1196.9 340.7 L1196.0 341.7 L1206.8 342.6 L1185.5 343.5 L1197.2 344.4 L1187.5 345.3 L1205.0 346.2 L1196.9 347.2 L1200.8 348.1 L1191.8 349.0 L1201.6 349.9 L1202.1 350.8 L1197.9 351.7 L1182.9 352.6 L1196.7 353.6 L1191.8 354.5 L1194.0 355.4 L1196.2 356.3 L1195.8 357.2 L1192.7 358.1 L1195.3 359.1 L1191.1 360.0 L1172.8 360.9 L1194.8 361.8 L1206.2 362.7 L1208.0 363.6 L1207.5 364.6 L1185.9 365.5 L1182.5 366.4 L1198.9 367.3 L1195.2 368.2 L1188.4 369.1 L1194.5 370.1 L1193.2 371.0 L1189.1 371.9 L1180.2 372.8 L1193.6 373.7 L1188.5 374.6 L1194.9 375.5 L1194.5 376.5 L1199.3 377.4 L1196.2 378.3 L1200.0 379.2 L1189.4 380.1 L1185.0 381.0 L1207.1 382.0 L1207.0 382.9 L1201.0 383.8 L1201.8 384.7 L1199.8 385.6 L1200.7 386.5 L1195.6 387.5 L1207.0 388.4 L1177.6 389.3 L1188.2 390.2 L1188.2 391.1 L1196.8 392.0 L1171.7 393.0 L1203.0 393.9 L1193.9 394.8 L1189.4 395.7 L1198.9 396.6 L1185.4 397.5 L1202.3 398.4 L1199.6 399.4 L1193.6 400.3 L1190.6 401.2 L1199.6 402.1 L1189.6 403.0 L1201.1 403.9 L1197.0 404.9 L1202.0 405.8 L1195.1 406.7 L1200.9 407.6 L1202.9 408.5 L1201.3 409.4 L1188.3 410.4 L1204.1 411.3 L1193.4 412.2 L1202.2 413.1 L1195.3 414.0 L1183.6 414.9 L1202.0 415.9 L1207.7 416.8 L1185.9 417.7 L1184.3 418.6 L1194.2 419.5 L1197.5 420.4 L1195.1 421.3 L1194.7 422.3 L1181.8 423.2 L1200.5 424.1 L1207.0 425.0 L1200.5 425.9 L1189.3 426.8 L1181.9 427.8 L1207.4 428.7 L1198.9 429.6 L1194.4 430.5 L1185.2 431.4 L1204.3 432.3 L1188.2 433.3 L1205.1 434.2 L1207.8 435.1 L1193.6 436.0 L1177.9 436.9 L1207.9 437.8 L1192.9 438.8 L1196.9 439.7 L1189.1 440.6 L1195.1 441.5 L1198.0 442.4 L1196.3 443.3 L1197.5 444.2 L1189.7 445.2 L1200.1 446.1 L1191.8 447.0 L1193.3 447.9 L1186.3 448.8 L1183.5 449.7 L1189.3 450.7 L1194.9 451.6 L1207.9 452.5 L1204.7 453.4 L1206.1 454.3 L1191.8 455.2 L1206.3 456.2 L1191.9 457.1 L1185.6 458.0 L1198.3 458.9 L1193.0 459.8 L1193.5 460.7 L1200.4 461.7 L1204.0 462.6 L1194.3 463.5 L1205.7 464.4 L1184.2 465.3 L1195.9 466.2 L1195.2 467.1 L1204.2 468.1 L1199.9 469.0 L1203.1 469.9 L1199.1 470.8 L1201.8 471.7 L1183.8 472.6 L1198.7 473.6 L1184.3 474.5 L1203.9 475.4 L1192.8 476.3 L1201.1 477.2 L1198.9 478.1 L1186.6 479.1 L1191.9 480.0 L1197.7 480.9 L1187.7 481.8 L1193.5 482.7 L1201.8 483.6 L1203.4 484.6 L1181.3 485.5 L1192.2 486.4 L1199.4 487.3 L1192.0 488.2 L1191.5 489.1 L1197.2 490.0 L1203.2 491.0 L1196.8 491.9 L1194.9 492.8 L1190.3 493.7 L1187.9 494.6 L1191.8 495.5 L1200.2 496.5 L1190.2 497.4 L1185.7 498.3 L1197.9 499.2 L1202.6 500.1 L1191.0 501.0 L1203.5 502.0 L1204.1 502.9 L1190.7 503.8 L1189.9 504.7 L1183.7 505.6 L1203.3 506.5 L1195.5 507.5 L1200.5 508.4 L1187.6 509.3 L1191.3 510.2 L1195.1 511.1 L1206.9 512.0 L1187.5 512.9 L1207.2 513.9 L1187.5 514.8 L1199.9 515.7 L1177.5 516.6 L1203.9 517.5 L1200.5 518.4 L1206.2 519.4 L1192.1 520.3 L1201.8 521.2 L1192.7 522.1 L1198.0 523.0 L1194.5 523.9 L1200.1 524.9 L1182.6 525.8 L1182.7 526.7 L1195.7 527.6 L1194.8 528.5 L1205.2 529.4 L1189.8 530.4 L1202.8 531.3 L1201.0 532.2 L1200.0 533.1 L1204.6 534.0 L1203.7 534.9 L1186.8 535.8 L1203.3 536.8 L1205.0 537.7 L1184.7 538.6 L1187.4 539.5 L1198.9 540.4 L1208.0 541.3 L1191.9 542.3 L1184.1 543.2 L1190.5 544.1 L1182.0 545.0 L1198.7 545.9 L1203.9 546.8 L1197.4 547.8 L1194.1 548.7 L1195.8 549.6 L1197.6 550.5 L1196.4 551.4 L1204.4 552.3 L1216.4 553.3 L1210.6 554.2 L1221.0 555.1 L1215.0 556.0 L1213.6 556.9 L1210.3 557.8 L1214.7 558.7 L1219.9 559.7 L1207.3 560.6 L1219.1 561.5 L1223.3 562.4 L1222.6 563.3 L1211.2 564.2 L1213.8 565.2 L1218.6 566.1 L1212.0 567.0 L1221.3 567.9 L1221.0 568.8 L1229.3 569.7 L1230.4 570.7 L1233.6 571.6 L1235.6 572.5 L1240.3 573.4 L1235.2 574.3 L1222.3 575.2 L1227.5 576.2 L1222.1 577.1 L1210.7 578.0 L1210.2 578.9 L1211.4 579.8 L1201.1 580.7 L1202.1 581.6 L1190.8 582.6 L1194.9 583.5 L1199.7 584.4 L1194.1 585.3 L1202.8 586.2 L1194.2 587.1 L1205.4 588.1 L1201.2 589.0 L1200.4 589.9 L1196.6 590.8 L1192.8 591.7 L1185.0 592.6 L1182.0 593.6 L1192.6 594.5 L1205.4 595.4 L1200.6 596.3 L1189.9 597.2 L1206.7 598.1 L1198.5 599.1 L1201.7 600.0 L1198.6 600.9 L1189.5 601.8 L1189.0 602.7 L1183.6 603.6 L1189.9 604.5 L1201.3 605.5 L1204.5 606.4 L1193.1 607.3 L1177.3 608.2 L1200.8 609.1 L1189.6 610.0 L1192.3 611.0 L1193.5 611.9 L1182.7 612.8 L1182.5 613.7 L1181.4 614.6 L1194.5 615.5 L1196.9 616.5 L1191.0 617.4 L1187.9 618.3 L1199.4 619.2 L1180.2 620.1 L1185.9 621.0 L1198.1 622.0 L1205.3 622.9 L1196.8 623.8 L1189.7 624.7 L1205.1 625.6 L1196.5 626.5 L1181.1 627.4 L1201.3 628.4 L1202.1 629.3 L1179.6 630.2 L1204.2 631.1 L1191.9 632.0 L1185.1 632.9 L1201.8 633.9 L1202.3 634.8 L1193.7 635.7 L1201.4 636.6 L1190.5 637.5 L1198.0 638.4 L1203.0 639.4 L1188.3 640.3 L1193.1 641.2 L1188.9 642.1 L1198.9 643.0 L1206.6 643.9 L1195.8 644.9 L1194.3 645.8 L1180.5 646.7 L1187.2 647.6 L1206.5 648.5 L1197.4 649.4 L1181.4 650.3 L1203.9 651.3 L1201.7 652.2 L1189.9 653.1 L1198.9 654.0 L1197.8 654.9 L1192.6 655.8 L1200.3 656.8 L1179.2 657.7 L1205.1 658.6 L1189.2 659.5 L1196.0 660.4 L1198.2 661.3 L1203.2 662.3 L1181.7 663.2 L1184.7 664.1 L1204.5 665.0 L1175.9 665.9 L1186.8 666.8 L1198.1 667.8 L1192.2 668.7 L1193.1 669.6 L1205.1 670.5 L1201.9 671.4 L1193.6 672.3 L1205.5 673.2 L1205.2 674.2 L1200.0 675.1 L1178.1 676.0 L1205.0 676.9 L1204.3 677.8 L1199.6 678.7 L1200.3 679.7 L1201.4 680.6 L1185.8 681.5 L1184.9 682.4 L1205.6 683.3 L1196.8 684.2 L1205.5 685.2 L1208.0 686.1 L1189.2 687.0 L1202.1 687.9 L1182.6 688.8 L1190.4 689.7 L1189.8 690.7 L1188.9 691.6 L1188.7 692.5 L1188.9 693.4 L1185.1 694.3 L1175.7 695.2 L1200.8 696.1 L1201.5 697.1 L1200.0 698.0 L1206.4 698.9 L1209.1 699.8 L1209.8 700.7 L1217.9 701.6 L1215.7 702.6 L1219.0 703.5 L1221.3 704.4 L1222.6 705.3 L1212.8 706.2 L1221.6 707.1 L1222.8 708.1 L1232.3 709.0 L1226.1 709.9 L1234.7 710.8 L1241.9 711.7 L1230.3 712.6 L1224.2 713.6 L1224.7 714.5 L1222.7 715.4 L1221.8 716.3 L1218.6 717.2 L1216.6 718.1 L1207.3 719.0 L1201.0 720.0 L1200.0 720.9 L1202.4 721.8 L1202.3 722.7 L1196.2 723.6 L1207.7 724.5 L1203.0 725.5 L1199.2 726.4 L1197.2 727.3 L1188.5 728.2 L1196.5 729.1 L1203.0 730.0 L1172.8 731.0 L1201.8 731.9 L1205.1 732.8 L1186.5 733.7 L1178.2 734.6 L1186.9 735.5 L1192.5 736.5 L1170.6 737.4 L1201.1 738.3 L1188.9 739.2 L1198.3 740.1 L1200.0 741.0 L1206.1 741.9 L1191.3 742.9 L1197.6 743.8 L1199.2 744.7 L1206.1 745.6 L1186.0 746.5 L1201.3 747.4 L1197.0 748.4 L1192.0 749.3 L1200.0 750.2 L1187.0 751.1 L1191.9 752.0 L1193.9 752.9 L1202.8 753.9 L1194.7 754.8 L1195.6 755.7 L1200.1 756.6 L1194.4 757.5 L1195.4 758.4 L1201.8 759.4 L1190.8 760.3 L1194.1 761.2 L1202.4 762.1 L1205.4 763.0 L1197.5 763.9 L1200.0 764.8 L1191.7 765.8 L1195.3 766.7 L1190.0 767.6 L1193.5 768.5 L1195.1 769.4 L1195.5 770.3 L1179.6 771.3 L1202.9 772.2 L1202.9 773.1 L1183.1 774.0 L1196.9 774.9 L1200.9 775.8 L1193.5 776.8 L1199.1 777.7 L1201.9 778.6 L1181.4 779.5 L1195.1 780.4 L1201.3 781.3 L1187.3 782.3 L1184.3 783.2 L1184.1 784.1 L1190.3 785.0 L1193.9 785.9 L1192.4 786.8 L1193.1 787.7 L1197.0 788.7 L1186.5 789.6 L1200.0 790.5 L1191.5 791.4 L1201.2 792.3 L1189.2 793.2 L1203.6 794.2 L1200.6 795.1 L1195.6 796.0 L1197.8 796.9 L1180.4 797.8 L1186.5 798.7 L1202.6 799.7 L1184.7 800.6 L1200.8 801.5 L1190.2 802.4 L1189.4 803.3 L1190.7 804.2 L1200.6 805.2 L1200.8 806.1 L1201.8 807.0 L1197.6 807.9 L1189.6 808.8 L1191.4 809.7 L1204.1 810.6 L1206.6 811.6 L1205.4 812.5 L1197.7 813.4 L1201.9 814.3 L1207.6 815.2 L1184.0 816.1 L1206.8 817.1 L1202.1 818.0 L1185.3 818.9 L1188.8 819.8 L1193.5 820.7 L1207.3 821.6 L1178.4 822.6 L1190.0 823.5 L1197.0 824.4 L1199.1 825.3 L1203.1 826.2 L1183.4 827.1 L1195.1 828.1 L1201.2 829.0 L1200.1 829.9 L1206.5 830.8 L1183.3 831.7 L1194.9 832.6 L1192.6 833.5 L1179.1 834.5 L1188.5 835.4 L1190.7 836.3 L1183.6 837.2 L1200.8 838.1 L1199.9 839.0 L1182.4 840.0 L1203.4 840.9 L1207.5 841.8 L1199.4 842.7 L1189.9 843.6 L1201.4 844.5 L1197.3 845.5 L1202.9 846.4 L1190.8 847.3 L1192.7 848.2 L1206.3 849.1 L1193.1 850.0 L1195.0 851.0 L1196.4 851.9 L1203.5 852.8 L1200.0 853.7 L1211.1 854.6 L1212.0 855.5 L1212.9 856.4 L1216.5 857.4 L1222.5 858.3 L1219.6 859.2 L1212.2 860.1 L1214.5 861.0 L1219.2 861.9 L1217.2 862.9 L1217.4 863.8 L1219.0 864.7 L1227.3 865.6 L1213.8 866.5 L1218.9 867.4 L1221.2 868.4 L1223.6 869.3 L1224.8 870.2 L1223.4 871.1 L1221.2 872.0 L1228.2 872.9 L1226.9 873.9 L1234.0 874.8 L1228.5 875.7 L1232.8 876.6 L1240.1 877.5 L1240.9 878.4 L1238.4 879.3 L1236.3 880.3 L1237.3 881.2 L1239.5 882.1 L1228.8 883.0 L1227.3 883.9 L1227.2 884.8 L1228.4 885.8 L1219.6 886.7 L1217.9 887.6 L1217.9 888.5 L1221.6 889.4 L1222.5 890.3 L1219.8 891.3 L1215.4 892.2 L1218.1 893.1 L1217.4 894.0 L1212.0 894.9 L1203.4 895.8 L1200.8 896.8 L1195.9 897.7 L1192.8 898.6 L1186.8 899.5" stroke="#a850e4" stroke-width="1.0" fill="none" stroke-opacity="0.45" stroke-linejoin="bevel"/>
<path d="M1203.1 120.9 L1210.0 121.8 L1218.6 122.7 L1208.0 123.6 L1221.1 124.6 L1217.6 125.5 L1234.1 126.4 L1237.6 127.3 L1247.7 128.2 L1253.0 129.1 L1241.5 130.1 L1236.7 131.0 L1228.8 131.9 L1231.4 132.8 L1222.4 133.7 L1209.7 134.6 L1214.0 135.6 L1209.2 136.5 L1203.9 137.4 L1208.4 138.3 L1205.9 139.2 L1193.9 140.1 L1204.7 141.1 L1195.9 142.0 L1194.7 142.9 L1190.9 143.8 L1198.6 144.7 L1205.4 145.6 L1189.4 146.5 L1201.2 147.5 L1184.4 148.4 L1189.5 149.3 L1200.7 150.2 L1200.3 151.1 L1184.5 152.0 L1203.6 153.0 L1206.9 153.9 L1202.9 154.8 L1191.8 155.7 L1196.9 156.6 L1195.1 157.5 L1198.8 158.5 L1187.9 159.4 L1194.7 160.3 L1192.4 161.2 L1205.0 162.1 L1206.5 163.0 L1193.6 164.0 L1195.2 164.9 L1188.8 165.8 L1195.5 166.7 L1188.7 167.6 L1205.9 168.5 L1191.5 169.4 L1201.8 170.4 L1198.2 171.3 L1202.2 172.2 L1188.2 173.1 L1186.8 174.0 L1171.1 174.9 L1203.5 175.9 L1195.2 176.8 L1201.2 177.7 L1203.0 178.6 L1194.6 179.5 L1202.1 180.4 L1202.9 181.4 L1187.6 182.3 L1188.6 183.2 L1200.8 184.1 L1200.8 185.0 L1202.2 185.9 L1206.3 186.9 L1194.3 187.8 L1202.5 188.7 L1194.0 189.6 L1193.0 190.5 L1193.2 191.4 L1188.1 192.3 L1187.1 193.3 L1197.4 194.2 L1186.9 195.1 L1186.5 196.0 L1193.9 196.9 L1188.5 197.8 L1207.5 198.8 L1201.7 199.7 L1188.4 200.6 L1193.8 201.5 L1195.9 202.4 L1203.0 203.3 L1187.8 204.3 L1182.0 205.2 L1189.5 206.1 L1200.2 207.0 L1203.4 207.9 L1207.7 208.8 L1190.2 209.8 L1184.3 210.7 L1193.6 211.6 L1194.4 212.5 L1199.4 213.4 L1196.8 214.3 L1201.1 215.2 L1187.1 216.2 L1207.8 217.1 L1188.3 218.0 L1195.4 218.9 L1203.7 219.8 L1202.2 220.7 L1206.3 221.7 L1188.0 222.6 L1196.2 223.5 L1198.6 224.4 L1186.2 225.3 L1206.4 226.2 L1191.4 227.2 L1194.1 228.1 L1204.4 229.0 L1199.5 229.9 L1187.9 230.8 L1207.0 231.7 L1187.3 232.7 L1196.6 233.6 L1205.4 234.5 L1205.3 235.4 L1203.3 236.3 L1207.5 237.2 L1181.9 238.1 L1183.1 239.1 L1187.8 240.0 L1203.7 240.9 L1189.0 241.8 L1189.3 242.7 L1195.3 243.6 L1202.6 244.6 L1190.0 245.5 L1178.2 246.4 L1205.1 247.3 L1189.1 248.2 L1201.9 249.1 L1198.9 250.1 L1206.4 251.0 L1196.8 251.9 L1207.6 252.8 L1203.2 253.7 L1197.1 254.6 L1197.0 255.6 L1203.6 256.5 L1193.2 257.4 L1206.4 258.3 L1201.8 259.2 L1185.0 260.1 L1188.1 261.0 L1193.5 262.0 L1206.2 262.9 L1191.2 263.8 L1198.4 264.7 L1195.6 265.6 L1184.2 266.5 L1179.9 267.5 L1193.4 268.4 L1196.1 269.3 L1208.0 270.2 L1188.3 271.1 L1204.6 272.0 L1191.1 273.0 L1189.9 273.9 L1193.8 274.8 L1192.9 275.7 L1195.8 276.6 L1178.5 277.5 L1202.3 278.5 L1193.5 279.4 L1200.0 280.3 L1187.2 281.2 L1190.4 282.1 L1196.2 283.0 L1202.6 283.9 L1185.0 284.9 L1192.8 285.8 L1189.3 286.7 L1194.9 287.6 L1200.3 288.5 L1194.3 289.4 L1195.4 290.4 L1201.5 291.3 L1192.8 292.2 L1194.7 293.1 L1189.5 294.0 L1193.2 294.9 L1193.5 295.9 L1188.4 296.8 L1198.4 297.7 L1200.5 298.6 L1174.9 299.5 L1195.8 300.4 L1182.3 301.4 L1200.2 302.3 L1196.7 303.2 L1207.5 304.1 L1196.0 305.0 L1189.9 305.9 L1196.0 306.8 L1190.5 307.8 L1205.7 308.7 L1194.6 309.6 L1204.6 310.5 L1192.4 311.4 L1204.5 312.3 L1203.7 313.3 L1194.4 314.2 L1189.8 315.1 L1192.2 316.0 L1199.3 316.9 L1184.2 317.8 L1200.8 318.8 L1188.5 319.7 L1189.6 320.6 L1201.0 321.5 L1188.8 322.4 L1198.1 323.3 L1169.8 324.3 L1205.6 325.2 L1204.3 326.1 L1187.2 327.0 L1188.6 327.9 L1175.2 328.8 L1206.0 329.7 L1191.7 330.7 L1193.5 331.6 L1186.7 332.5 L1200.8 333.4 L1196.1 334.3 L1187.4 335.2 L1202.0 336.2 L1183.0 337.1 L1196.1 338.0 L1188.5 338.9 L1191.6 339.8 L1190.2 340.7 L1179.5 341.7 L1189.7 342.6 L1185.5 343.5 L1196.3 344.4 L1194.2 345.3 L1201.3 346.2 L1192.4 347.2 L1203.4 348.1 L1204.1 349.0 L1190.3 349.9 L1195.3 350.8 L1197.2 351.7 L1195.0 352.6 L1195.6 353.6 L1204.4 354.5 L1195.3 355.4 L1184.2 356.3 L1207.1 357.2 L1189.8 358.1 L1185.3 359.1 L1188.8 360.0 L1204.1 360.9 L1191.5 361.8 L1197.9 362.7 L1205.2 363.6 L1196.1 364.6 L1198.0 365.5 L1186.7 366.4 L1202.2 367.3 L1204.1 368.2 L1192.9 369.1 L1197.9 370.1 L1181.3 371.0 L1189.0 371.9 L1196.9 372.8 L1184.9 373.7 L1195.5 374.6 L1186.9 375.5 L1200.9 376.5 L1206.5 377.4 L1191.0 378.3 L1190.2 379.2 L1197.6 380.1 L1195.0 381.0 L1193.8 382.0 L1198.4 382.9 L1182.8 383.8 L1190.1 384.7 L1199.6 385.6 L1204.1 386.5 L1191.1 387.5 L1190.5 388.4 L1205.7 389.3 L1190.2 390.2 L1204.8 391.1 L1201.2 392.0 L1196.8 393.0 L1202.3 393.9 L1186.1 394.8 L1198.3 395.7 L1195.7 396.6 L1199.9 397.5 L1195.0 398.4 L1187.1 399.4 L1190.8 400.3 L1199.2 401.2 L1194.7 402.1 L1197.7 403.0 L1190.5 403.9 L1195.6 404.9 L1198.8 405.8 L1197.9 406.7 L1194.4 407.6 L1198.0 408.5 L1202.2 409.4 L1205.8 410.4 L1188.2 411.3 L1198.8 412.2 L1188.4 413.1 L1181.3 414.0 L1203.2 414.9 L1194.7 415.9 L1201.3 416.8 L1202.8 417.7 L1200.9 418.6 L1188.7 419.5 L1204.8 420.4 L1196.3 421.3 L1203.2 422.3 L1195.1 423.2 L1192.8 424.1 L1191.7 425.0 L1190.5 425.9 L1196.7 426.8 L1200.3 427.8 L1205.4 428.7 L1197.1 429.6 L1202.8 430.5 L1191.0 431.4 L1183.8 432.3 L1185.8 433.3 L1200.2 434.2 L1202.7 435.1 L1183.5 436.0 L1187.4 436.9 L1186.2 437.8 L1193.7 438.8 L1188.9 439.7 L1204.2 440.6 L1198.9 441.5 L1205.4 442.4 L1200.6 443.3 L1198.8 444.2 L1191.8 445.2 L1205.3 446.1 L1188.3 447.0 L1195.4 447.9 L1193.7 448.8 L1188.8 449.7 L1204.0 450.7 L1180.0 451.6 L1199.6 452.5 L1197.4 453.4 L1194.2 454.3 L1194.7 455.2 L1191.3 456.2 L1182.8 457.1 L1191.1 458.0 L1199.6 458.9 L1194.2 459.8 L1196.5 460.7 L1188.7 461.7 L1193.8 462.6 L1201.6 463.5 L1178.6 464.4 L1197.8 465.3 L1199.8 466.2 L1194.5 467.1 L1190.3 468.1 L1189.4 469.0 L1189.3 469.9 L1184.4 470.8 L1178.2 471.7 L1202.3 472.6 L1196.0 473.6 L1196.6 474.5 L1186.6 475.4 L1173.7 476.3 L1201.4 477.2 L1196.9 478.1 L1204.7 479.1 L1192.2 480.0 L1188.3 480.9 L1193.0 481.8 L1190.9 482.7 L1205.6 483.6 L1192.9 484.6 L1187.1 485.5 L1201.3 486.4 L1181.6 487.3 L1199.3 488.2 L1190.5 489.1 L1204.9 490.0 L1190.2 491.0 L1198.5 491.9 L1195.3 492.8 L1194.3 493.7 L1196.5 494.6 L1186.1 495.5 L1187.5 496.5 L1196.1 497.4 L1190.0 498.3 L1191.7 499.2 L1205.2 500.1 L1189.7 501.0 L1198.5 502.0 L1203.1 502.9 L1193.4 503.8 L1190.9 504.7 L1184.0 505.6 L1191.4 506.5 L1191.7 507.5 L1195.7 508.4 L1199.0 509.3 L1186.3 510.2 L1189.8 511.1 L1195.1 512.0 L1197.2 512.9 L1206.2 513.9 L1183.6 514.8 L1191.0 515.7 L1193.7 516.6 L1193.8 517.5 L1190.8 518.4 L1200.7 519.4 L1203.6 520.3 L1178.5 521.2 L1202.6 522.1 L1186.5 523.0 L1192.8 523.9 L1196.5 524.9 L1202.5 525.8 L1207.9 526.7 L1204.5 527.6 L1185.8 528.5 L1171.2 529.4 L1204.0 530.4 L1184.2 531.3 L1206.2 532.2 L1197.2 533.1 L1194.1 534.0 L1204.4 534.9 L1188.8 535.8 L1192.3 536.8 L1174.1 537.7 L1200.6 538.6 L1189.0 539.5 L1195.1 540.4 L1200.0 541.3 L1188.9 542.3 L1205.7 543.2 L1204.3 544.1 L1193.8 545.0 L1200.3 545.9 L1184.3 546.8 L1200.6 547.8 L1191.3 548.7 L1194.9 549.6 L1202.7 550.5 L1208.5 551.4 L1195.8 552.3 L1206.4 553.3 L1206.6 554.2 L1206.7 555.1 L1212.2 556.0 L1219.8 556.9 L1221.2 557.8 L1224.9 558.7 L1214.6 559.7 L1221.0 560.6 L1225.6 561.5 L1222.3 562.4 L1223.6 563.3 L1222.8 564.2 L1222.6 565.2 L1213.5 566.1 L1214.6 567.0 L1217.2 567.9 L1219.9 568.8 L1224.0 569.7 L1230.8 570.7 L1240.4 571.6 L1238.5 572.5 L1238.6 573.4 L1235.7 574.3 L1222.3 575.2 L1226.1 576.2 L1224.5 577.1 L1215.6 578.0 L1217.0 578.9 L1203.0 579.8 L1213.0 580.7 L1196.3 581.6 L1193.1 582.6 L1199.1 583.5 L1196.4 584.4 L1198.2 585.3 L1191.0 586.2 L1193.5 587.1 L1197.9 588.1 L1204.3 589.0 L1183.7 589.9 L1192.6 590.8 L1187.3 591.7 L1177.0 592.6 L1193.0 593.6 L1191.4 594.5 L1186.4 595.4 L1186.7 596.3 L1188.0 597.2 L1187.2 598.1 L1182.7 599.1 L1180.7 600.0 L1197.5 600.9 L1191.7 601.8 L1198.7 602.7 L1186.5 603.6 L1202.1 604.5 L1191.9 605.5 L1200.4 606.4 L1197.7 607.3 L1201.6 608.2 L1192.6 609.1 L1203.4 610.0 L1192.5 611.0 L1192.8 611.9 L1202.2 612.8 L1192.2 613.7 L1188.1 614.6 L1205.2 615.5 L1193.2 616.5 L1188.1 617.4 L1205.4 618.3 L1194.5 619.2 L1194.4 620.1 L1197.7 621.0 L1203.3 622.0 L1204.5 622.9 L1199.2 623.8 L1194.3 624.7 L1188.3 625.6 L1188.2 626.5 L1201.3 627.4 L1200.3 628.4 L1197.1 629.3 L1204.2 630.2 L1195.3 631.1 L1205.8 632.0 L1198.6 632.9 L1184.8 633.9 L1202.4 634.8 L1186.2 635.7 L1204.5 636.6 L1196.1 637.5 L1196.4 638.4 L1192.3 639.4 L1200.4 640.3 L1192.3 641.2 L1204.9 642.1 L1200.0 643.0 L1193.7 643.9 L1195.6 644.9 L1187.9 645.8 L1190.1 646.7 L1185.2 647.6 L1207.4 648.5 L1204.7 649.4 L1196.5 650.3 L1206.1 651.3 L1191.4 652.2 L1198.3 653.1 L1200.3 654.0 L1203.2 654.9 L1203.6 655.8 L1191.2 656.8 L1195.8 657.7 L1197.8 658.6 L1202.0 659.5 L1193.0 660.4 L1188.3 661.3 L1204.5 662.3 L1183.5 663.2 L1201.7 664.1 L1193.7 665.0 L1205.9 665.9 L1200.1 666.8 L1192.6 667.8 L1200.3 668.7 L1188.7 669.6 L1203.9 670.5 L1193.5 671.4 L1184.6 672.3 L1193.2 673.2 L1200.0 674.2 L1190.7 675.1 L1199.6 676.0 L1190.1 676.9 L1204.7 677.8 L1188.9 678.7 L1190.6 679.7 L1200.6 680.6 L1200.0 681.5 L1194.2 682.4 L1188.4 683.3 L1191.6 684.2 L1190.7 685.2 L1175.5 686.1 L1203.1 687.0 L1182.3 687.9 L1205.3 688.8 L1205.2 689.7 L1192.3 690.7 L1194.7 691.6 L1181.0 692.5 L1198.9 693.4 L1183.8 694.3 L1198.0 695.2 L1199.8 696.1 L1206.7 697.1 L1201.9 698.0 L1206.7 698.9 L1211.3 699.8 L1213.5 700.7 L1216.0 701.6 L1207.7 702.6 L1214.9 703.5 L1224.4 704.4 L1227.4 705.3 L1214.9 706.2 L1223.0 707.1 L1234.4 708.1 L1227.2 709.0 L1226.6 709.9 L1235.2 710.8 L1231.1 711.7 L1232.8 712.6 L1230.4 713.6 L1226.7 714.5 L1225.8 715.4 L1218.4 716.3 L1216.3 717.2 L1219.2 718.1 L1210.6 719.0 L1207.8 720.0 L1204.6 720.9 L1208.7 721.8 L1209.3 722.7 L1194.6 723.6 L1198.1 724.5 L1197.6 725.5 L1186.5 726.4 L1198.9 727.3 L1197.5 728.2 L1201.0 729.1 L1192.2 730.0 L1183.2 731.0 L1194.7 731.9 L1190.0 732.8 L1191.5 733.7 L1181.7 734.6 L1184.9 735.5 L1206.6 736.5 L1191.2 737.4 L1201.3 738.3 L1185.3 739.2 L1199.4 740.1 L1200.1 741.0 L1207.4 741.9 L1188.7 742.9 L1191.2 743.8 L1192.5 744.7 L1185.2 745.6 L1195.9 746.5 L1195.2 747.4 L1184.4 748.4 L1195.0 749.3 L1206.1 750.2 L1195.2 751.1 L1195.1 752.0 L1192.9 752.9 L1175.8 753.9 L1200.7 754.8 L1201.9 755.7 L1207.2 756.6 L1205.7 757.5 L1195.8 758.4 L1188.5 759.4 L1183.3 760.3 L1177.8 761.2 L1183.7 762.1 L1194.8 763.0 L1196.6 763.9 L1196.5 764.8 L1199.1 765.8 L1199.0 766.7 L1189.9 767.6 L1191.4 768.5 L1188.4 769.4 L1188.3 770.3 L1193.5 771.3 L1197.5 772.2 L1188.7 773.1 L1182.8 774.0 L1200.3 774.9 L1198.1 775.8 L1191.1 776.8 L1199.2 777.7 L1194.4 778.6 L1187.1 779.5 L1205.5 780.4 L1187.6 781.3 L1195.0 782.3 L1190.3 783.2 L1192.2 784.1 L1197.5 785.0 L1181.7 785.9 L1185.7 786.8 L1198.2 787.7 L1200.7 788.7 L1190.1 789.6 L1188.3 790.5 L1200.3 791.4 L1192.7 792.3 L1189.3 793.2 L1199.7 794.2 L1186.5 795.1 L1197.5 796.0 L1206.7 796.9 L1189.9 797.8 L1195.1 798.7 L1205.7 799.7 L1202.0 800.6 L1195.1 801.5 L1193.6 802.4 L1192.9 803.3 L1194.1 804.2 L1201.3 805.2 L1193.7 806.1 L1199.9 807.0 L1186.6 807.9 L1194.7 808.8 L1202.5 809.7 L1194.5 810.6 L1197.1 811.6 L1202.6 812.5 L1199.1 813.4 L1201.9 814.3 L1193.0 815.2 L1194.0 816.1 L1202.2 817.1 L1193.0 818.0 L1196.6 818.9 L1201.0 819.8 L1200.6 820.7 L1195.1 821.6 L1192.7 822.6 L1199.3 823.5 L1194.6 824.4 L1192.7 825.3 L1190.5 826.2 L1203.2 827.1 L1199.4 828.1 L1187.2 829.0 L1191.5 829.9 L1184.3 830.8 L1190.2 831.7 L1200.6 832.6 L1187.3 833.5 L1195.7 834.5 L1189.8 835.4 L1184.7 836.3 L1201.3 837.2 L1183.5 838.1 L1186.1 839.0 L1191.2 840.0 L1194.5 840.9 L1192.0 841.8 L1188.8 842.7 L1189.8 843.6 L1196.8 844.5 L1201.6 845.5 L1201.6 846.4 L1203.6 847.3 L1193.1 848.2 L1204.7 849.1 L1196.4 850.0 L1198.8 851.0 L1207.0 851.9 L1209.0 852.8 L1214.2 853.7 L1214.6 854.6 L1208.9 855.5 L1221.0 856.4 L1211.3 857.4 L1212.6 858.3 L1220.3 859.2 L1212.8 860.1 L1212.1 861.0 L1216.4 861.9 L1213.6 862.9 L1216.0 863.8 L1217.5 864.7 L1223.9 865.6 L1216.9 866.5 L1216.2 867.4 L1227.7 868.4 L1227.6 869.3 L1222.2 870.2 L1224.4 871.1 L1230.2 872.0 L1225.8 872.9 L1228.7 873.9 L1237.9 874.8 L1232.5 875.7 L1239.8 876.6 L1239.8 877.5 L1235.2 878.4 L1237.6 879.3 L1247.1 880.3 L1240.4 881.2 L1239.9 882.1 L1230.7 883.0 L1223.5 883.9 L1218.3 884.8 L1221.1 885.8 L1223.6 886.7 L1214.0 887.6 L1218.5 888.5 L1216.2 889.4 L1226.5 890.3 L1226.9 891.3 L1217.1 892.2 L1210.0 893.1 L1206.2 894.0 L1209.3 894.9 L1207.1 895.8 L1204.8 896.8 L1201.9 897.7 L1201.6 898.6 L1175.3 899.5" stroke="#a850e4" stroke-width="1.0" fill="none" stroke-opacity="0.45" stroke-linejoin="bevel"/>
<rect x="1169.1" y="852" width="46.65" height="1.7" fill="#6b6b6b" />
<rect x="1169.1" y="856.8" width="46.65" height="1.9" fill="#9a9a9a" />
<rect x="1169.1" y="860.3" width="46.65" height="1.6" fill="#6b6b6b" />
<rect x="1169.1" y="864.5" width="46.65" height="4.4" fill="#6b6b6b" />
<rect x="1169.1" y="873.4" width="46.65" height="4.7" fill="#6b6b6b" />
<rect x="1169.1" y="879.4" width="46.65" height="2.8" fill="#6b6b6b" />
<rect x="1169.1" y="884.8" width="46.65" height="4.8" fill="#6b6b6b" />
<line x1="1169.1" y1="302.3" x2="1212" y2="302.3" stroke="#6b6b6b" stroke-width="3" />
<line x1="1169.1" y1="372.8" x2="1212" y2="372.8" stroke="#6b6b6b" stroke-width="3" />
<line x1="1169.1" y1="527.8" x2="1212" y2="527.8" stroke="#888" stroke-width="2" />
<line x1="1169.1" y1="534.5" x2="1215" y2="534.5" stroke="#6b6b6b" stroke-width="2.5" />
<line x1="1169.1" y1="538.4" x2="1215" y2="538.4" stroke="#777" stroke-width="2" />
<line x1="1169.1" y1="542.3" x2="1215" y2="542.3" stroke="#666" stroke-width="3" />
<line x1="1169.1" y1="615.3" x2="1208" y2="615.3" stroke="#666" stroke-width="2" />
<line x1="1169.1" y1="662" x2="1215" y2="662" stroke="#666" stroke-width="3" />
<line x1="1169.1" y1="685.3" x2="1212" y2="685.3" stroke="#777" stroke-width="2" />
<path d="M1169.1 555.5 L1224.8 555.5 L1219.4 556.7 L1222.5 558.3 L1221 559.8 L1226.4 561.4 L1221.7 562.6 L1223.3 563.75 L1221.5 565 L1227.2 566.9 L1217.8 568.8 L1225 570.5 L1220 573.9 L1212 576 L1206 577.8 L1169.1 577.8Z" fill="#6b6b6b" />
<path d="M1224.8 555.5 L1219.4 556.7 L1222.5 558.3 L1221 559.8 L1226.4 561.4 L1221.7 562.6 L1223.3 563.75 L1221.5 565 L1227.2 566.9 L1217.8 568.8 L1225 570.5 L1220 573.9 L1212 576 L1206 577.8" stroke="#8a00d0" stroke-width="1.3" fill="none" stroke-linejoin="round" stroke-linecap="round" />
<path d="M1169.1 696.4 L1216.8 696.4 L1219 698 L1225.8 700.3 L1231.5 703.1 L1219 705.4 L1210 706 L1169.1 706Z" fill="#6b6b6b" />
<path d="M1216.8 696.4 L1219 698 L1225.8 700.3 L1231.5 703.1 L1219 705.4 L1210 706" stroke="#8a00d0" stroke-width="1.3" fill="none" stroke-linejoin="round" stroke-linecap="round" />
<path d="M1169.1 712.7 L1221.3 713.2 L1219 717.3 L1218 720.6 L1214.5 722.3 L1169.1 722.3Z" fill="#6b6b6b" />
<path d="M1221.3 713.2 L1219 717.3 L1218 720.6 L1214.5 722.3" stroke="#8a00d0" stroke-width="1.3" fill="none" stroke-linejoin="round" stroke-linecap="round" />
<path d="M1215.75 852 L1222 852.85 L1215.75 853.7" stroke="#8a00d0" stroke-width="1.3" fill="#6b6b6b" stroke-linejoin="round" stroke-linecap="round" />
<path d="M1215.75 860.3 L1226 861.1 L1215.75 861.9" stroke="#8a00d0" stroke-width="1.3" fill="#6b6b6b" stroke-linejoin="round" stroke-linecap="round" />
<path d="M1215.75 864.5 L1224 866.7 L1215.75 868.9" stroke="#8a00d0" stroke-width="1.3" fill="#6b6b6b" stroke-linejoin="round" stroke-linecap="round" />
<path d="M1215.75 873.4 L1224.8 875.75 L1215.75 878.1" stroke="#8a00d0" stroke-width="1.3" fill="#6b6b6b" stroke-linejoin="round" stroke-linecap="round" />
<path d="M1215.75 879.4 L1227 880.8 L1215.75 882.2" stroke="#8a00d0" stroke-width="1.3" fill="#6b6b6b" stroke-linejoin="round" stroke-linecap="round" />
<path d="M1215.75 884.8 L1222 887.2 L1215.75 889.6" stroke="#8a00d0" stroke-width="1.3" fill="#6b6b6b" stroke-linejoin="round" stroke-linecap="round" />
<line x1="1169.1" y1="878.8" x2="1242" y2="878.8" stroke="#000" stroke-width="2.2" />
<path d="M1217.6 126.4 L1254 127.6 L1255 128.6 L1254 129.6 L1217.6 130.8Z" fill="#8a00d0" />
<path d="M1169.1 126.2 L1222.6 126.6 L1237.6 127.6 L1239.6 128.6 L1237.6 129.6 L1222.6 130.6 L1169.1 131Z" fill="#000" />
<path d="M1215 570.1 L1239 571.3 L1240 572.3 L1239 573.3 L1215 574.5Z" fill="#8a00d0" />
<path d="M1169.1 569.9 L1220 570.3 L1235 571.3 L1237 572.3 L1235 573.3 L1220 574.3 L1169.1 574.7Z" fill="#000" />
<path d="M1212 709.4 L1235 710.6 L1236 711.6 L1235 712.6 L1212 713.8Z" fill="#8a00d0" />
<path d="M1169.1 709.2 L1217 709.6 L1232 710.6 L1234 711.6 L1232 712.6 L1217 713.6 L1169.1 714Z" fill="#000" />
<line x1="1208.73" y1="120.6" x2="1208.73" y2="899.5" stroke="#111" stroke-width="1.6" stroke-dasharray="7.2 8.37"/>
<line x1="1232.05" y1="120.6" x2="1232.05" y2="899.5" stroke="#111" stroke-width="1.6" stroke-dasharray="7.2 8.37"/>
<line x1="110.2" y1="485.2" x2="1269.4" y2="485.2" stroke="#000" stroke-width="2.2" />
<line x1="110.2" y1="621.3" x2="1269.6" y2="621.3" stroke="#000" stroke-width="2.2" />
<path d="M1287 129.8 L1291.2 162.7 L1295.1 200 L1299.9 240 L1306.9 300 L1317.9 372 L1330.4 487.7 L1335 528.3 L1340.4 547 L1338.2 556.5 L1340.7 569 L1346 572.8 L1347.6 600 L1350.7 620.3 L1359.3 679 L1363.1 685 L1361.4 690.8 L1357.8 699.6 L1359.3 705.4 L1357.8 711.3 L1359.3 717 L1355.5 724.5 L1365.2 834.3 L1367.2 850.4 L1374 854.8 L1380.7 859 L1391.5 866" stroke="#1e7f45" stroke-width="2.4" fill="none" stroke-linejoin="round" stroke-linecap="round" />
<line x1="381.3" y1="109.4" x2="381.3" y2="898.2" stroke="#3a3a3a" stroke-width="2.2" />
<line x1="372.8" y1="119.4" x2="474.9" y2="119.4" stroke="#3a3a3a" stroke-width="2.2" />
<line x1="372.8" y1="119.4" x2="381.3" y2="119.4" stroke="#3a3a3a" stroke-width="2.4" />
<line x1="381.3" y1="128.56" x2="391.6" y2="128.56" stroke="#3a3a3a" stroke-width="2.4" />
<line x1="381.3" y1="137.72" x2="391.6" y2="137.72" stroke="#3a3a3a" stroke-width="2.4" />
<line x1="381.3" y1="146.89" x2="391.6" y2="146.89" stroke="#3a3a3a" stroke-width="2.4" />
<line x1="381.3" y1="156.05" x2="391.6" y2="156.05" stroke="#3a3a3a" stroke-width="2.4" />
<line x1="372.8" y1="165.21" x2="381.3" y2="165.21" stroke="#3a3a3a" stroke-width="2.4" />
<line x1="381.3" y1="174.37" x2="391.6" y2="174.37" stroke="#3a3a3a" stroke-width="2.4" />
<line x1="381.3" y1="183.54" x2="391.6" y2="183.54" stroke="#3a3a3a" stroke-width="2.4" />
<line x1="381.3" y1="192.7" x2="391.6" y2="192.7" stroke="#3a3a3a" stroke-width="2.4" />
<line x1="381.3" y1="201.86" x2="391.6" y2="201.86" stroke="#3a3a3a" stroke-width="2.4" />
<line x1="372.8" y1="211.02" x2="381.3" y2="211.02" stroke="#3a3a3a" stroke-width="2.4" />
<line x1="381.3" y1="220.19" x2="391.6" y2="220.19" stroke="#3a3a3a" stroke-width="2.4" />
<line x1="381.3" y1="229.35" x2="391.6" y2="229.35" stroke="#3a3a3a" stroke-width="2.4" />
<line x1="381.3" y1="238.51" x2="391.6" y2="238.51" stroke="#3a3a3a" stroke-width="2.4" />
<line x1="381.3" y1="247.67" x2="391.6" y2="247.67" stroke="#3a3a3a" stroke-width="2.4" />
<line x1="372.8" y1="256.84" x2="381.3" y2="256.84" stroke="#3a3a3a" stroke-width="2.4" />
<line x1="381.3" y1="266" x2="391.6" y2="266" stroke="#3a3a3a" stroke-width="2.4" />
<line x1="381.3" y1="275.16" x2="391.6" y2="275.16" stroke="#3a3a3a" stroke-width="2.4" />
<line x1="381.3" y1="284.32" x2="391.6" y2="284.32" stroke="#3a3a3a" stroke-width="2.4" />
<line x1="381.3" y1="293.48" x2="391.6" y2="293.48" stroke="#3a3a3a" stroke-width="2.4" />
<line x1="372.8" y1="302.65" x2="381.3" y2="302.65" stroke="#3a3a3a" stroke-width="2.4" />
<line x1="381.3" y1="311.81" x2="391.6" y2="311.81" stroke="#3a3a3a" stroke-width="2.4" />
<line x1="381.3" y1="320.97" x2="391.6" y2="320.97" stroke="#3a3a3a" stroke-width="2.4" />
<line x1="381.3" y1="330.13" x2="391.6" y2="330.13" stroke="#3a3a3a" stroke-width="2.4" />
<line x1="381.3" y1="339.3" x2="391.6" y2="339.3" stroke="#3a3a3a" stroke-width="2.4" />
<line x1="372.8" y1="348.46" x2="381.3" y2="348.46" stroke="#3a3a3a" stroke-width="2.4" />
<line x1="381.3" y1="357.62" x2="391.6" y2="357.62" stroke="#3a3a3a" stroke-width="2.4" />
<line x1="381.3" y1="366.78" x2="391.6" y2="366.78" stroke="#3a3a3a" stroke-width="2.4" />
<line x1="381.3" y1="375.95" x2="391.6" y2="375.95" stroke="#3a3a3a" stroke-width="2.4" />
<line x1="381.3" y1="385.11" x2="391.6" y2="385.11" stroke="#3a3a3a" stroke-width="2.4" />
<line x1="372.8" y1="394.27" x2="381.3" y2="394.27" stroke="#3a3a3a" stroke-width="2.4" />
<line x1="381.3" y1="403.43" x2="391.6" y2="403.43" stroke="#3a3a3a" stroke-width="2.4" />
<line x1="381.3" y1="412.6" x2="391.6" y2="412.6" stroke="#3a3a3a" stroke-width="2.4" />
<line x1="381.3" y1="421.76" x2="391.6" y2="421.76" stroke="#3a3a3a" stroke-width="2.4" />
<line x1="381.3" y1="430.92" x2="391.6" y2="430.92" stroke="#3a3a3a" stroke-width="2.4" />
<line x1="372.8" y1="440.08" x2="381.3" y2="440.08" stroke="#3a3a3a" stroke-width="2.4" />
<line x1="381.3" y1="449.24" x2="391.6" y2="449.24" stroke="#3a3a3a" stroke-width="2.4" />
<line x1="381.3" y1="458.41" x2="391.6" y2="458.41" stroke="#3a3a3a" stroke-width="2.4" />
<line x1="381.3" y1="467.57" x2="391.6" y2="467.57" stroke="#3a3a3a" stroke-width="2.4" />
<line x1="381.3" y1="476.73" x2="391.6" y2="476.73" stroke="#3a3a3a" stroke-width="2.4" />
<line x1="372.8" y1="485.89" x2="381.3" y2="485.89" stroke="#3a3a3a" stroke-width="2.4" />
<line x1="381.3" y1="495.06" x2="391.6" y2="495.06" stroke="#3a3a3a" stroke-width="2.4" />
<line x1="381.3" y1="504.22" x2="391.6" y2="504.22" stroke="#3a3a3a" stroke-width="2.4" />
<line x1="381.3" y1="513.38" x2="391.6" y2="513.38" stroke="#3a3a3a" stroke-width="2.4" />
<line x1="381.3" y1="522.54" x2="391.6" y2="522.54" stroke="#3a3a3a" stroke-width="2.4" />
<line x1="372.8" y1="531.71" x2="381.3" y2="531.71" stroke="#3a3a3a" stroke-width="2.4" />
<line x1="381.3" y1="540.87" x2="391.6" y2="540.87" stroke="#3a3a3a" stroke-width="2.4" />
<line x1="381.3" y1="550.03" x2="391.6" y2="550.03" stroke="#3a3a3a" stroke-width="2.4" />
<line x1="381.3" y1="559.19" x2="391.6" y2="559.19" stroke="#3a3a3a" stroke-width="2.4" />
<line x1="381.3" y1="568.36" x2="391.6" y2="568.36" stroke="#3a3a3a" stroke-width="2.4" />
<line x1="372.8" y1="577.52" x2="381.3" y2="577.52" stroke="#3a3a3a" stroke-width="2.4" />
<line x1="381.3" y1="586.68" x2="391.6" y2="586.68" stroke="#3a3a3a" stroke-width="2.4" />
<line x1="381.3" y1="595.84" x2="391.6" y2="595.84" stroke="#3a3a3a" stroke-width="2.4" />
<line x1="381.3" y1="605" x2="391.6" y2="605" stroke="#3a3a3a" stroke-width="2.4" />
<line x1="381.3" y1="614.17" x2="391.6" y2="614.17" stroke="#3a3a3a" stroke-width="2.4" />
<line x1="372.8" y1="623.33" x2="381.3" y2="623.33" stroke="#3a3a3a" stroke-width="2.4" />
<line x1="381.3" y1="632.49" x2="391.6" y2="632.49" stroke="#3a3a3a" stroke-width="2.4" />
<line x1="381.3" y1="641.65" x2="391.6" y2="641.65" stroke="#3a3a3a" stroke-width="2.4" />
<line x1="381.3" y1="650.82" x2="391.6" y2="650.82" stroke="#3a3a3a" stroke-width="2.4" />
<line x1="381.3" y1="659.98" x2="391.6" y2="659.98" stroke="#3a3a3a" stroke-width="2.4" />
<line x1="372.8" y1="669.14" x2="381.3" y2="669.14" stroke="#3a3a3a" stroke-width="2.4" />
<line x1="381.3" y1="678.3" x2="391.6" y2="678.3" stroke="#3a3a3a" stroke-width="2.4" />
<line x1="381.3" y1="687.47" x2="391.6" y2="687.47" stroke="#3a3a3a" stroke-width="2.4" />
<line x1="381.3" y1="696.63" x2="391.6" y2="696.63" stroke="#3a3a3a" stroke-width="2.4" />
<line x1="381.3" y1="705.79" x2="391.6" y2="705.79" stroke="#3a3a3a" stroke-width="2.4" />
<line x1="372.8" y1="714.95" x2="381.3" y2="714.95" stroke="#3a3a3a" stroke-width="2.4" />
<line x1="381.3" y1="724.12" x2="391.6" y2="724.12" stroke="#3a3a3a" stroke-width="2.4" />
<line x1="381.3" y1="733.28" x2="391.6" y2="733.28" stroke="#3a3a3a" stroke-width="2.4" />
<line x1="381.3" y1="742.44" x2="391.6" y2="742.44" stroke="#3a3a3a" stroke-width="2.4" />
<line x1="381.3" y1="751.6" x2="391.6" y2="751.6" stroke="#3a3a3a" stroke-width="2.4" />
<line x1="372.8" y1="760.76" x2="381.3" y2="760.76" stroke="#3a3a3a" stroke-width="2.4" />
<line x1="381.3" y1="769.93" x2="391.6" y2="769.93" stroke="#3a3a3a" stroke-width="2.4" />
<line x1="381.3" y1="779.09" x2="391.6" y2="779.09" stroke="#3a3a3a" stroke-width="2.4" />
<line x1="381.3" y1="788.25" x2="391.6" y2="788.25" stroke="#3a3a3a" stroke-width="2.4" />
<line x1="381.3" y1="797.41" x2="391.6" y2="797.41" stroke="#3a3a3a" stroke-width="2.4" />
<line x1="372.8" y1="806.58" x2="381.3" y2="806.58" stroke="#3a3a3a" stroke-width="2.4" />
<line x1="381.3" y1="815.74" x2="391.6" y2="815.74" stroke="#3a3a3a" stroke-width="2.4" />
<line x1="381.3" y1="824.9" x2="391.6" y2="824.9" stroke="#3a3a3a" stroke-width="2.4" />
<line x1="381.3" y1="834.06" x2="391.6" y2="834.06" stroke="#3a3a3a" stroke-width="2.4" />
<line x1="381.3" y1="843.23" x2="391.6" y2="843.23" stroke="#3a3a3a" stroke-width="2.4" />
<line x1="372.8" y1="852.39" x2="381.3" y2="852.39" stroke="#3a3a3a" stroke-width="2.4" />
<line x1="381.3" y1="861.55" x2="391.6" y2="861.55" stroke="#3a3a3a" stroke-width="2.4" />
<line x1="381.3" y1="870.71" x2="391.6" y2="870.71" stroke="#3a3a3a" stroke-width="2.4" />
<line x1="381.3" y1="879.88" x2="391.6" y2="879.88" stroke="#3a3a3a" stroke-width="2.4" />
<line x1="381.3" y1="889.04" x2="391.6" y2="889.04" stroke="#3a3a3a" stroke-width="2.4" />
<line x1="372.8" y1="898.2" x2="381.3" y2="898.2" stroke="#3a3a3a" stroke-width="2.4" />
<line x1="381.3" y1="898.2" x2="474.9" y2="898.2" stroke="#c8c8c8" stroke-width="1.6" />
<line x1="381.3" y1="109.2" x2="381.3" y2="119.4" stroke="#3a3a3a" stroke-width="2" />
<line x1="388.34" y1="114.4" x2="388.34" y2="119.4" stroke="#9a9a9a" stroke-width="1" />
<line x1="392.46" y1="114.4" x2="392.46" y2="119.4" stroke="#9a9a9a" stroke-width="1" />
<line x1="395.39" y1="114.4" x2="395.39" y2="119.4" stroke="#9a9a9a" stroke-width="1" />
<line x1="397.66" y1="114.4" x2="397.66" y2="119.4" stroke="#9a9a9a" stroke-width="1" />
<line x1="399.51" y1="114.4" x2="399.51" y2="119.4" stroke="#9a9a9a" stroke-width="1" />
<line x1="401.08" y1="114.4" x2="401.08" y2="119.4" stroke="#9a9a9a" stroke-width="1" />
<line x1="402.43" y1="114.4" x2="402.43" y2="119.4" stroke="#9a9a9a" stroke-width="1" />
<line x1="403.63" y1="114.4" x2="403.63" y2="119.4" stroke="#9a9a9a" stroke-width="1" />
<line x1="404.7" y1="109.2" x2="404.7" y2="119.4" stroke="#505050" stroke-width="2" />
<line x1="411.74" y1="114.4" x2="411.74" y2="119.4" stroke="#9a9a9a" stroke-width="1" />
<line x1="415.86" y1="114.4" x2="415.86" y2="119.4" stroke="#9a9a9a" stroke-width="1" />
<line x1="418.79" y1="114.4" x2="418.79" y2="119.4" stroke="#9a9a9a" stroke-width="1" />
<line x1="421.06" y1="114.4" x2="421.06" y2="119.4" stroke="#9a9a9a" stroke-width="1" />
<line x1="422.91" y1="114.4" x2="422.91" y2="119.4" stroke="#9a9a9a" stroke-width="1" />
<line x1="424.48" y1="114.4" x2="424.48" y2="119.4" stroke="#9a9a9a" stroke-width="1" />
<line x1="425.83" y1="114.4" x2="425.83" y2="119.4" stroke="#9a9a9a" stroke-width="1" />
<line x1="427.03" y1="114.4" x2="427.03" y2="119.4" stroke="#9a9a9a" stroke-width="1" />
<line x1="428.1" y1="109.2" x2="428.1" y2="119.4" stroke="#505050" stroke-width="2" />
<line x1="435.14" y1="114.4" x2="435.14" y2="119.4" stroke="#9a9a9a" stroke-width="1" />
<line x1="439.26" y1="114.4" x2="439.26" y2="119.4" stroke="#9a9a9a" stroke-width="1" />
<line x1="442.19" y1="114.4" x2="442.19" y2="119.4" stroke="#9a9a9a" stroke-width="1" />
<line x1="444.46" y1="114.4" x2="444.46" y2="119.4" stroke="#9a9a9a" stroke-width="1" />
<line x1="446.31" y1="114.4" x2="446.31" y2="119.4" stroke="#9a9a9a" stroke-width="1" />
<line x1="447.88" y1="114.4" x2="447.88" y2="119.4" stroke="#9a9a9a" stroke-width="1" />
<line x1="449.23" y1="114.4" x2="449.23" y2="119.4" stroke="#9a9a9a" stroke-width="1" />
<line x1="450.43" y1="114.4" x2="450.43" y2="119.4" stroke="#9a9a9a" stroke-width="1" />
<line x1="451.5" y1="109.2" x2="451.5" y2="119.4" stroke="#505050" stroke-width="2" />
<line x1="458.54" y1="114.4" x2="458.54" y2="119.4" stroke="#9a9a9a" stroke-width="1" />
<line x1="462.66" y1="114.4" x2="462.66" y2="119.4" stroke="#9a9a9a" stroke-width="1" />
<line x1="465.59" y1="114.4" x2="465.59" y2="119.4" stroke="#9a9a9a" stroke-width="1" />
<line x1="467.86" y1="114.4" x2="467.86" y2="119.4" stroke="#9a9a9a" stroke-width="1" />
<line x1="469.71" y1="114.4" x2="469.71" y2="119.4" stroke="#9a9a9a" stroke-width="1" />
<line x1="471.28" y1="114.4" x2="471.28" y2="119.4" stroke="#9a9a9a" stroke-width="1" />
<line x1="472.63" y1="114.4" x2="472.63" y2="119.4" stroke="#9a9a9a" stroke-width="1" />
<line x1="473.83" y1="114.4" x2="473.83" y2="119.4" stroke="#9a9a9a" stroke-width="1" />
<line x1="474.9" y1="109.2" x2="474.9" y2="119.4" stroke="#505050" stroke-width="2" />
<line x1="474.9" y1="109.2" x2="474.9" y2="119.4" stroke="#505050" stroke-width="2" />
<line x1="771.9" y1="111.6" x2="771.9" y2="900.1" stroke="#3a3a3a" stroke-width="2.2" />
<line x1="763.4" y1="121.6" x2="865.3" y2="121.6" stroke="#3a3a3a" stroke-width="2.2" />
<line x1="763.4" y1="121.6" x2="771.9" y2="121.6" stroke="#3a3a3a" stroke-width="2.4" />
<line x1="771.9" y1="130.76" x2="782.2" y2="130.76" stroke="#3a3a3a" stroke-width="2.4" />
<line x1="771.9" y1="139.92" x2="782.2" y2="139.92" stroke="#3a3a3a" stroke-width="2.4" />
<line x1="771.9" y1="149.08" x2="782.2" y2="149.08" stroke="#3a3a3a" stroke-width="2.4" />
<line x1="771.9" y1="158.24" x2="782.2" y2="158.24" stroke="#3a3a3a" stroke-width="2.4" />
<line x1="763.4" y1="167.39" x2="771.9" y2="167.39" stroke="#3a3a3a" stroke-width="2.4" />
<line x1="771.9" y1="176.55" x2="782.2" y2="176.55" stroke="#3a3a3a" stroke-width="2.4" />
<line x1="771.9" y1="185.71" x2="782.2" y2="185.71" stroke="#3a3a3a" stroke-width="2.4" />
<line x1="771.9" y1="194.87" x2="782.2" y2="194.87" stroke="#3a3a3a" stroke-width="2.4" />
<line x1="771.9" y1="204.03" x2="782.2" y2="204.03" stroke="#3a3a3a" stroke-width="2.4" />
<line x1="763.4" y1="213.19" x2="771.9" y2="213.19" stroke="#3a3a3a" stroke-width="2.4" />
<line x1="771.9" y1="222.35" x2="782.2" y2="222.35" stroke="#3a3a3a" stroke-width="2.4" />
<line x1="771.9" y1="231.51" x2="782.2" y2="231.51" stroke="#3a3a3a" stroke-width="2.4" />
<line x1="771.9" y1="240.66" x2="782.2" y2="240.66" stroke="#3a3a3a" stroke-width="2.4" />
<line x1="771.9" y1="249.82" x2="782.2" y2="249.82" stroke="#3a3a3a" stroke-width="2.4" />
<line x1="763.4" y1="258.98" x2="771.9" y2="258.98" stroke="#3a3a3a" stroke-width="2.4" />
<line x1="771.9" y1="268.14" x2="782.2" y2="268.14" stroke="#3a3a3a" stroke-width="2.4" />
<line x1="771.9" y1="277.3" x2="782.2" y2="277.3" stroke="#3a3a3a" stroke-width="2.4" />
<line x1="771.9" y1="286.46" x2="782.2" y2="286.46" stroke="#3a3a3a" stroke-width="2.4" />
<line x1="771.9" y1="295.62" x2="782.2" y2="295.62" stroke="#3a3a3a" stroke-width="2.4" />
<line x1="763.4" y1="304.78" x2="771.9" y2="304.78" stroke="#3a3a3a" stroke-width="2.4" />
<line x1="771.9" y1="313.94" x2="782.2" y2="313.94" stroke="#3a3a3a" stroke-width="2.4" />
<line x1="771.9" y1="323.09" x2="782.2" y2="323.09" stroke="#3a3a3a" stroke-width="2.4" />
<line x1="771.9" y1="332.25" x2="782.2" y2="332.25" stroke="#3a3a3a" stroke-width="2.4" />
<line x1="771.9" y1="341.41" x2="782.2" y2="341.41" stroke="#3a3a3a" stroke-width="2.4" />
<line x1="763.4" y1="350.57" x2="771.9" y2="350.57" stroke="#3a3a3a" stroke-width="2.4" />
<line x1="771.9" y1="359.73" x2="782.2" y2="359.73" stroke="#3a3a3a" stroke-width="2.4" />
<line x1="771.9" y1="368.89" x2="782.2" y2="368.89" stroke="#3a3a3a" stroke-width="2.4" />
<line x1="771.9" y1="378.05" x2="782.2" y2="378.05" stroke="#3a3a3a" stroke-width="2.4" />
<line x1="771.9" y1="387.21" x2="782.2" y2="387.21" stroke="#3a3a3a" stroke-width="2.4" />
<line x1="763.4" y1="396.36" x2="771.9" y2="396.36" stroke="#3a3a3a" stroke-width="2.4" />
<line x1="771.9" y1="405.52" x2="782.2" y2="405.52" stroke="#3a3a3a" stroke-width="2.4" />
<line x1="771.9" y1="414.68" x2="782.2" y2="414.68" stroke="#3a3a3a" stroke-width="2.4" />
<line x1="771.9" y1="423.84" x2="782.2" y2="423.84" stroke="#3a3a3a" stroke-width="2.4" />
<line x1="771.9" y1="433" x2="782.2" y2="433" stroke="#3a3a3a" stroke-width="2.4" />
<line x1="763.4" y1="442.16" x2="771.9" y2="442.16" stroke="#3a3a3a" stroke-width="2.4" />
<line x1="771.9" y1="451.32" x2="782.2" y2="451.32" stroke="#3a3a3a" stroke-width="2.4" />
<line x1="771.9" y1="460.48" x2="782.2" y2="460.48" stroke="#3a3a3a" stroke-width="2.4" />
<line x1="771.9" y1="469.64" x2="782.2" y2="469.64" stroke="#3a3a3a" stroke-width="2.4" />
<line x1="771.9" y1="478.79" x2="782.2" y2="478.79" stroke="#3a3a3a" stroke-width="2.4" />
<line x1="763.4" y1="487.95" x2="771.9" y2="487.95" stroke="#3a3a3a" stroke-width="2.4" />
<line x1="771.9" y1="497.11" x2="782.2" y2="497.11" stroke="#3a3a3a" stroke-width="2.4" />
<line x1="771.9" y1="506.27" x2="782.2" y2="506.27" stroke="#3a3a3a" stroke-width="2.4" />
<line x1="771.9" y1="515.43" x2="782.2" y2="515.43" stroke="#3a3a3a" stroke-width="2.4" />
<line x1="771.9" y1="524.59" x2="782.2" y2="524.59" stroke="#3a3a3a" stroke-width="2.4" />
<line x1="763.4" y1="533.75" x2="771.9" y2="533.75" stroke="#3a3a3a" stroke-width="2.4" />
<line x1="771.9" y1="542.91" x2="782.2" y2="542.91" stroke="#3a3a3a" stroke-width="2.4" />
<line x1="771.9" y1="552.06" x2="782.2" y2="552.06" stroke="#3a3a3a" stroke-width="2.4" />
<line x1="771.9" y1="561.22" x2="782.2" y2="561.22" stroke="#3a3a3a" stroke-width="2.4" />
<line x1="771.9" y1="570.38" x2="782.2" y2="570.38" stroke="#3a3a3a" stroke-width="2.4" />
<line x1="763.4" y1="579.54" x2="771.9" y2="579.54" stroke="#3a3a3a" stroke-width="2.4" />
<line x1="771.9" y1="588.7" x2="782.2" y2="588.7" stroke="#3a3a3a" stroke-width="2.4" />
<line x1="771.9" y1="597.86" x2="782.2" y2="597.86" stroke="#3a3a3a" stroke-width="2.4" />
<line x1="771.9" y1="607.02" x2="782.2" y2="607.02" stroke="#3a3a3a" stroke-width="2.4" />
<line x1="771.9" y1="616.18" x2="782.2" y2="616.18" stroke="#3a3a3a" stroke-width="2.4" />
<line x1="763.4" y1="625.34" x2="771.9" y2="625.34" stroke="#3a3a3a" stroke-width="2.4" />
<line x1="771.9" y1="634.49" x2="782.2" y2="634.49" stroke="#3a3a3a" stroke-width="2.4" />
<line x1="771.9" y1="643.65" x2="782.2" y2="643.65" stroke="#3a3a3a" stroke-width="2.4" />
<line x1="771.9" y1="652.81" x2="782.2" y2="652.81" stroke="#3a3a3a" stroke-width="2.4" />
<line x1="771.9" y1="661.97" x2="782.2" y2="661.97" stroke="#3a3a3a" stroke-width="2.4" />
<line x1="763.4" y1="671.13" x2="771.9" y2="671.13" stroke="#3a3a3a" stroke-width="2.4" />
<line x1="771.9" y1="680.29" x2="782.2" y2="680.29" stroke="#3a3a3a" stroke-width="2.4" />
<line x1="771.9" y1="689.45" x2="782.2" y2="689.45" stroke="#3a3a3a" stroke-width="2.4" />
<line x1="771.9" y1="698.61" x2="782.2" y2="698.61" stroke="#3a3a3a" stroke-width="2.4" />
<line x1="771.9" y1="707.76" x2="782.2" y2="707.76" stroke="#3a3a3a" stroke-width="2.4" />
<line x1="763.4" y1="716.92" x2="771.9" y2="716.92" stroke="#3a3a3a" stroke-width="2.4" />
<line x1="771.9" y1="726.08" x2="782.2" y2="726.08" stroke="#3a3a3a" stroke-width="2.4" />
<line x1="771.9" y1="735.24" x2="782.2" y2="735.24" stroke="#3a3a3a" stroke-width="2.4" />
<line x1="771.9" y1="744.4" x2="782.2" y2="744.4" stroke="#3a3a3a" stroke-width="2.4" />
<line x1="771.9" y1="753.56" x2="782.2" y2="753.56" stroke="#3a3a3a" stroke-width="2.4" />
<line x1="763.4" y1="762.72" x2="771.9" y2="762.72" stroke="#3a3a3a" stroke-width="2.4" />
<line x1="771.9" y1="771.88" x2="782.2" y2="771.88" stroke="#3a3a3a" stroke-width="2.4" />
<line x1="771.9" y1="781.04" x2="782.2" y2="781.04" stroke="#3a3a3a" stroke-width="2.4" />
<line x1="771.9" y1="790.19" x2="782.2" y2="790.19" stroke="#3a3a3a" stroke-width="2.4" />
<line x1="771.9" y1="799.35" x2="782.2" y2="799.35" stroke="#3a3a3a" stroke-width="2.4" />
<line x1="763.4" y1="808.51" x2="771.9" y2="808.51" stroke="#3a3a3a" stroke-width="2.4" />
<line x1="771.9" y1="817.67" x2="782.2" y2="817.67" stroke="#3a3a3a" stroke-width="2.4" />
<line x1="771.9" y1="826.83" x2="782.2" y2="826.83" stroke="#3a3a3a" stroke-width="2.4" />
<line x1="771.9" y1="835.99" x2="782.2" y2="835.99" stroke="#3a3a3a" stroke-width="2.4" />
<line x1="771.9" y1="845.15" x2="782.2" y2="845.15" stroke="#3a3a3a" stroke-width="2.4" />
<line x1="763.4" y1="854.31" x2="771.9" y2="854.31" stroke="#3a3a3a" stroke-width="2.4" />
<line x1="771.9" y1="863.46" x2="782.2" y2="863.46" stroke="#3a3a3a" stroke-width="2.4" />
<line x1="771.9" y1="872.62" x2="782.2" y2="872.62" stroke="#3a3a3a" stroke-width="2.4" />
<line x1="771.9" y1="881.78" x2="782.2" y2="881.78" stroke="#3a3a3a" stroke-width="2.4" />
<line x1="771.9" y1="890.94" x2="782.2" y2="890.94" stroke="#3a3a3a" stroke-width="2.4" />
<line x1="763.4" y1="900.1" x2="771.9" y2="900.1" stroke="#3a3a3a" stroke-width="2.4" />
<line x1="771.9" y1="900.1" x2="865.3" y2="900.1" stroke="#c8c8c8" stroke-width="1.6" />
<line x1="771.9" y1="111.4" x2="771.9" y2="121.6" stroke="#3a3a3a" stroke-width="2" />
<line x1="778.93" y1="116.6" x2="778.93" y2="121.6" stroke="#9a9a9a" stroke-width="1" />
<line x1="783.04" y1="116.6" x2="783.04" y2="121.6" stroke="#9a9a9a" stroke-width="1" />
<line x1="785.96" y1="116.6" x2="785.96" y2="121.6" stroke="#9a9a9a" stroke-width="1" />
<line x1="788.22" y1="116.6" x2="788.22" y2="121.6" stroke="#9a9a9a" stroke-width="1" />
<line x1="790.07" y1="116.6" x2="790.07" y2="121.6" stroke="#9a9a9a" stroke-width="1" />
<line x1="791.63" y1="116.6" x2="791.63" y2="121.6" stroke="#9a9a9a" stroke-width="1" />
<line x1="792.99" y1="116.6" x2="792.99" y2="121.6" stroke="#9a9a9a" stroke-width="1" />
<line x1="794.18" y1="116.6" x2="794.18" y2="121.6" stroke="#9a9a9a" stroke-width="1" />
<line x1="795.25" y1="111.4" x2="795.25" y2="121.6" stroke="#505050" stroke-width="2" />
<line x1="802.28" y1="116.6" x2="802.28" y2="121.6" stroke="#9a9a9a" stroke-width="1" />
<line x1="806.39" y1="116.6" x2="806.39" y2="121.6" stroke="#9a9a9a" stroke-width="1" />
<line x1="809.31" y1="116.6" x2="809.31" y2="121.6" stroke="#9a9a9a" stroke-width="1" />
<line x1="811.57" y1="116.6" x2="811.57" y2="121.6" stroke="#9a9a9a" stroke-width="1" />
<line x1="813.42" y1="116.6" x2="813.42" y2="121.6" stroke="#9a9a9a" stroke-width="1" />
<line x1="814.98" y1="116.6" x2="814.98" y2="121.6" stroke="#9a9a9a" stroke-width="1" />
<line x1="816.34" y1="116.6" x2="816.34" y2="121.6" stroke="#9a9a9a" stroke-width="1" />
<line x1="817.53" y1="116.6" x2="817.53" y2="121.6" stroke="#9a9a9a" stroke-width="1" />
<line x1="818.6" y1="111.4" x2="818.6" y2="121.6" stroke="#505050" stroke-width="2" />
<line x1="825.63" y1="116.6" x2="825.63" y2="121.6" stroke="#9a9a9a" stroke-width="1" />
<line x1="829.74" y1="116.6" x2="829.74" y2="121.6" stroke="#9a9a9a" stroke-width="1" />
<line x1="832.66" y1="116.6" x2="832.66" y2="121.6" stroke="#9a9a9a" stroke-width="1" />
<line x1="834.92" y1="116.6" x2="834.92" y2="121.6" stroke="#9a9a9a" stroke-width="1" />
<line x1="836.77" y1="116.6" x2="836.77" y2="121.6" stroke="#9a9a9a" stroke-width="1" />
<line x1="838.33" y1="116.6" x2="838.33" y2="121.6" stroke="#9a9a9a" stroke-width="1" />
<line x1="839.69" y1="116.6" x2="839.69" y2="121.6" stroke="#9a9a9a" stroke-width="1" />
<line x1="840.88" y1="116.6" x2="840.88" y2="121.6" stroke="#9a9a9a" stroke-width="1" />
<line x1="841.95" y1="111.4" x2="841.95" y2="121.6" stroke="#505050" stroke-width="2" />
<line x1="848.98" y1="116.6" x2="848.98" y2="121.6" stroke="#9a9a9a" stroke-width="1" />
<line x1="853.09" y1="116.6" x2="853.09" y2="121.6" stroke="#9a9a9a" stroke-width="1" />
<line x1="856.01" y1="116.6" x2="856.01" y2="121.6" stroke="#9a9a9a" stroke-width="1" />
<line x1="858.27" y1="116.6" x2="858.27" y2="121.6" stroke="#9a9a9a" stroke-width="1" />
<line x1="860.12" y1="116.6" x2="860.12" y2="121.6" stroke="#9a9a9a" stroke-width="1" />
<line x1="861.68" y1="116.6" x2="861.68" y2="121.6" stroke="#9a9a9a" stroke-width="1" />
<line x1="863.04" y1="116.6" x2="863.04" y2="121.6" stroke="#9a9a9a" stroke-width="1" />
<line x1="864.23" y1="116.6" x2="864.23" y2="121.6" stroke="#9a9a9a" stroke-width="1" />
<line x1="865.3" y1="111.4" x2="865.3" y2="121.6" stroke="#505050" stroke-width="2" />
<line x1="865.3" y1="111.4" x2="865.3" y2="121.6" stroke="#505050" stroke-width="2" />
<line x1="1169.1" y1="110.9" x2="1169.1" y2="899.5" stroke="#3a3a3a" stroke-width="2.2" />
<line x1="1160.6" y1="120.9" x2="1262.4" y2="120.9" stroke="#3a3a3a" stroke-width="2.2" />
<line x1="1160.6" y1="120.9" x2="1169.1" y2="120.9" stroke="#3a3a3a" stroke-width="2.4" />
<line x1="1169.1" y1="130.06" x2="1179.4" y2="130.06" stroke="#3a3a3a" stroke-width="2.4" />
<line x1="1169.1" y1="139.22" x2="1179.4" y2="139.22" stroke="#3a3a3a" stroke-width="2.4" />
<line x1="1169.1" y1="148.38" x2="1179.4" y2="148.38" stroke="#3a3a3a" stroke-width="2.4" />
<line x1="1169.1" y1="157.54" x2="1179.4" y2="157.54" stroke="#3a3a3a" stroke-width="2.4" />
<line x1="1160.6" y1="166.7" x2="1169.1" y2="166.7" stroke="#3a3a3a" stroke-width="2.4" />
<line x1="1169.1" y1="175.86" x2="1179.4" y2="175.86" stroke="#3a3a3a" stroke-width="2.4" />
<line x1="1169.1" y1="185.02" x2="1179.4" y2="185.02" stroke="#3a3a3a" stroke-width="2.4" />
<line x1="1169.1" y1="194.18" x2="1179.4" y2="194.18" stroke="#3a3a3a" stroke-width="2.4" />
<line x1="1169.1" y1="203.34" x2="1179.4" y2="203.34" stroke="#3a3a3a" stroke-width="2.4" />
<line x1="1160.6" y1="212.5" x2="1169.1" y2="212.5" stroke="#3a3a3a" stroke-width="2.4" />
<line x1="1169.1" y1="221.66" x2="1179.4" y2="221.66" stroke="#3a3a3a" stroke-width="2.4" />
<line x1="1169.1" y1="230.82" x2="1179.4" y2="230.82" stroke="#3a3a3a" stroke-width="2.4" />
<line x1="1169.1" y1="239.98" x2="1179.4" y2="239.98" stroke="#3a3a3a" stroke-width="2.4" />
<line x1="1169.1" y1="249.14" x2="1179.4" y2="249.14" stroke="#3a3a3a" stroke-width="2.4" />
<line x1="1160.6" y1="258.3" x2="1169.1" y2="258.3" stroke="#3a3a3a" stroke-width="2.4" />
<line x1="1169.1" y1="267.46" x2="1179.4" y2="267.46" stroke="#3a3a3a" stroke-width="2.4" />
<line x1="1169.1" y1="276.62" x2="1179.4" y2="276.62" stroke="#3a3a3a" stroke-width="2.4" />
<line x1="1169.1" y1="285.78" x2="1179.4" y2="285.78" stroke="#3a3a3a" stroke-width="2.4" />
<line x1="1169.1" y1="294.94" x2="1179.4" y2="294.94" stroke="#3a3a3a" stroke-width="2.4" />
<line x1="1160.6" y1="304.1" x2="1169.1" y2="304.1" stroke="#3a3a3a" stroke-width="2.4" />
<line x1="1169.1" y1="313.26" x2="1179.4" y2="313.26" stroke="#3a3a3a" stroke-width="2.4" />
<line x1="1169.1" y1="322.42" x2="1179.4" y2="322.42" stroke="#3a3a3a" stroke-width="2.4" />
<line x1="1169.1" y1="331.58" x2="1179.4" y2="331.58" stroke="#3a3a3a" stroke-width="2.4" />
<line x1="1169.1" y1="340.74" x2="1179.4" y2="340.74" stroke="#3a3a3a" stroke-width="2.4" />
<line x1="1160.6" y1="349.9" x2="1169.1" y2="349.9" stroke="#3a3a3a" stroke-width="2.4" />
<line x1="1169.1" y1="359.06" x2="1179.4" y2="359.06" stroke="#3a3a3a" stroke-width="2.4" />
<line x1="1169.1" y1="368.22" x2="1179.4" y2="368.22" stroke="#3a3a3a" stroke-width="2.4" />
<line x1="1169.1" y1="377.38" x2="1179.4" y2="377.38" stroke="#3a3a3a" stroke-width="2.4" />
<line x1="1169.1" y1="386.54" x2="1179.4" y2="386.54" stroke="#3a3a3a" stroke-width="2.4" />
<line x1="1160.6" y1="395.7" x2="1169.1" y2="395.7" stroke="#3a3a3a" stroke-width="2.4" />
<line x1="1169.1" y1="404.86" x2="1179.4" y2="404.86" stroke="#3a3a3a" stroke-width="2.4" />
<line x1="1169.1" y1="414.02" x2="1179.4" y2="414.02" stroke="#3a3a3a" stroke-width="2.4" />
<line x1="1169.1" y1="423.18" x2="1179.4" y2="423.18" stroke="#3a3a3a" stroke-width="2.4" />
<line x1="1169.1" y1="432.34" x2="1179.4" y2="432.34" stroke="#3a3a3a" stroke-width="2.4" />
<line x1="1160.6" y1="441.5" x2="1169.1" y2="441.5" stroke="#3a3a3a" stroke-width="2.4" />
<line x1="1169.1" y1="450.66" x2="1179.4" y2="450.66" stroke="#3a3a3a" stroke-width="2.4" />
<line x1="1169.1" y1="459.82" x2="1179.4" y2="459.82" stroke="#3a3a3a" stroke-width="2.4" />
<line x1="1169.1" y1="468.98" x2="1179.4" y2="468.98" stroke="#3a3a3a" stroke-width="2.4" />
<line x1="1169.1" y1="478.14" x2="1179.4" y2="478.14" stroke="#3a3a3a" stroke-width="2.4" />
<line x1="1160.6" y1="487.3" x2="1169.1" y2="487.3" stroke="#3a3a3a" stroke-width="2.4" />
<line x1="1169.1" y1="496.46" x2="1179.4" y2="496.46" stroke="#3a3a3a" stroke-width="2.4" />
<line x1="1169.1" y1="505.62" x2="1179.4" y2="505.62" stroke="#3a3a3a" stroke-width="2.4" />
<line x1="1169.1" y1="514.78" x2="1179.4" y2="514.78" stroke="#3a3a3a" stroke-width="2.4" />
<line x1="1169.1" y1="523.94" x2="1179.4" y2="523.94" stroke="#3a3a3a" stroke-width="2.4" />
<line x1="1160.6" y1="533.1" x2="1169.1" y2="533.1" stroke="#3a3a3a" stroke-width="2.4" />
<line x1="1169.1" y1="542.26" x2="1179.4" y2="542.26" stroke="#3a3a3a" stroke-width="2.4" />
<line x1="1169.1" y1="551.42" x2="1179.4" y2="551.42" stroke="#3a3a3a" stroke-width="2.4" />
<line x1="1169.1" y1="560.58" x2="1179.4" y2="560.58" stroke="#3a3a3a" stroke-width="2.4" />
<line x1="1169.1" y1="569.74" x2="1179.4" y2="569.74" stroke="#3a3a3a" stroke-width="2.4" />
<line x1="1160.6" y1="578.9" x2="1169.1" y2="578.9" stroke="#3a3a3a" stroke-width="2.4" />
<line x1="1169.1" y1="588.06" x2="1179.4" y2="588.06" stroke="#3a3a3a" stroke-width="2.4" />
<line x1="1169.1" y1="597.22" x2="1179.4" y2="597.22" stroke="#3a3a3a" stroke-width="2.4" />
<line x1="1169.1" y1="606.38" x2="1179.4" y2="606.38" stroke="#3a3a3a" stroke-width="2.4" />
<line x1="1169.1" y1="615.54" x2="1179.4" y2="615.54" stroke="#3a3a3a" stroke-width="2.4" />
<line x1="1160.6" y1="624.7" x2="1169.1" y2="624.7" stroke="#3a3a3a" stroke-width="2.4" />
<line x1="1169.1" y1="633.86" x2="1179.4" y2="633.86" stroke="#3a3a3a" stroke-width="2.4" />
<line x1="1169.1" y1="643.02" x2="1179.4" y2="643.02" stroke="#3a3a3a" stroke-width="2.4" />
<line x1="1169.1" y1="652.18" x2="1179.4" y2="652.18" stroke="#3a3a3a" stroke-width="2.4" />
<line x1="1169.1" y1="661.34" x2="1179.4" y2="661.34" stroke="#3a3a3a" stroke-width="2.4" />
<line x1="1160.6" y1="670.5" x2="1169.1" y2="670.5" stroke="#3a3a3a" stroke-width="2.4" />
<line x1="1169.1" y1="679.66" x2="1179.4" y2="679.66" stroke="#3a3a3a" stroke-width="2.4" />
<line x1="1169.1" y1="688.82" x2="1179.4" y2="688.82" stroke="#3a3a3a" stroke-width="2.4" />
<line x1="1169.1" y1="697.98" x2="1179.4" y2="697.98" stroke="#3a3a3a" stroke-width="2.4" />
<line x1="1169.1" y1="707.14" x2="1179.4" y2="707.14" stroke="#3a3a3a" stroke-width="2.4" />
<line x1="1160.6" y1="716.3" x2="1169.1" y2="716.3" stroke="#3a3a3a" stroke-width="2.4" />
<line x1="1169.1" y1="725.46" x2="1179.4" y2="725.46" stroke="#3a3a3a" stroke-width="2.4" />
<line x1="1169.1" y1="734.62" x2="1179.4" y2="734.62" stroke="#3a3a3a" stroke-width="2.4" />
<line x1="1169.1" y1="743.78" x2="1179.4" y2="743.78" stroke="#3a3a3a" stroke-width="2.4" />
<line x1="1169.1" y1="752.94" x2="1179.4" y2="752.94" stroke="#3a3a3a" stroke-width="2.4" />
<line x1="1160.6" y1="762.1" x2="1169.1" y2="762.1" stroke="#3a3a3a" stroke-width="2.4" />
<line x1="1169.1" y1="771.26" x2="1179.4" y2="771.26" stroke="#3a3a3a" stroke-width="2.4" />
<line x1="1169.1" y1="780.42" x2="1179.4" y2="780.42" stroke="#3a3a3a" stroke-width="2.4" />
<line x1="1169.1" y1="789.58" x2="1179.4" y2="789.58" stroke="#3a3a3a" stroke-width="2.4" />
<line x1="1169.1" y1="798.74" x2="1179.4" y2="798.74" stroke="#3a3a3a" stroke-width="2.4" />
<line x1="1160.6" y1="807.9" x2="1169.1" y2="807.9" stroke="#3a3a3a" stroke-width="2.4" />
<line x1="1169.1" y1="817.06" x2="1179.4" y2="817.06" stroke="#3a3a3a" stroke-width="2.4" />
<line x1="1169.1" y1="826.22" x2="1179.4" y2="826.22" stroke="#3a3a3a" stroke-width="2.4" />
<line x1="1169.1" y1="835.38" x2="1179.4" y2="835.38" stroke="#3a3a3a" stroke-width="2.4" />
<line x1="1169.1" y1="844.54" x2="1179.4" y2="844.54" stroke="#3a3a3a" stroke-width="2.4" />
<line x1="1160.6" y1="853.7" x2="1169.1" y2="853.7" stroke="#3a3a3a" stroke-width="2.4" />
<line x1="1169.1" y1="862.86" x2="1179.4" y2="862.86" stroke="#3a3a3a" stroke-width="2.4" />
<line x1="1169.1" y1="872.02" x2="1179.4" y2="872.02" stroke="#3a3a3a" stroke-width="2.4" />
<line x1="1169.1" y1="881.18" x2="1179.4" y2="881.18" stroke="#3a3a3a" stroke-width="2.4" />
<line x1="1169.1" y1="890.34" x2="1179.4" y2="890.34" stroke="#3a3a3a" stroke-width="2.4" />
<line x1="1160.6" y1="899.5" x2="1169.1" y2="899.5" stroke="#3a3a3a" stroke-width="2.4" />
<line x1="1169.1" y1="899.5" x2="1262.4" y2="899.5" stroke="#c8c8c8" stroke-width="1.6" />
<line x1="1169.1" y1="110.7" x2="1169.1" y2="120.9" stroke="#3a3a3a" stroke-width="2" />
<line x1="1176.12" y1="115.9" x2="1176.12" y2="120.9" stroke="#9a9a9a" stroke-width="1" />
<line x1="1180.23" y1="115.9" x2="1180.23" y2="120.9" stroke="#9a9a9a" stroke-width="1" />
<line x1="1183.14" y1="115.9" x2="1183.14" y2="120.9" stroke="#9a9a9a" stroke-width="1" />
<line x1="1185.4" y1="115.9" x2="1185.4" y2="120.9" stroke="#9a9a9a" stroke-width="1" />
<line x1="1187.25" y1="115.9" x2="1187.25" y2="120.9" stroke="#9a9a9a" stroke-width="1" />
<line x1="1188.81" y1="115.9" x2="1188.81" y2="120.9" stroke="#9a9a9a" stroke-width="1" />
<line x1="1190.16" y1="115.9" x2="1190.16" y2="120.9" stroke="#9a9a9a" stroke-width="1" />
<line x1="1191.36" y1="115.9" x2="1191.36" y2="120.9" stroke="#9a9a9a" stroke-width="1" />
<line x1="1192.42" y1="110.7" x2="1192.42" y2="120.9" stroke="#505050" stroke-width="2" />
<line x1="1199.45" y1="115.9" x2="1199.45" y2="120.9" stroke="#9a9a9a" stroke-width="1" />
<line x1="1203.55" y1="115.9" x2="1203.55" y2="120.9" stroke="#9a9a9a" stroke-width="1" />
<line x1="1206.47" y1="115.9" x2="1206.47" y2="120.9" stroke="#9a9a9a" stroke-width="1" />
<line x1="1208.73" y1="115.9" x2="1208.73" y2="120.9" stroke="#9a9a9a" stroke-width="1" />
<line x1="1210.58" y1="115.9" x2="1210.58" y2="120.9" stroke="#9a9a9a" stroke-width="1" />
<line x1="1212.14" y1="115.9" x2="1212.14" y2="120.9" stroke="#9a9a9a" stroke-width="1" />
<line x1="1213.49" y1="115.9" x2="1213.49" y2="120.9" stroke="#9a9a9a" stroke-width="1" />
<line x1="1214.68" y1="115.9" x2="1214.68" y2="120.9" stroke="#9a9a9a" stroke-width="1" />
<line x1="1215.75" y1="110.7" x2="1215.75" y2="120.9" stroke="#505050" stroke-width="2" />
<line x1="1222.77" y1="115.9" x2="1222.77" y2="120.9" stroke="#9a9a9a" stroke-width="1" />
<line x1="1226.88" y1="115.9" x2="1226.88" y2="120.9" stroke="#9a9a9a" stroke-width="1" />
<line x1="1229.79" y1="115.9" x2="1229.79" y2="120.9" stroke="#9a9a9a" stroke-width="1" />
<line x1="1232.05" y1="115.9" x2="1232.05" y2="120.9" stroke="#9a9a9a" stroke-width="1" />
<line x1="1233.9" y1="115.9" x2="1233.9" y2="120.9" stroke="#9a9a9a" stroke-width="1" />
<line x1="1235.46" y1="115.9" x2="1235.46" y2="120.9" stroke="#9a9a9a" stroke-width="1" />
<line x1="1236.81" y1="115.9" x2="1236.81" y2="120.9" stroke="#9a9a9a" stroke-width="1" />
<line x1="1238.01" y1="115.9" x2="1238.01" y2="120.9" stroke="#9a9a9a" stroke-width="1" />
<line x1="1239.08" y1="110.7" x2="1239.08" y2="120.9" stroke="#505050" stroke-width="2" />
<line x1="1246.1" y1="115.9" x2="1246.1" y2="120.9" stroke="#9a9a9a" stroke-width="1" />
<line x1="1250.2" y1="115.9" x2="1250.2" y2="120.9" stroke="#9a9a9a" stroke-width="1" />
<line x1="1253.12" y1="115.9" x2="1253.12" y2="120.9" stroke="#9a9a9a" stroke-width="1" />
<line x1="1255.38" y1="115.9" x2="1255.38" y2="120.9" stroke="#9a9a9a" stroke-width="1" />
<line x1="1257.23" y1="115.9" x2="1257.23" y2="120.9" stroke="#9a9a9a" stroke-width="1" />
<line x1="1258.79" y1="115.9" x2="1258.79" y2="120.9" stroke="#9a9a9a" stroke-width="1" />
<line x1="1260.14" y1="115.9" x2="1260.14" y2="120.9" stroke="#9a9a9a" stroke-width="1" />
<line x1="1261.33" y1="115.9" x2="1261.33" y2="120.9" stroke="#9a9a9a" stroke-width="1" />
<line x1="1262.4" y1="110.7" x2="1262.4" y2="120.9" stroke="#505050" stroke-width="2" />
<line x1="1262.4" y1="110.7" x2="1262.4" y2="120.9" stroke="#505050" stroke-width="2" />
<text x="21.9" y="23.9" font-family="Liberation Sans" font-size="29.6" font-weight="bold" text-anchor="start" fill="#000" textLength="20.4" lengthAdjust="spacingAndGlyphs" >A</text>
<text x="488" y="23.9" font-family="Liberation Sans" font-size="29.6" font-weight="bold" text-anchor="start" fill="#000" textLength="21.2" lengthAdjust="spacingAndGlyphs" >B</text>
<text x="888.9" y="23.9" font-family="Liberation Sans" font-size="29.6" font-weight="bold" text-anchor="start" fill="#000" textLength="21.4" lengthAdjust="spacingAndGlyphs" >C</text>
<text x="1146" y="23.9" font-family="Liberation Sans" font-size="29.6" font-weight="bold" text-anchor="start" fill="#000" textLength="21.2" lengthAdjust="spacingAndGlyphs" >D</text>
<text x="78.8" y="125.8" font-family="Liberation Sans" font-size="19.8" font-weight="bold" text-anchor="end" fill="#000" >0</text>
<text x="78.8" y="171.61" font-family="Liberation Sans" font-size="19.8" font-weight="bold" text-anchor="end" fill="#000" >25</text>
<text x="78.8" y="217.41" font-family="Liberation Sans" font-size="19.8" font-weight="bold" text-anchor="end" fill="#000" >50</text>
<text x="78.8" y="263.22" font-family="Liberation Sans" font-size="19.8" font-weight="bold" text-anchor="end" fill="#000" >75</text>
<text x="78.8" y="309.02" font-family="Liberation Sans" font-size="19.8" font-weight="bold" text-anchor="end" fill="#000" >100</text>
<text x="78.8" y="354.83" font-family="Liberation Sans" font-size="19.8" font-weight="bold" text-anchor="end" fill="#000" >125</text>
<text x="78.8" y="400.64" font-family="Liberation Sans" font-size="19.8" font-weight="bold" text-anchor="end" fill="#000" >150</text>
<text x="78.8" y="446.44" font-family="Liberation Sans" font-size="19.8" font-weight="bold" text-anchor="end" fill="#000" >175</text>
<text x="78.8" y="492.25" font-family="Liberation Sans" font-size="19.8" font-weight="bold" text-anchor="end" fill="#000" >200</text>
<text x="78.8" y="538.05" font-family="Liberation Sans" font-size="19.8" font-weight="bold" text-anchor="end" fill="#000" >225</text>
<text x="78.8" y="583.86" font-family="Liberation Sans" font-size="19.8" font-weight="bold" text-anchor="end" fill="#000" >250</text>
<text x="78.8" y="629.66" font-family="Liberation Sans" font-size="19.8" font-weight="bold" text-anchor="end" fill="#000" >275</text>
<text x="78.8" y="675.47" font-family="Liberation Sans" font-size="19.8" font-weight="bold" text-anchor="end" fill="#000" >300</text>
<text x="78.8" y="721.28" font-family="Liberation Sans" font-size="19.8" font-weight="bold" text-anchor="end" fill="#000" >325</text>
<text x="78.8" y="767.08" font-family="Liberation Sans" font-size="19.8" font-weight="bold" text-anchor="end" fill="#000" >350</text>
<text x="78.8" y="812.89" font-family="Liberation Sans" font-size="19.8" font-weight="bold" text-anchor="end" fill="#000" >375</text>
<text x="78.8" y="858.69" font-family="Liberation Sans" font-size="19.8" font-weight="bold" text-anchor="end" fill="#000" >400</text>
<text x="78.8" y="904.5" font-family="Liberation Sans" font-size="19.8" font-weight="bold" text-anchor="end" fill="#000" >425</text>
<text x="0" y="0" font-family="Liberation Sans" font-size="29" fill="#1a1a1a" class="th" textLength="248" lengthAdjust="spacingAndGlyphs" transform="translate(26.4 634) rotate(-90)">Water depth, d [m]</text>
<text x="110.2" y="945.8" font-family="Liberation Sans" font-size="19.6" font-weight="bold" text-anchor="middle" fill="#000" >18</text>
<text x="160.04" y="945.8" font-family="Liberation Sans" font-size="19.6" font-weight="bold" text-anchor="middle" fill="#000" >20</text>
<text x="209.88" y="945.8" font-family="Liberation Sans" font-size="19.6" font-weight="bold" text-anchor="middle" fill="#000" >22</text>
<text x="259.72" y="945.8" font-family="Liberation Sans" font-size="19.6" font-weight="bold" text-anchor="middle" fill="#000" >24</text>
<text x="309.56" y="945.8" font-family="Liberation Sans" font-size="19.6" font-weight="bold" text-anchor="middle" fill="#000" >26</text>
<text x="359.4" y="945.8" font-family="Liberation Sans" font-size="19.6" font-weight="bold" text-anchor="middle" fill="#000" >28</text>
<text x="501.7" y="957.6" font-family="Liberation Sans" font-size="19.6" font-weight="bold" text-anchor="middle" fill="#000" >10</text>
<text x="543.18" y="957.6" font-family="Liberation Sans" font-size="19.6" font-weight="bold" text-anchor="middle" fill="#000" >15</text>
<text x="584.67" y="957.6" font-family="Liberation Sans" font-size="19.6" font-weight="bold" text-anchor="middle" fill="#000" >20</text>
<text x="626.15" y="957.6" font-family="Liberation Sans" font-size="19.6" font-weight="bold" text-anchor="middle" fill="#000" >25</text>
<text x="667.63" y="957.6" font-family="Liberation Sans" font-size="19.6" font-weight="bold" text-anchor="middle" fill="#000" >30</text>
<text x="709.12" y="957.6" font-family="Liberation Sans" font-size="19.6" font-weight="bold" text-anchor="middle" fill="#000" >35</text>
<text x="750.6" y="957.6" font-family="Liberation Sans" font-size="19.6" font-weight="bold" text-anchor="middle" fill="#000" >40</text>
<text x="897.3" y="959.2" font-family="Liberation Sans" font-size="19.6" font-weight="bold" text-anchor="middle" fill="#000" textLength="43.4" lengthAdjust="spacingAndGlyphs" >1005</text>
<text x="947.12" y="959.2" font-family="Liberation Sans" font-size="19.6" font-weight="bold" text-anchor="middle" fill="#000" textLength="43.4" lengthAdjust="spacingAndGlyphs" >1010</text>
<text x="996.94" y="959.2" font-family="Liberation Sans" font-size="19.6" font-weight="bold" text-anchor="middle" fill="#000" textLength="43.4" lengthAdjust="spacingAndGlyphs" >1015</text>
<text x="1046.76" y="959.2" font-family="Liberation Sans" font-size="19.6" font-weight="bold" text-anchor="middle" fill="#000" textLength="43.4" lengthAdjust="spacingAndGlyphs" >1020</text>
<text x="1096.58" y="959.2" font-family="Liberation Sans" font-size="19.6" font-weight="bold" text-anchor="middle" fill="#000" textLength="43.4" lengthAdjust="spacingAndGlyphs" >1025</text>
<text x="1146.4" y="959.2" font-family="Liberation Sans" font-size="19.6" font-weight="bold" text-anchor="middle" fill="#000" textLength="43.4" lengthAdjust="spacingAndGlyphs" >1030</text>
<text x="1285.9" y="949" font-family="Liberation Sans" font-size="19.6" font-weight="bold" text-anchor="middle" fill="#000" textLength="43.4" lengthAdjust="spacingAndGlyphs" >1520</text>
<text x="1338.7" y="949" font-family="Liberation Sans" font-size="19.6" font-weight="bold" text-anchor="middle" fill="#000" textLength="43.4" lengthAdjust="spacingAndGlyphs" >1525</text>
<text x="1391.5" y="949" font-family="Liberation Sans" font-size="19.6" font-weight="bold" text-anchor="middle" fill="#000" textLength="43.4" lengthAdjust="spacingAndGlyphs" >1530</text>
<text x="105" y="983.7" font-family="Liberation Sans" font-size="28.9" font-weight="normal" text-anchor="start" fill="#1a1a1a" textLength="257.7" lengthAdjust="spacingAndGlyphs" class="th">Temperature, T [°C]</text>
<text x="524.5" y="996.8" font-family="Liberation Sans" font-size="28.9" font-weight="normal" text-anchor="start" fill="#1a1a1a" textLength="201" lengthAdjust="spacingAndGlyphs" class="th">Salinity, S [PSU]</text>
<text x="906.1" y="997" font-family="Liberation Sans" font-size="28.9" fill="#1a1a1a" class="th" textLength="230.9" lengthAdjust="spacingAndGlyphs">Density, ρ [kg/m<tspan font-size="18" dy="-11">3</tspan><tspan dy="11">]</tspan></text>
<text x="1267" y="981.3" font-family="Liberation Sans" font-size="24.5" font-weight="normal" text-anchor="start" fill="#1a1a1a" textLength="142" lengthAdjust="spacingAndGlyphs" class="th2">Sound Speed</text>
<text x="1310.5" y="1013" font-family="Liberation Sans" font-size="24.5" font-weight="normal" text-anchor="start" fill="#1a1a1a" textLength="55.5" lengthAdjust="spacingAndGlyphs" class="th2">[m/s]</text>
<text x="364.7" y="79.6" font-family="Liberation Sans" font-size="18.6" font-weight="normal" text-anchor="start" fill="#1a1a1a" textLength="127.4" lengthAdjust="spacingAndGlyphs" class="th2">|∂T/∂z| [°C/m]</text>
<text x="748" y="81.5" font-family="Liberation Sans" font-size="18.6" font-weight="normal" text-anchor="start" fill="#1a1a1a" textLength="142.8" lengthAdjust="spacingAndGlyphs" class="th2">|∂S/∂z| [PSU/m]</text>
<text x="1145" y="81" font-family="Liberation Sans" font-size="18.6" fill="#1a1a1a" class="th2" textLength="140" lengthAdjust="spacingAndGlyphs">|∂ρ/∂z| [kg/m<tspan font-size="11" dy="-7">4</tspan><tspan dy="7">]</tspan></text>
<text x="381.3" y="102.6" font-family="Liberation Sans" font-size="14.3" font-weight="bold" text-anchor="middle" fill="#000" textLength="36.3" lengthAdjust="spacingAndGlyphs" >0.001</text>
<text x="428.1" y="102.6" font-family="Liberation Sans" font-size="14.3" font-weight="bold" text-anchor="middle" fill="#000" textLength="19.8" lengthAdjust="spacingAndGlyphs" >0.1</text>
<text x="474.9" y="102.6" font-family="Liberation Sans" font-size="14.3" font-weight="bold" text-anchor="middle" fill="#000" textLength="15" lengthAdjust="spacingAndGlyphs" >10</text>
<text x="771.9" y="104.7" font-family="Liberation Sans" font-size="14.3" font-weight="bold" text-anchor="middle" fill="#000" textLength="36.3" lengthAdjust="spacingAndGlyphs" >0.001</text>
<text x="818.6" y="104.7" font-family="Liberation Sans" font-size="14.3" font-weight="bold" text-anchor="middle" fill="#000" textLength="19.8" lengthAdjust="spacingAndGlyphs" >0.1</text>
<text x="865.3" y="104.7" font-family="Liberation Sans" font-size="14.3" font-weight="bold" text-anchor="middle" fill="#000" textLength="15" lengthAdjust="spacingAndGlyphs" >10</text>
<text x="1169.1" y="104.5" font-family="Liberation Sans" font-size="14.3" font-weight="bold" text-anchor="middle" fill="#000" textLength="36.3" lengthAdjust="spacingAndGlyphs" >0.001</text>
<text x="1215.75" y="104.5" font-family="Liberation Sans" font-size="14.3" font-weight="bold" text-anchor="middle" fill="#000" textLength="19.8" lengthAdjust="spacingAndGlyphs" >0.1</text>
<text x="1262.4" y="104.5" font-family="Liberation Sans" font-size="14.3" font-weight="bold" text-anchor="middle" fill="#000" textLength="15" lengthAdjust="spacingAndGlyphs" >10</text>
<text x="173.6" y="154.8" font-family="Liberation Sans" font-size="14" font-weight="normal" text-anchor="start" fill="#3c3c3c" textLength="74.2" lengthAdjust="spacingAndGlyphs" >13.12.2023</text>
<line x1="173.6" y1="159" x2="255.3" y2="159" stroke="#333" stroke-width="1.1" />
<line x1="255.3" y1="159" x2="285.8" y2="127.5" stroke="#333" stroke-width="1.1" />
<text x="196.2" y="182.7" font-family="Liberation Sans" font-size="14" font-weight="normal" text-anchor="start" fill="#3c3c3c" textLength="74.1" lengthAdjust="spacingAndGlyphs" >06.12.2023</text>
<line x1="196.2" y1="185.5" x2="281" y2="185.5" stroke="#333" stroke-width="1.1" />
<line x1="281" y1="185.5" x2="332.2" y2="130.7" stroke="#333" stroke-width="1.1" />
<text x="518.8" y="155" font-family="Liberation Sans" font-size="14" font-weight="normal" text-anchor="start" fill="#3c3c3c" textLength="73.2" lengthAdjust="spacingAndGlyphs" >13.12.2023</text>
<line x1="512" y1="157" x2="593.3" y2="157" stroke="#333" stroke-width="1.1" />
<line x1="512" y1="157" x2="529.8" y2="127" stroke="#333" stroke-width="1.1" />
<text x="619.4" y="163.5" font-family="Liberation Sans" font-size="14" font-weight="normal" text-anchor="start" fill="#3c3c3c" textLength="73.9" lengthAdjust="spacingAndGlyphs" >06.12.2023</text>
<line x1="618" y1="168.4" x2="695.8" y2="168.4" stroke="#333" stroke-width="1.1" />
<line x1="618" y1="168.4" x2="595.7" y2="133" stroke="#333" stroke-width="1.1" />
<text x="728.1" y="159.4" font-family="Liberation Sans" font-size="18.5" font-weight="normal" text-anchor="start" fill="#222" textLength="20.1" lengthAdjust="spacingAndGlyphs" >TZ</text>
<path d="M717.7 129.9 L721.8 143 L748.8 143" stroke="#111" stroke-width="1.8" fill="none" stroke-linejoin="round" stroke-linecap="round" stroke-linecap="butt"/>
<rect x="897" y="140.5" width="69" height="13" fill="rgba(255,255,255,0.6)" />
<text x="898" y="151.3" font-family="Liberation Sans" font-size="12.2" font-weight="normal" text-anchor="start" fill="#3c3c3c" textLength="67.2" lengthAdjust="spacingAndGlyphs" >13.12.2023</text>
<line x1="898" y1="153.3" x2="965.2" y2="153.3" stroke="#333" stroke-width="1.1" />
<line x1="965.2" y1="153.3" x2="972.5" y2="133.8" stroke="#333" stroke-width="1.1" />
<text x="1001.8" y="192.8" font-family="Liberation Sans" font-size="14" font-weight="normal" text-anchor="start" fill="#3c3c3c" textLength="74" lengthAdjust="spacingAndGlyphs" >06.12.2023</text>
<line x1="1000.6" y1="194.5" x2="1076.2" y2="194.5" stroke="#333" stroke-width="1.1" />
<line x1="1000.6" y1="194.5" x2="975" y2="133" stroke="#333" stroke-width="1.1" />
<text x="123.5" y="477.8" font-family="Liberation Sans" font-size="14.5" font-weight="normal" text-anchor="start" fill="#1a1a1a" >d</text>
<text x="132.2" y="482.4" font-family="Liberation Sans" font-size="9.2" font-weight="normal" text-anchor="start" fill="#333" textLength="76.3" lengthAdjust="spacingAndGlyphs" >MAX, Previous CTD</text>
<text x="209.6" y="477.8" font-family="Liberation Sans" font-size="14.5" font-weight="normal" text-anchor="start" fill="#1a1a1a" textLength="79.7" lengthAdjust="spacingAndGlyphs" >: 200.0 mbsl</text>
<text x="123.5" y="615" font-family="Liberation Sans" font-size="14.5" font-weight="normal" text-anchor="start" fill="#1a1a1a" >d</text>
<text x="132.2" y="619.6" font-family="Liberation Sans" font-size="9.2" font-weight="normal" text-anchor="start" fill="#333" textLength="78.4" lengthAdjust="spacingAndGlyphs" >MAX, Echo sounder</text>
<text x="212" y="615" font-family="Liberation Sans" font-size="14.5" font-weight="normal" text-anchor="start" fill="#1a1a1a" textLength="79.4" lengthAdjust="spacingAndGlyphs" >: 274.4 mbsl</text>
<line x1="546.3" y1="561.4" x2="546.3" y2="573.4" stroke="#000" stroke-width="1.6" />
<path d="M546.3 557.4 L543.1 563.4 L549.5 563.4Z" fill="#000" />
<path d="M546.3 577.4 L543.1 571.4 L549.5 571.4Z" fill="#000" />
<text x="552.5" y="575.2" font-family="Liberation Sans" font-size="19" font-weight="normal" text-anchor="start" fill="#222" textLength="19.5" lengthAdjust="spacingAndGlyphs" >TZ</text>
<line x1="546.3" y1="700.3" x2="546.3" y2="717.5" stroke="#000" stroke-width="1.6" />
<path d="M546.3 696.3 L543.1 702.3 L549.5 702.3Z" fill="#000" />
<path d="M546.3 721.5 L543.1 715.5 L549.5 715.5Z" fill="#000" />
<text x="552.5" y="716" font-family="Liberation Sans" font-size="19" font-weight="normal" text-anchor="start" fill="#222" textLength="19.5" lengthAdjust="spacingAndGlyphs" >TZ</text>
<line x1="546" y1="856.8" x2="546" y2="885.9" stroke="#000" stroke-width="1.6" />
<path d="M546 852.8 L542.8 858.8 L549.2 858.8Z" fill="#000" />
<path d="M546 889.9 L542.8 883.9 L549.2 883.9Z" fill="#000" />
<text x="554" y="880.3" font-family="Liberation Sans" font-size="19" font-weight="normal" text-anchor="start" fill="#222" textLength="19.5" lengthAdjust="spacingAndGlyphs" >TZ</text>
<text x="0" y="0" font-family="Liberation Sans" font-size="14.5" fill="#333" transform="translate(1248.3 755.9) rotate(90)" textLength="84" lengthAdjust="spacingAndGlyphs">δ<tspan font-size="9" dy="4">1</tspan><tspan dy="-4">=0.5 kg/m</tspan><tspan font-size="9" dy="-6">4</tspan></text>
<text x="0" y="0" font-family="Liberation Sans" font-size="14.5" fill="#333" transform="translate(1222 755.1) rotate(90)" textLength="90" lengthAdjust="spacingAndGlyphs">δ<tspan font-size="9" dy="4">2</tspan><tspan dy="-4">=0.05 kg/m</tspan><tspan font-size="9" dy="-6">4</tspan></text>
</svg></body></html>
